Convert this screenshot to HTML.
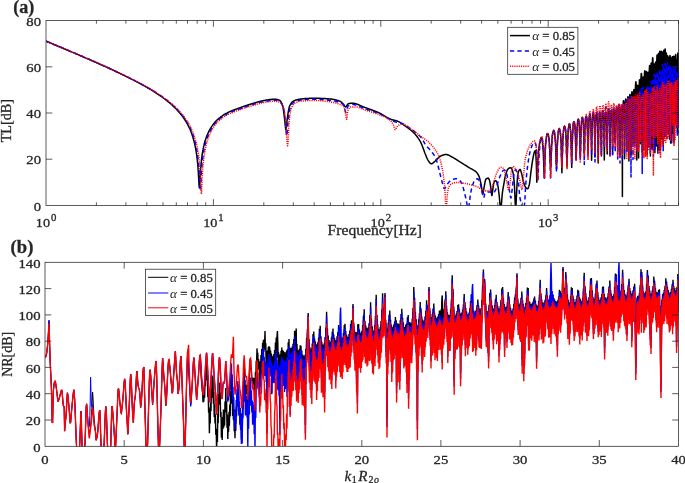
<!DOCTYPE html>
<html lang="en"><head><meta charset="utf-8"><title>TL and NR curves</title>
<style>html,body{margin:0;padding:0;background:#fff}svg{display:block}text{font-family:'Liberation Serif', 'DejaVu Serif', serif;fill:#262626;stroke:#262626;stroke-width:0.28px}</style>
</head><body>
<svg width="685" height="483" viewBox="0 0 685 483">
<rect width="685" height="483" fill="#fff"/>
<defs><clipPath id="ca"><rect x="46.0" y="20.5" width="633.0" height="185.0"/></clipPath>
<clipPath id="cb"><rect x="45.0" y="262.3" width="634.0" height="184.0"/></clipPath></defs>
<g clip-path="url(#ca)" fill="none" stroke-linejoin="round">
<path d="M46.0 41.1L48.0 42.0L50.0 42.8L52.0 43.6L54.0 44.5L56.0 45.3L58.0 46.2L60.0 47.0L62.0 47.8L64.0 48.7L66.0 49.5L68.0 50.4L70.0 51.2L72.0 52.1L74.0 52.9L76.0 53.8L78.0 54.6L80.0 55.5L82.0 56.3L84.0 57.2L86.0 58.1L88.0 58.9L90.0 59.8L92.0 60.7L94.0 61.5L96.0 62.4L98.0 63.3L100.0 64.2L102.0 65.1L104.0 66.0L106.0 66.9L108.0 67.8L110.0 68.7L112.0 69.6L114.0 70.6L116.0 71.5L118.0 72.5L120.0 73.4L122.0 74.4L124.0 75.3L126.0 76.3L128.0 77.3L130.0 78.3L132.0 79.3L134.0 80.3L136.0 81.4L138.0 82.4L140.0 83.5L142.0 84.6L144.0 85.7L146.0 86.9L148.0 88.0L150.0 89.2L152.0 90.4L154.0 91.7L156.0 92.9L158.0 94.3L160.0 95.6L162.0 97.0L164.0 98.5L166.0 100.0L168.0 101.6L170.0 103.2L172.0 105.0L174.0 106.9L176.0 108.8L178.0 110.9L180.0 113.2L180.5 113.8L181.0 114.5L181.5 115.1L182.0 115.7L182.5 116.4L183.0 117.1L183.5 117.8L184.0 118.5L184.5 119.2L185.0 120.0L185.5 120.8L186.0 121.6L186.5 122.4L187.0 123.3L187.5 124.2L188.0 125.2L188.5 126.1L189.0 127.2L189.5 128.2L190.0 129.3L190.5 130.5L191.0 131.7L191.5 133.1L192.0 134.4L192.5 135.9L193.0 137.5L193.5 139.2L194.0 141.1L194.5 143.1L195.0 145.3L195.5 147.8L196.0 150.6L196.2 151.6L196.3 152.5L196.5 153.5L196.6 154.6L196.8 155.7L196.9 156.9L197.1 158.1L197.2 159.4L197.4 160.8L197.5 162.3L197.7 163.9L197.8 165.6L198.0 167.4L198.1 169.4L198.3 171.5L198.4 173.9L198.6 176.4L198.7 179.1L198.9 181.9L199.0 184.5L199.2 186.6L199.3 187.7L199.5 187.2L199.6 185.5L199.8 183.1L199.9 180.4L200.1 177.7L200.2 175.1L200.4 172.7L200.5 170.5L200.7 168.5L200.8 166.7L201.0 165.0L201.1 163.4L201.3 161.9L201.4 160.5L201.6 159.2L201.7 158.0L201.9 156.8L202.0 155.7L202.2 154.7L202.3 153.7L202.5 152.8L202.6 151.9L202.8 151.0L202.9 150.2L203.1 149.4L203.2 148.6L203.4 147.9L203.5 147.2L203.7 146.5L203.8 145.9L204.0 145.2L204.1 144.6L204.3 144.0L204.4 143.4L204.6 142.9L204.7 142.3L204.9 141.8L205.0 141.3L205.2 140.8L205.3 140.3L205.5 139.8L205.6 139.4L205.8 138.9L205.9 138.5L206.0 138.2L206.5 136.8L207.0 135.5L207.5 134.3L208.0 133.2L208.5 132.1L209.0 131.1L209.5 130.2L210.0 129.3L210.5 128.4L211.0 127.6L211.5 126.8L212.0 126.1L212.5 125.4L213.0 124.7L213.5 124.0L214.0 123.4L214.5 122.8L215.0 122.2L215.5 121.6L216.0 121.1L216.5 120.5L217.0 120.0L217.2 119.8L217.6 119.5L218.0 119.1L218.4 118.8L218.8 118.5L219.2 118.2L219.6 117.9L220.0 117.6L220.4 117.2L220.8 116.9L221.2 116.6L221.6 116.4L222.0 116.1L222.4 115.8L222.8 115.5L223.2 115.2L223.6 115.0L224.0 114.7L224.4 114.4L224.8 114.2L225.2 114.0L225.6 113.7L226.0 113.5L226.4 113.3L226.8 113.1L227.1 112.9L227.2 112.8L227.6 112.6L228.0 112.4L228.4 112.3L228.8 112.1L229.2 111.9L229.6 111.7L230.0 111.5L230.4 111.4L230.8 111.2L231.2 111.0L231.6 110.9L232.0 110.7L232.4 110.5L232.8 110.4L233.2 110.2L233.6 110.1L234.0 109.9L234.4 109.8L234.8 109.6L235.2 109.5L235.6 109.3L236.0 109.2L236.4 109.0L236.8 108.9L237.2 108.8L237.6 108.6L238.0 108.5L238.4 108.3L238.8 108.2L239.2 108.0L239.6 107.9L239.6 107.9L240.0 107.8L240.4 107.6L240.8 107.5L241.2 107.3L241.6 107.2L242.0 107.0L242.4 106.9L242.8 106.7L243.2 106.6L243.6 106.5L244.0 106.3L244.4 106.2L244.8 106.0L245.2 105.9L245.6 105.8L246.0 105.6L246.4 105.5L246.8 105.4L247.2 105.2L247.6 105.1L248.0 105.0L248.4 104.8L248.8 104.7L249.2 104.6L249.6 104.5L250.0 104.3L250.4 104.2L250.8 104.1L251.2 104.0L251.6 103.8L252.0 103.7L252.4 103.6L252.4 103.6L252.8 103.5L253.2 103.4L253.6 103.2L254.0 103.1L254.4 103.0L254.8 102.9L255.2 102.8L255.6 102.7L256.0 102.5L256.4 102.4L256.8 102.3L257.2 102.2L257.6 102.1L258.0 102.0L258.4 101.9L258.8 101.7L259.2 101.6L259.6 101.5L260.0 101.4L260.4 101.3L260.8 101.2L261.2 101.1L261.6 101.0L262.0 100.9L262.4 100.9L262.8 100.8L263.2 100.7L263.6 100.6L264.0 100.5L264.4 100.5L264.8 100.4L264.8 100.4L265.2 100.3L265.6 100.3L266.0 100.2L266.4 100.1L266.8 100.1L267.2 100.0L267.6 99.9L268.0 99.9L268.4 99.8L268.8 99.7L269.2 99.7L269.6 99.6L270.0 99.6L270.4 99.5L270.8 99.5L271.2 99.4L271.6 99.4L272.0 99.3L272.4 99.3L272.8 99.3L273.2 99.2L273.6 99.2L274.0 99.2L274.4 99.2L274.7 99.2L274.8 99.2L275.2 99.2L275.6 99.2L276.0 99.3L276.4 99.3L276.8 99.4L277.2 99.5L277.6 99.6L278.0 99.7L278.4 99.9L278.8 100.0L279.2 100.2L279.6 100.4L279.7 100.4L280.0 100.6L280.4 101.0L280.8 101.5L281.2 102.3L281.6 103.1L282.0 104.1L282.4 105.2L282.7 106.1L282.8 106.4L283.2 108.4L283.6 111.1L284.0 114.2L284.4 117.5L284.7 119.8L284.8 120.6L285.2 124.8L285.6 128.6L285.9 129.7L286.0 129.6L286.4 126.8L286.8 122.5L287.1 119.8L287.2 119.1L287.6 116.4L288.0 113.7L288.4 111.2L288.8 109.1L289.2 107.3L289.6 106.1L289.6 106.1L290.0 105.3L290.4 104.5L290.8 103.8L291.2 103.2L291.6 102.7L292.0 102.2L292.4 101.8L292.8 101.5L293.2 101.3L293.3 101.2L293.6 101.0L294.0 100.8L294.4 100.7L294.8 100.5L295.2 100.3L295.6 100.2L296.0 100.0L296.4 99.9L296.8 99.8L297.2 99.7L297.6 99.6L298.0 99.5L298.4 99.4L298.8 99.3L299.2 99.3L299.6 99.2L299.6 99.2L300.0 99.2L300.4 99.1L300.8 99.1L301.2 99.0L301.6 99.0L302.0 98.9L302.4 98.9L302.8 98.8L303.2 98.8L303.6 98.8L304.0 98.7L304.4 98.7L304.8 98.6L305.2 98.6L305.6 98.6L306.0 98.5L306.4 98.5L306.8 98.5L307.2 98.5L307.6 98.4L308.0 98.4L308.4 98.4L308.8 98.4L309.2 98.3L309.6 98.3L310.0 98.3L310.4 98.3L310.8 98.3L311.2 98.3L311.6 98.2L312.0 98.2L312.4 98.2L312.8 98.2L313.2 98.2L313.6 98.2L314.0 98.2L314.4 98.2L314.4 98.2L314.8 98.2L315.2 98.2L315.6 98.2L316.0 98.2L316.4 98.2L316.8 98.2L317.2 98.2L317.6 98.2L318.0 98.2L318.4 98.3L318.8 98.3L319.2 98.3L319.6 98.3L320.0 98.3L320.4 98.3L320.8 98.4L321.2 98.4L321.6 98.4L322.0 98.4L322.4 98.4L322.8 98.5L323.2 98.5L323.6 98.5L324.0 98.5L324.4 98.5L324.8 98.6L325.2 98.6L325.6 98.6L326.0 98.7L326.4 98.7L326.8 98.7L327.2 98.7L327.6 98.8L328.0 98.8L328.4 98.8L328.8 98.9L329.2 98.9L329.3 98.9L329.6 98.9L330.0 99.0L330.4 99.0L330.8 99.0L331.2 99.1L331.6 99.1L332.0 99.2L332.4 99.3L332.8 99.3L333.2 99.4L333.6 99.5L334.0 99.5L334.4 99.6L334.8 99.7L335.2 99.8L335.6 99.9L336.0 100.0L336.4 100.1L336.8 100.2L337.2 100.3L337.6 100.4L338.0 100.5L338.4 100.7L338.8 100.8L339.2 100.9L339.6 101.1L339.9 101.2L340.0 101.2L340.4 101.4L340.8 101.7L341.2 102.0L341.6 102.3L342.0 102.7L342.4 103.1L342.8 103.5L343.2 104.0L343.6 104.4L343.6 104.4L344.0 105.0L344.4 105.7L344.8 106.4L345.2 106.8L345.4 106.9L345.6 106.9L346.0 106.6L346.4 106.2L346.8 105.6L347.2 105.0L347.6 104.5L348.0 104.0L348.4 103.7L348.6 103.6L348.8 103.6L349.2 103.5L349.6 103.4L350.0 103.4L350.4 103.3L350.8 103.3L351.2 103.2L351.6 103.2L352.0 103.2L352.3 103.2L352.4 103.2L352.8 103.2L353.2 103.2L353.6 103.3L354.0 103.3L354.4 103.4L354.8 103.5L355.2 103.6L355.6 103.7L356.0 103.8L356.4 103.9L356.8 104.1L357.2 104.2L357.6 104.4L358.0 104.5L358.4 104.7L358.8 104.9L359.2 105.0L359.6 105.2L360.0 105.4L360.4 105.6L360.8 105.8L361.2 105.9L361.6 106.1L362.0 106.3L362.4 106.5L362.8 106.6L363.2 106.8L363.6 107.0L364.0 107.1L364.4 107.3L364.7 107.4L364.8 107.4L365.2 107.6L365.6 107.7L366.0 107.9L366.4 108.0L366.8 108.1L367.2 108.3L367.6 108.4L368.0 108.6L368.4 108.7L368.8 108.9L369.2 109.0L369.6 109.1L370.0 109.3L370.4 109.4L370.8 109.6L371.2 109.7L371.6 109.9L372.0 110.0L372.4 110.2L372.8 110.3L373.2 110.5L373.6 110.6L374.0 110.8L374.4 110.9L374.8 111.1L375.2 111.2L375.6 111.4L376.0 111.6L376.4 111.7L376.8 111.9L377.2 112.0L377.6 112.2L378.0 112.4L378.4 112.6L378.8 112.7L379.2 112.9L379.6 113.1L379.6 113.1L380.0 113.3L380.4 113.5L380.8 113.7L381.2 113.9L381.6 114.1L382.0 114.4L382.4 114.6L382.8 114.8L383.2 115.1L383.6 115.3L384.0 115.6L384.4 115.8L384.8 116.1L385.2 116.3L385.6 116.6L386.0 116.8L386.4 117.1L386.8 117.3L387.2 117.6L387.6 117.8L388.0 118.0L388.4 118.2L388.8 118.4L389.2 118.6L389.6 118.8L390.0 119.0L390.4 119.2L390.8 119.3L390.8 119.3L391.2 119.4L391.6 119.6L392.0 119.7L392.4 119.8L392.8 119.9L393.2 120.0L393.6 120.1L394.0 120.2L394.4 120.3L394.8 120.3L395.2 120.4L395.6 120.6L396.0 120.7L396.4 120.8L396.8 120.9L397.0 121.0L397.2 121.1L397.6 121.2L398.0 121.4L398.4 121.6L398.8 121.8L399.2 122.0L399.6 122.2L400.0 122.4L400.4 122.7L400.8 122.9L401.2 123.2L401.6 123.4L402.0 123.7L402.4 124.0L402.8 124.2L403.2 124.5L403.6 124.8L404.0 125.1L404.4 125.4L404.8 125.7L405.2 126.0L405.6 126.3L406.0 126.5L406.4 126.8L406.8 127.1L406.9 127.2L407.2 127.4L407.6 127.7L408.0 128.0L408.4 128.3L408.8 128.6L409.2 128.9L409.6 129.2L410.0 129.5L410.4 129.8L410.8 130.1L411.2 130.4L411.6 130.8L412.0 131.1L412.4 131.5L412.8 131.8L413.2 132.2L413.6 132.6L414.0 133.0L414.4 133.4L414.4 133.4L414.8 133.8L415.2 134.3L415.6 134.7L416.0 135.2L416.4 135.7L416.8 136.2L417.2 136.7L417.6 137.3L418.0 137.9L418.4 138.4L418.8 139.1L419.2 139.7L419.6 140.4L420.0 141.0L420.4 141.7L420.6 142.1L420.8 142.5L421.2 143.3L421.6 144.2L422.0 145.2L422.4 146.2L422.8 147.3L423.2 148.4L423.6 149.5L424.0 150.6L424.4 151.7L424.8 152.8L425.2 153.8L425.5 154.5L425.6 154.7L426.0 155.7L426.4 156.7L426.8 157.7L427.2 158.6L427.6 159.5L428.0 160.2L428.3 160.7L428.4 160.8L428.8 161.4L429.2 162.0L429.6 162.5L430.0 163.0L430.4 163.3L430.8 163.6L431.2 163.8L431.4 163.8L431.6 163.8L432.0 163.7L432.4 163.5L432.8 163.2L433.2 162.9L433.6 162.5L434.0 162.1L434.4 161.7L434.8 161.3L435.2 161.0L435.5 160.7L435.6 160.6L436.0 160.3L436.4 159.9L436.8 159.5L437.2 159.1L437.6 158.6L438.0 158.2L438.4 157.8L438.8 157.4L439.2 157.0L439.6 156.7L440.0 156.4L440.4 156.1L440.7 156.0L440.8 156.0L441.2 155.8L441.6 155.6L442.0 155.4L442.4 155.3L442.8 155.1L443.2 155.0L443.6 154.9L444.0 154.8L444.4 154.7L444.8 154.6L445.2 154.5L445.6 154.5L445.9 154.5L446.0 154.5L446.4 154.5L446.8 154.6L447.2 154.7L447.6 154.8L448.0 154.9L448.4 155.1L448.8 155.2L449.2 155.4L449.6 155.6L450.0 155.9L450.4 156.1L450.8 156.3L451.2 156.5L451.6 156.8L452.0 157.0L452.4 157.2L452.8 157.4L453.1 157.6L453.2 157.7L453.6 157.9L454.0 158.1L454.4 158.3L454.8 158.5L455.2 158.8L455.6 159.0L456.0 159.3L456.4 159.5L456.8 159.8L457.2 160.0L457.6 160.3L458.0 160.6L458.4 160.8L458.8 161.1L459.2 161.4L459.6 161.6L460.0 161.9L460.4 162.2L460.8 162.4L461.2 162.7L461.4 162.8L461.6 162.9L462.0 163.2L462.4 163.4L462.8 163.7L463.2 163.9L463.6 164.2L464.0 164.4L464.4 164.7L464.8 164.9L465.2 165.2L465.6 165.4L466.0 165.7L466.4 166.0L466.8 166.2L467.2 166.5L467.6 166.7L468.0 167.0L468.4 167.2L468.8 167.4L469.2 167.7L469.6 167.9L469.7 168.0L470.0 168.2L470.4 168.4L470.8 168.6L471.2 168.8L471.6 169.0L472.0 169.2L472.4 169.4L472.8 169.6L473.2 169.8L473.6 170.1L474.0 170.3L474.4 170.6L474.8 170.8L475.2 171.1L475.6 171.4L475.9 171.7L476.0 171.8L476.4 172.2L476.8 172.6L477.2 173.1L477.6 173.7L478.0 174.4L478.4 175.1L478.8 175.9L479.0 176.3L479.2 176.8L479.6 178.0L480.0 179.6L480.4 181.3L480.8 183.1L481.1 184.5L481.2 185.0L481.6 187.6L482.0 190.6L482.4 193.0L482.8 194.0L482.8 194.0L483.2 192.9L483.6 190.5L484.0 187.7L484.2 186.6L484.4 185.6L484.8 183.3L485.2 181.2L485.6 179.8L485.8 179.4L486.0 179.2L486.4 178.9L486.8 178.6L487.2 178.3L487.6 178.2L488.0 178.1L488.2 178.1L488.4 178.2L488.8 178.7L489.2 179.6L489.6 180.8L489.8 181.4L490.0 182.3L490.4 184.9L490.8 188.0L490.9 188.7L491.2 191.2L491.6 194.5L491.9 195.6L492.0 195.5L492.4 192.9L492.8 189.4L492.9 188.7L493.2 186.7L493.6 184.0L494.0 182.2L494.1 182.0L494.4 181.6L494.8 181.2L495.2 180.9L495.6 180.7L495.8 180.7L496.0 180.8L496.4 181.2L496.8 182.1L497.2 183.2L497.6 184.5L497.6 184.5L498.0 186.4L498.4 189.2L498.8 192.5L499.1 194.9L499.2 195.7L499.6 200.0L500.0 204.6L500.4 208.1L500.7 209.0L500.8 208.9L501.2 206.5L501.6 202.1L502.0 197.1L502.4 192.8L502.5 192.0L502.8 190.0L503.2 187.7L503.5 186.0L503.6 185.4L504.0 183.1L504.4 180.8L504.8 178.5L505.2 176.6L505.6 175.0L505.6 175.0L506.0 173.7L506.4 172.4L506.8 171.3L507.2 170.3L507.6 169.5L508.0 169.0L508.1 168.9L508.4 168.7L508.8 168.4L509.2 168.1L509.6 167.9L510.0 167.8L510.4 167.7L510.6 167.7L510.8 167.7L511.2 168.1L511.6 168.7L512.0 169.5L512.4 170.5L512.7 171.4L512.8 171.7L513.2 173.7L513.6 176.6L514.0 180.3L514.4 184.6L514.4 184.6L514.8 193.0L515.2 203.7L515.6 209.0L515.6 209.0L516.0 204.9L516.4 196.7L516.6 193.0L516.8 189.4L517.2 181.7L517.6 176.4L517.6 176.4L518.0 173.9L518.4 172.0L518.8 170.8L518.9 170.6L519.2 170.1L519.6 169.6L520.0 169.4L520.0 169.4L520.4 169.8L520.8 170.8L521.2 172.1L521.6 173.6L521.7 173.9L522.0 175.1L522.4 177.1L522.8 179.1L523.2 180.9L523.3 181.3L523.6 182.3L524.0 183.6L524.4 184.8L524.8 185.8L525.2 186.7L525.5 187.1L525.6 187.2L526.0 187.7L526.4 188.1L526.8 188.5L527.2 188.7L527.6 188.8L527.6 188.8L528.0 188.5L528.4 187.6L528.8 186.4L529.2 185.0L529.3 184.6L529.6 183.1L530.0 180.0L530.4 176.5L530.8 172.9L531.0 171.4L531.2 170.0L531.6 167.1L532.0 164.2L532.4 161.6L532.8 159.2L533.0 158.1L533.2 157.1L533.6 155.0L534.0 153.2L534.4 151.9L534.6 151.5L534.8 151.2L535.2 150.8L535.4 150.7L535.6 151.5L536.0 157.0L536.3 163.0L536.4 166.3L536.8 182.2L536.8 182.2L537.2 176.0L537.6 166.4L537.6 166.4L538.0 159.5L538.4 153.3L538.7 149.9L538.8 149.0L539.2 145.9L539.6 143.4L540.0 141.4L540.4 139.9L540.4 139.9L540.8 138.8L541.2 137.9L541.6 137.5L541.6 137.5L542.0 138.6L542.4 141.5L542.8 145.5L542.9 146.6L543.2 151.3L543.6 160.5L543.7 163.0L544.0 171.5L544.2 178.0L544.7 165.1L545.2 151.5L545.6 143.9L546.1 139.2L546.6 136.1L547.0 134.3L547.5 133.6L547.9 133.8L548.4 135.2L548.8 137.8L549.3 142.1L549.7 149.1L550.2 162.3L550.6 169.2L551.0 161.9L551.5 148.2L551.9 140.7L552.3 136.0L552.8 132.9L553.2 131.1L553.6 130.4L554.0 130.8L554.4 132.2L554.8 134.9L555.3 139.3L555.7 146.4L556.1 159.7L556.5 168.7L556.9 159.4L557.3 145.9L557.7 138.5L558.1 133.8L558.5 130.8L558.9 129.1L559.2 128.5L559.6 128.9L560.0 130.3L560.4 133.0L560.8 137.4L561.2 144.5L561.5 157.8L561.9 172.7L562.3 157.4L562.7 143.8L563.0 136.3L563.4 131.6L563.8 128.5L564.1 126.7L564.5 126.0L564.8 126.4L565.2 127.8L565.6 130.4L565.9 134.8L566.3 142.0L566.6 155.2L567.0 166.9L567.3 154.9L567.7 141.4L568.0 134.0L568.4 129.3L568.7 126.3L569.0 124.6L569.4 124.0L569.7 124.3L570.0 125.8L570.4 128.5L570.7 132.9L571.0 140.0L571.4 153.3L571.7 167.5L572.0 153.0L572.4 139.4L572.7 131.9L573.0 127.2L573.3 124.1L573.6 122.4L574.0 121.6L574.3 122.0L574.6 123.3L574.9 126.0L575.2 130.4L575.5 137.5L575.8 150.7L576.1 159.6L576.4 150.3L576.8 136.7L577.1 129.3L577.4 124.5L577.7 121.5L578.0 119.7L578.3 119.0L578.6 119.4L578.9 120.8L579.2 123.5L579.4 127.8L579.7 135.0L580.0 148.2L580.3 157.4L580.6 148.0L580.9 134.4L581.2 127.0L581.5 122.4L581.8 119.4L582.0 117.8L582.3 117.2L582.6 117.6L582.9 119.1L583.2 121.8L583.5 126.3L583.7 133.5L584.0 146.8L584.3 153.7L584.6 146.7L584.8 133.2L585.1 125.8L585.4 121.2L585.6 118.3L585.9 116.6L586.2 116.0L586.4 116.4L586.7 117.9L587.0 120.6L587.2 125.1L587.5 132.3L587.8 145.6L588.0 153.6L588.3 145.2L588.6 131.7L588.8 124.3L589.1 119.6L589.3 116.7L589.6 115.0L589.8 114.4L590.1 114.8L590.3 116.3L590.6 119.0L590.9 123.4L591.1 130.6L591.4 143.9L591.6 160.3L591.8 143.6L592.1 130.1L592.3 122.7L592.6 118.1L592.8 115.2L593.1 113.5L593.3 112.9L593.6 113.4L593.8 114.9L594.0 117.7L594.3 122.1L594.5 129.4L594.8 142.7L595.0 156.3L595.2 143.7L595.5 130.2L595.7 122.9L595.9 118.3L596.2 115.4L596.4 113.8L596.6 113.2L596.9 113.7L597.1 115.2L597.3 118.0L597.6 122.5L597.8 129.7L598.0 143.1L598.2 162.9L598.5 142.7L598.7 129.2L598.9 121.9L599.2 117.3L599.4 114.4L599.6 112.8L599.8 112.2L600.0 112.7L600.3 114.2L600.5 117.1L600.7 121.6L600.9 128.8L601.1 142.2L601.4 155.9L601.6 141.0L601.8 127.5L602.0 120.2L602.2 115.6L602.4 112.7L602.7 111.1L602.9 110.6L603.1 111.0L603.3 112.6L603.5 115.4L603.7 119.9L603.9 127.1L604.1 140.5L604.3 160.0L604.6 142.5L604.8 129.0L605.0 121.7L605.2 117.1L605.4 114.2L605.6 112.6L605.8 112.0L606.0 112.5L606.2 114.0L606.4 116.9L606.6 121.4L606.8 128.6L607.0 142.0L607.2 153.9L607.4 139.1L607.6 125.6L607.8 118.3L608.0 113.7L608.2 110.8L608.4 109.2L608.6 108.7L608.8 109.1L609.0 110.7L609.2 113.5L609.4 118.0L609.6 125.2L609.8 138.6L610.0 154.9L610.2 141.0L610.3 127.5L610.5 120.2L610.7 115.6L610.9 112.7L611.1 111.1L611.3 110.5L611.5 111.0L611.7 112.5L611.9 115.3L612.1 119.8L612.2 127.1L612.4 140.4L612.6 154.2L612.8 141.0L613.0 127.6L613.2 120.2L613.4 115.6L613.5 112.7L613.7 111.1L613.9 110.5L614.1 111.0L614.3 112.5L614.5 115.3L614.6 119.8L614.8 127.0L615.0 140.4L615.2 142.8L615.4 138.6L615.5 125.1L615.7 117.7L615.9 113.1L616.1 110.2L616.3 108.6L616.4 108.0L616.6 108.4L616.8 109.9L617.0 112.7L617.1 117.2L617.3 124.4L617.5 137.7L617.7 150.8L617.8 135.2L618.0 121.7L618.2 114.3L618.3 109.7L618.5 106.7L618.7 105.1L618.9 104.5L619.0 104.9L619.2 106.4L619.4 109.1L619.5 113.6L619.7 120.7L619.9 134.0L620.0 154.4L620.2 138.0L620.4 124.4L620.6 117.0L620.7 112.3L620.9 109.3L621.1 107.6L621.2 106.9L621.4 107.2L621.5 108.6L621.7 111.3L621.9 115.6L622.0 122.7L622.2 135.9L622.4 196.5L622.5 132.2L622.7 118.6L622.9 111.1L623.0 106.4L623.2 103.3L623.3 101.5L623.5 100.7L623.7 101.0L623.8 102.4L624.0 105.0L624.1 109.3L624.3 116.4L624.5 129.6L624.6 158.7L624.8 130.6L624.9 116.9L625.1 109.4L625.2 104.7L625.4 101.6L625.6 99.7L625.7 99.0L625.9 99.2L626.0 100.5L626.2 103.1L626.3 107.4L626.5 114.4L626.6 127.6L626.8 151.2L626.9 128.6L627.1 114.9L627.2 107.4L627.4 102.5L627.6 99.4L627.7 97.6L627.9 96.8L628.0 97.1L628.2 98.4L628.3 101.1L628.5 105.4L628.6 112.4L628.8 125.6L628.9 161.0L629.1 125.8L629.2 112.1L629.3 104.7L629.5 99.9L629.6 96.9L629.8 95.1L629.9 94.4L630.1 94.7L630.2 96.1L630.4 98.8L630.5 103.1L630.7 110.2L630.8 123.5L631.0 154.8L631.1 123.0L631.2 109.4L631.4 101.9L631.5 97.2L631.7 94.2L631.8 92.4L632.0 91.8L632.1 92.1L632.2 93.5L632.4 96.2L632.5 100.6L632.7 107.7L632.8 120.9L633.0 143.0L633.1 120.8L633.2 107.2L633.4 99.8L633.5 95.0L633.7 92.0L633.8 90.3L633.9 89.6L634.1 89.9L634.2 91.3L634.4 94.0L634.5 98.4L634.6 105.5L634.8 118.7L634.9 142.7L635.0 113.0L635.2 99.4L635.3 91.9L635.4 87.2L635.6 84.2L635.7 82.4L635.9 81.7L636.0 82.0L636.1 83.5L636.3 86.1L636.4 90.5L636.5 97.6L636.7 110.8L636.8 160.0L636.9 116.5L637.1 102.9L637.2 95.5L637.3 90.8L637.5 87.7L637.6 86.0L637.7 85.3L637.9 85.6L638.0 87.0L638.1 89.7L638.3 94.1L638.4 101.2L638.5 114.4L638.6 158.1L638.8 111.0L638.9 97.4L639.0 90.0L639.2 85.2L639.3 82.2L639.4 80.5L639.5 79.8L639.7 80.1L639.8 81.5L639.9 84.2L640.1 88.6L640.2 95.7L640.3 108.9L640.4 143.7L640.6 104.6L640.7 91.0L640.8 83.6L640.9 78.9L641.1 75.8L641.2 74.1L641.3 73.4L641.5 73.7L641.6 75.1L641.7 77.8L641.8 82.2L642.0 89.3L642.1 102.5L642.2 152.1L642.3 108.3L642.4 94.7L642.6 87.2L642.7 82.5L642.8 79.5L642.9 77.7L643.1 77.0L643.2 77.4L643.3 78.8L643.4 81.5L643.6 85.8L643.7 92.9L643.8 106.2L643.9 150.0L644.0 102.0L644.2 88.4L644.3 80.9L644.4 76.2L644.5 73.2L644.6 71.5L644.8 70.8L644.9 71.1L645.0 72.5L645.1 75.2L645.2 79.6L645.4 86.7L645.5 100.0L645.6 141.3L645.7 102.8L645.8 89.2L645.9 81.8L646.1 77.1L646.2 74.1L646.3 72.3L646.4 71.6L646.5 72.0L646.6 73.4L646.8 76.1L646.9 80.4L647.0 87.5L647.1 100.8L647.2 154.7L647.3 103.4L647.5 89.8L647.6 82.3L647.7 77.6L647.8 74.6L647.9 72.9L648.0 72.2L648.1 72.5L648.3 73.9L648.4 76.6L648.5 81.0L648.6 88.1L648.7 101.4L648.8 138.9L648.9 96.7L649.1 83.2L649.2 75.7L649.3 71.0L649.4 68.0L649.5 66.3L649.6 65.6L649.7 66.0L649.8 67.4L650.0 70.1L650.1 74.5L650.2 81.6L650.3 94.9L650.4 155.9L650.5 94.1L650.6 80.5L650.7 73.1L650.8 68.4L651.0 65.5L651.1 63.7L651.2 63.1L651.3 63.5L651.4 64.9L651.5 67.6L651.6 72.1L651.7 79.2L651.8 92.5L651.9 148.3L652.0 88.6L652.2 75.1L652.3 67.7L652.4 63.0L652.5 60.0L652.6 58.3L652.7 57.7L652.8 58.1L652.9 59.5L653.0 62.2L653.1 66.7L653.2 73.8L653.3 87.1L653.4 149.7L653.5 94.9L653.6 81.4L653.8 74.0L653.9 69.3L654.0 66.3L654.1 64.6L654.2 64.0L654.3 64.4L654.4 65.8L654.5 68.6L654.6 73.0L654.7 80.2L654.8 93.5L654.9 152.8L655.0 92.9L655.1 79.4L655.2 72.0L655.3 67.4L655.4 64.4L655.5 62.7L655.6 62.1L655.7 62.5L655.8 64.0L655.9 66.7L656.0 71.2L656.1 78.3L656.3 91.7L656.4 146.0L656.5 85.7L656.6 72.2L656.7 64.8L656.8 60.2L656.9 57.2L657.0 55.5L657.1 54.9L657.2 55.4L657.3 56.9L657.4 59.6L657.5 64.1L657.6 71.3L657.7 84.6L657.8 150.1L657.9 84.2L658.0 70.7L658.1 63.3L658.2 58.7L658.3 55.8L658.4 54.1L658.5 53.5L658.6 54.0L658.7 55.5L658.8 58.3L658.9 62.7L659.0 70.0L659.1 83.3L659.2 150.8L659.3 81.8L659.4 68.3L659.4 61.0L659.5 56.4L659.6 53.4L659.7 51.8L659.8 51.2L659.9 51.6L660.0 53.2L660.1 55.9L660.2 60.4L660.3 67.6L660.4 81.0L660.5 149.8L660.6 81.8L660.7 68.3L660.8 60.9L660.9 56.3L661.0 53.4L661.1 51.8L661.2 51.2L661.3 51.6L661.4 53.2L661.5 56.0L661.6 60.5L661.7 67.7L661.8 81.0L661.9 138.4L661.9 82.3L662.0 68.9L662.1 61.5L662.2 56.9L662.3 54.0L662.4 52.4L662.5 51.9L662.6 52.3L662.7 53.9L662.8 56.7L662.9 61.2L663.0 68.5L663.1 81.9L663.2 144.9L663.3 80.6L663.4 67.1L663.4 59.8L663.5 55.3L663.6 52.4L663.7 50.8L663.8 50.3L663.9 50.8L664.0 52.4L664.1 55.3L664.2 59.8L664.3 67.1L664.4 80.5L664.5 137.1L664.5 79.0L664.6 65.6L664.7 58.3L664.8 53.8L664.9 51.0L665.0 49.4L665.1 48.9L665.2 49.4L665.3 51.0L665.4 53.9L665.5 58.5L665.5 65.8L665.6 79.3L665.7 136.0L665.8 83.1L665.9 69.7L666.0 62.4L666.1 57.9L666.2 55.1L666.3 53.6L666.3 53.1L666.4 53.7L666.5 55.3L666.6 58.2L666.7 62.8L666.8 70.1L666.9 83.6L667.0 128.4L667.1 85.6L667.1 72.2L667.2 65.0L667.3 60.5L667.4 57.7L667.5 56.2L667.6 55.7L667.7 56.3L667.8 57.9L667.8 60.8L667.9 65.4L668.0 72.7L668.1 86.2L668.2 133.8L668.3 87.1L668.4 73.8L668.5 66.6L668.5 62.1L668.6 59.3L668.7 57.7L668.8 57.3L668.9 57.9L669.0 59.5L669.1 62.4L669.1 67.0L669.2 74.3L669.3 87.8L669.4 139.1L669.5 85.3L669.6 71.9L669.7 64.7L669.7 60.2L669.8 57.4L669.9 55.8L670.0 55.4L670.1 55.9L670.2 57.6L670.2 60.5L670.3 65.1L670.4 72.4L670.5 85.9L670.6 143.1L670.7 87.9L670.7 74.5L670.8 67.3L670.9 62.9L671.0 60.1L671.1 58.6L671.2 58.1L671.2 58.7L671.3 60.4L671.4 63.3L671.5 68.0L671.6 75.3L671.7 88.8L671.7 140.6L671.8 86.4L671.9 73.1L672.0 65.9L672.1 61.4L672.2 58.6L672.2 57.1L672.3 56.7L672.4 57.3L672.5 58.9L672.6 61.8L672.6 66.4L672.7 73.8L672.8 87.3L672.9 133.2L673.0 86.1L673.1 72.7L673.1 65.5L673.2 61.0L673.3 58.2L673.4 56.6L673.5 56.2L673.5 56.7L673.6 58.3L673.7 61.2L673.8 65.7L673.9 73.0L673.9 86.4L674.0 142.6L674.1 86.9L674.2 73.5L674.3 66.2L674.3 61.6L674.4 58.8L674.5 57.2L674.6 56.6L674.7 57.1L674.7 58.7L674.8 61.5L674.9 66.0L675.0 73.3L675.1 86.7L675.1 124.1L675.2 85.1L675.3 71.6L675.4 64.3L675.4 59.7L675.5 56.8L675.6 55.2L675.7 54.6L675.8 55.1L675.8 56.6L675.9 59.4L676.0 63.9L676.1 71.1L676.2 84.5L676.2 122.9L676.3 90.5L676.4 77.1L676.5 69.7L676.5 65.1L676.6 62.2L676.7 60.5L676.8 59.9L676.8 60.4L676.9 61.9L677.0 64.6L677.1 69.1L677.2 76.3L677.2 89.6L677.3 131.9L677.4 83.7L677.5 70.2L677.5 62.8L677.6 58.1L677.7 55.2L677.8 53.5L677.8 52.9L677.9 53.3L678.0 54.8L678.1 57.5L678.1 61.9L678.2 69.1L678.3 82.4L678.4 123.0L678.4 84.8" stroke="#000" stroke-width="1.50"/>
<path d="M46.0 41.1L48.0 42.0L50.0 42.8L52.0 43.6L54.0 44.5L56.0 45.3L58.0 46.1L60.0 47.0L62.0 47.8L64.0 48.7L66.0 49.5L68.0 50.3L70.0 51.2L72.0 52.0L74.0 52.9L76.0 53.7L78.0 54.6L80.0 55.5L82.0 56.3L84.0 57.2L86.0 58.0L88.0 58.9L90.0 59.8L92.0 60.6L94.0 61.5L96.0 62.4L98.0 63.3L100.0 64.2L102.0 65.1L104.0 66.0L106.0 66.9L108.0 67.8L110.0 68.7L112.0 69.6L114.0 70.5L116.0 71.5L118.0 72.4L120.0 73.3L122.0 74.3L124.0 75.3L126.0 76.2L128.0 77.2L130.0 78.2L132.0 79.2L134.0 80.2L136.0 81.3L138.0 82.3L140.0 83.4L142.0 84.5L144.0 85.6L146.0 86.7L148.0 87.9L150.0 89.0L152.0 90.2L154.0 91.5L156.0 92.7L158.0 94.0L160.0 95.4L162.0 96.7L164.0 98.2L166.0 99.7L168.0 101.2L170.0 102.8L172.0 104.5L174.0 106.3L176.0 108.3L178.0 110.3L180.0 112.5L180.5 113.1L181.0 113.7L181.5 114.3L182.0 114.9L182.5 115.5L183.0 116.2L183.5 116.8L184.0 117.5L184.5 118.2L185.0 119.0L185.5 119.7L186.0 120.5L186.5 121.2L187.0 122.1L187.5 122.9L188.0 123.8L188.5 124.7L189.0 125.6L189.5 126.6L190.0 127.6L190.5 128.7L191.0 129.8L191.5 131.0L192.0 132.2L192.5 133.6L193.0 135.0L193.5 136.4L194.0 138.0L194.5 139.8L195.0 141.6L195.5 143.7L196.0 145.9L196.2 146.7L196.3 147.4L196.5 148.2L196.6 149.0L196.8 149.8L196.9 150.7L197.1 151.6L197.2 152.6L197.4 153.6L197.5 154.6L197.7 155.7L197.8 156.9L198.0 158.1L198.1 159.4L198.3 160.8L198.4 162.2L198.6 163.8L198.7 165.5L198.9 167.3L199.0 169.3L199.2 171.5L199.3 173.9L199.5 176.5L199.6 179.3L199.8 182.4L199.9 185.6L200.1 188.6L200.2 190.6L200.4 190.8L200.5 189.2L200.7 186.5L200.8 183.3L201.0 180.2L201.1 177.4L201.3 174.7L201.4 172.3L201.6 170.1L201.7 168.2L201.9 166.3L202.0 164.6L202.2 163.1L202.3 161.6L202.5 160.3L202.6 159.0L202.8 157.8L202.9 156.7L203.1 155.6L203.2 154.6L203.4 153.6L203.5 152.7L203.7 151.8L203.8 151.0L204.0 150.2L204.1 149.4L204.3 148.6L204.4 147.9L204.6 147.2L204.7 146.5L204.9 145.9L205.0 145.3L205.2 144.7L205.3 144.1L205.5 143.5L205.6 143.0L205.8 142.4L205.9 141.9L206.0 141.5L206.5 139.9L207.0 138.4L207.5 137.1L208.0 135.8L208.5 134.6L209.0 133.4L209.5 132.4L210.0 131.4L210.5 130.4L211.0 129.5L211.5 128.7L212.0 127.8L212.5 127.0L213.0 126.3L213.5 125.6L214.0 124.9L214.5 124.2L215.0 123.6L215.5 123.0L216.0 122.4L216.5 121.8L217.0 121.2L217.2 121.0L217.6 120.7L218.0 120.3L218.4 120.0L218.8 119.7L219.2 119.3L219.6 119.0L220.0 118.7L220.4 118.4L220.8 118.0L221.2 117.7L221.6 117.4L222.0 117.1L222.4 116.8L222.8 116.6L223.2 116.3L223.6 116.0L224.0 115.7L224.4 115.5L224.8 115.2L225.2 115.0L225.6 114.7L226.0 114.5L226.4 114.3L226.8 114.1L227.1 113.9L227.2 113.8L227.6 113.6L228.0 113.4L228.4 113.3L228.8 113.1L229.2 112.9L229.6 112.7L230.0 112.5L230.4 112.3L230.8 112.2L231.2 112.0L231.6 111.8L232.0 111.7L232.4 111.5L232.8 111.4L233.2 111.2L233.6 111.1L234.0 110.9L234.4 110.8L234.8 110.6L235.2 110.5L235.6 110.3L236.0 110.2L236.4 110.0L236.8 109.9L237.2 109.8L237.6 109.6L238.0 109.5L238.4 109.3L238.8 109.2L239.2 109.0L239.6 108.9L239.6 108.9L240.0 108.8L240.4 108.6L240.8 108.5L241.2 108.3L241.6 108.2L242.0 108.0L242.4 107.9L242.8 107.7L243.2 107.6L243.6 107.5L244.0 107.3L244.4 107.2L244.8 107.0L245.2 106.9L245.6 106.8L246.0 106.6L246.4 106.5L246.8 106.4L247.2 106.2L247.6 106.1L248.0 106.0L248.4 105.8L248.8 105.7L249.2 105.6L249.6 105.5L250.0 105.3L250.4 105.2L250.8 105.1L251.2 105.0L251.6 104.8L252.0 104.7L252.4 104.6L252.4 104.6L252.8 104.5L253.2 104.4L253.6 104.2L254.0 104.1L254.4 104.0L254.8 103.9L255.2 103.8L255.6 103.7L256.0 103.5L256.4 103.4L256.8 103.3L257.2 103.2L257.6 103.1L258.0 103.0L258.4 102.9L258.8 102.7L259.2 102.6L259.6 102.5L260.0 102.4L260.4 102.3L260.8 102.2L261.2 102.1L261.6 102.0L262.0 101.9L262.4 101.9L262.8 101.8L263.2 101.7L263.6 101.6L264.0 101.5L264.4 101.5L264.8 101.4L264.8 101.4L265.2 101.3L265.6 101.3L266.0 101.2L266.4 101.1L266.8 101.1L267.2 101.0L267.6 100.9L268.0 100.9L268.4 100.8L268.8 100.7L269.2 100.7L269.6 100.6L270.0 100.6L270.4 100.5L270.8 100.5L271.2 100.4L271.6 100.4L272.0 100.3L272.4 100.3L272.8 100.3L273.2 100.2L273.6 100.2L274.0 100.2L274.4 100.2L274.7 100.2L274.8 100.2L275.2 100.2L275.6 100.2L276.0 100.3L276.4 100.3L276.8 100.4L277.2 100.5L277.6 100.6L278.0 100.7L278.4 100.9L278.8 101.0L279.2 101.2L279.6 101.3L280.0 101.5L280.0 101.5L280.4 101.8L280.8 102.1L281.2 102.7L281.6 103.3L282.0 104.1L282.4 104.9L282.8 105.9L283.2 107.0L283.2 107.0L283.6 108.6L284.0 110.8L284.4 113.6L284.8 116.7L285.2 120.0L285.2 120.0L285.6 124.5L286.0 130.2L286.4 134.6L286.7 135.9L286.8 135.7L287.2 132.6L287.6 127.2L288.0 121.9L288.2 120.0L288.4 118.5L288.8 115.6L289.2 112.9L289.6 110.6L290.0 108.6L290.4 107.3L290.5 107.0L290.8 106.3L291.2 105.5L291.6 104.8L292.0 104.2L292.4 103.6L292.8 103.2L293.2 102.8L293.6 102.5L294.0 102.2L294.0 102.2L294.4 102.0L294.8 101.8L295.2 101.6L295.6 101.4L296.0 101.2L296.4 101.1L296.8 100.9L297.2 100.8L297.6 100.7L298.0 100.6L298.4 100.5L298.8 100.4L299.2 100.3L299.6 100.3L300.0 100.2L300.0 100.2L300.4 100.2L300.8 100.1L301.2 100.1L301.6 100.0L302.0 100.0L302.4 99.9L302.8 99.9L303.2 99.9L303.6 99.8L304.0 99.8L304.4 99.8L304.8 99.7L305.2 99.7L305.6 99.7L306.0 99.6L306.4 99.6L306.8 99.6L307.2 99.5L307.6 99.5L308.0 99.5L308.4 99.5L308.8 99.4L309.2 99.4L309.6 99.4L310.0 99.4L310.4 99.4L310.8 99.4L311.2 99.3L311.6 99.3L312.0 99.3L312.4 99.3L312.8 99.3L313.2 99.3L313.6 99.3L314.0 99.3L314.4 99.3L314.4 99.3L314.8 99.3L315.2 99.3L315.6 99.3L316.0 99.3L316.4 99.3L316.8 99.3L317.2 99.3L317.6 99.4L318.0 99.4L318.4 99.4L318.8 99.4L319.2 99.4L319.6 99.5L320.0 99.5L320.4 99.5L320.8 99.5L321.2 99.6L321.6 99.6L322.0 99.6L322.4 99.7L322.8 99.7L323.2 99.7L323.6 99.8L324.0 99.8L324.4 99.8L324.8 99.9L325.2 99.9L325.6 99.9L326.0 100.0L326.4 100.0L326.8 100.1L327.2 100.1L327.6 100.1L328.0 100.2L328.4 100.2L328.8 100.3L329.2 100.3L329.6 100.4L330.0 100.4L330.0 100.4L330.4 100.4L330.8 100.5L331.2 100.5L331.6 100.6L332.0 100.6L332.4 100.7L332.8 100.8L333.2 100.8L333.6 100.9L334.0 101.0L334.4 101.0L334.8 101.1L335.2 101.2L335.6 101.3L336.0 101.4L336.4 101.5L336.8 101.6L337.2 101.7L337.6 101.8L338.0 101.9L338.4 102.0L338.8 102.1L339.2 102.2L339.6 102.4L340.0 102.5L340.0 102.5L340.4 102.6L340.8 102.8L341.2 103.0L341.6 103.2L342.0 103.5L342.4 103.8L342.8 104.1L343.2 104.5L343.6 104.9L343.6 104.9L344.0 105.8L344.4 107.4L344.8 109.2L345.2 110.8L345.6 112.0L345.9 112.3L346.0 112.3L346.4 111.4L346.8 109.9L347.2 108.2L347.6 106.7L348.0 106.0L348.0 106.0L348.4 105.8L348.8 105.7L349.2 105.6L349.6 105.5L349.9 105.4L350.0 105.4L350.4 105.2L350.8 105.0L351.2 104.8L351.6 104.7L352.0 104.6L352.4 104.5L352.5 104.5L352.8 104.5L353.2 104.5L353.6 104.6L354.0 104.6L354.4 104.7L354.8 104.8L355.2 104.9L355.6 105.0L356.0 105.1L356.4 105.2L356.8 105.3L357.2 105.5L357.6 105.6L358.0 105.8L358.4 105.9L358.8 106.1L359.2 106.3L359.6 106.5L360.0 106.6L360.4 106.8L360.8 107.0L361.2 107.2L361.6 107.3L362.0 107.5L362.4 107.7L362.8 107.9L363.2 108.0L363.6 108.2L364.0 108.3L364.4 108.5L364.7 108.6L364.8 108.6L365.2 108.8L365.6 108.9L366.0 109.0L366.4 109.2L366.8 109.3L367.2 109.4L367.6 109.6L368.0 109.7L368.4 109.8L368.8 110.0L369.2 110.1L369.6 110.2L370.0 110.4L370.4 110.5L370.8 110.6L371.2 110.8L371.6 110.9L372.0 111.0L372.4 111.2L372.8 111.3L373.2 111.4L373.6 111.6L374.0 111.7L374.4 111.9L374.8 112.0L375.2 112.2L375.6 112.3L376.0 112.4L376.4 112.6L376.8 112.8L377.2 112.9L377.6 113.1L378.0 113.2L378.4 113.4L378.8 113.6L379.2 113.7L379.6 113.9L379.6 113.9L380.0 114.1L380.4 114.3L380.8 114.5L381.2 114.7L381.6 114.9L382.0 115.1L382.4 115.3L382.8 115.5L383.2 115.7L383.6 116.0L384.0 116.2L384.4 116.4L384.8 116.6L385.2 116.9L385.6 117.1L386.0 117.3L386.4 117.6L386.8 117.8L387.2 118.0L387.6 118.2L388.0 118.5L388.4 118.7L388.8 118.9L389.2 119.1L389.6 119.3L389.6 119.3L390.0 119.5L390.4 119.7L390.8 119.9L391.2 120.1L391.6 120.3L392.0 120.5L392.4 120.7L392.8 120.9L393.2 121.1L393.6 121.3L394.0 121.4L394.4 121.6L394.8 121.7L395.0 121.8L395.2 121.9L395.6 122.0L396.0 122.1L396.4 122.2L396.8 122.3L397.2 122.4L397.6 122.5L398.0 122.5L398.4 122.6L398.8 122.7L399.2 122.8L399.6 122.9L400.0 122.9L400.4 123.0L400.8 123.1L401.2 123.3L401.6 123.4L402.0 123.5L402.0 123.5L402.4 123.6L402.8 123.8L403.2 124.0L403.6 124.2L404.0 124.4L404.4 124.6L404.8 124.8L405.2 125.0L405.6 125.3L406.0 125.5L406.4 125.8L406.8 126.0L407.2 126.3L407.6 126.6L408.0 126.8L408.4 127.1L408.8 127.4L409.2 127.7L409.6 128.0L410.0 128.3L410.4 128.6L410.8 128.9L411.2 129.2L411.6 129.5L411.9 129.7L412.0 129.8L412.4 130.1L412.8 130.4L413.2 130.6L413.6 130.9L414.0 131.2L414.4 131.5L414.8 131.8L415.2 132.1L415.6 132.4L416.0 132.7L416.4 133.0L416.8 133.3L417.2 133.7L417.6 134.0L418.0 134.4L418.4 134.7L418.8 135.1L419.2 135.5L419.6 135.9L420.0 136.3L420.4 136.7L420.8 137.1L421.2 137.6L421.6 138.1L421.8 138.3L422.0 138.6L422.4 139.2L422.8 139.8L423.2 140.6L423.6 141.4L424.0 142.1L424.4 142.9L424.8 143.6L425.2 144.2L425.2 144.2L425.6 144.8L426.0 145.3L426.4 145.8L426.8 146.3L427.2 146.7L427.6 147.2L428.0 147.6L428.4 148.1L428.8 148.5L429.2 148.9L429.6 149.4L430.0 149.9L430.4 150.4L430.4 150.4L430.8 150.9L431.2 151.4L431.6 151.9L432.0 152.3L432.4 152.8L432.8 153.3L433.2 153.8L433.6 154.4L434.0 155.0L434.4 155.6L434.8 156.3L435.2 157.0L435.5 157.6L435.6 157.8L436.0 158.8L436.4 160.0L436.8 161.3L437.2 162.7L437.6 164.2L438.0 165.8L438.4 167.3L438.6 168.0L438.8 168.7L439.2 170.3L439.6 172.0L440.0 173.6L440.4 175.3L440.8 177.0L441.2 178.6L441.6 180.0L441.7 180.4L442.0 181.5L442.4 183.1L442.8 184.7L443.2 186.3L443.6 187.5L444.0 188.4L444.4 188.7L444.4 188.7L444.8 188.5L445.2 187.9L445.6 187.1L446.0 186.2L446.4 185.3L446.8 184.6L446.9 184.5L447.2 184.1L447.6 183.6L448.0 183.2L448.4 182.7L448.8 182.3L449.2 181.9L449.6 181.5L450.0 181.1L450.4 180.8L450.8 180.6L451.1 180.4L451.2 180.3L451.6 180.1L452.0 180.0L452.4 179.8L452.8 179.6L453.2 179.4L453.6 179.2L454.0 179.1L454.4 179.0L454.8 178.9L455.2 178.8L455.6 178.7L456.0 178.7L456.2 178.7L456.4 178.7L456.8 178.8L457.2 178.9L457.6 179.0L458.0 179.2L458.4 179.5L458.8 179.8L459.2 180.1L459.6 180.5L460.0 180.9L460.4 181.3L460.8 181.8L461.2 182.2L461.4 182.5L461.6 182.8L462.0 183.6L462.4 184.8L462.8 186.1L463.2 187.6L463.6 189.2L464.0 190.8L464.4 192.4L464.5 192.8L464.8 194.0L465.2 195.6L465.6 197.3L466.0 199.2L466.4 201.1L466.8 203.1L467.2 205.3L467.2 205.3L467.6 208.5L468.0 211.5L468.2 211.5L468.4 211.4L468.8 208.1L469.1 205.3L469.2 204.5L469.6 201.2L470.0 197.8L470.4 194.7L470.7 192.8L470.8 192.3L471.2 190.3L471.6 188.6L472.0 187.1L472.4 185.7L472.8 184.5L472.8 184.5L473.2 183.4L473.6 182.3L474.0 181.3L474.4 180.4L474.8 179.9L475.0 179.7L475.2 179.6L475.6 179.4L476.0 179.2L476.4 179.0L476.8 178.9L477.2 178.8L477.5 178.8L477.6 178.8L478.0 179.0L478.4 179.5L478.8 180.2L479.2 181.1L479.6 182.0L480.0 183.0L480.0 183.0L480.4 184.2L480.8 185.8L481.2 187.7L481.6 189.5L482.0 191.3L482.0 191.3L482.4 193.3L482.8 195.4L483.2 197.2L483.6 197.9L483.6 197.9L484.0 197.0L484.4 195.3L484.8 193.9L484.9 193.7L485.2 193.4L485.6 193.0L486.0 192.6L486.4 192.4L486.8 192.2L487.2 192.1L487.4 192.1L487.6 192.1L488.0 192.1L488.4 192.1L488.8 192.1L489.2 192.1L489.6 192.1L490.0 192.1L490.4 192.1L490.7 192.1L490.8 192.1L491.2 192.2L491.6 192.4L492.0 192.7L492.4 192.9L492.8 193.1L493.2 193.2L493.2 193.2L493.6 193.1L494.0 192.7L494.4 192.1L494.8 191.4L495.2 190.6L495.6 189.8L495.7 189.6L496.0 188.9L496.4 187.7L496.8 186.3L497.2 184.8L497.6 183.3L498.0 181.9L498.2 181.3L498.4 180.7L498.8 179.5L499.2 178.4L499.6 177.3L500.0 176.3L500.4 175.4L500.7 174.7L500.8 174.5L501.2 173.6L501.6 172.8L502.0 172.0L502.4 171.3L502.8 170.8L503.1 170.6L503.2 170.6L503.6 170.4L504.0 170.2L504.4 170.1L504.8 170.1L504.8 170.1L505.2 170.3L505.6 170.9L506.0 171.8L506.4 172.7L506.5 173.0L506.8 174.0L507.2 175.9L507.6 178.3L508.0 180.7L508.1 181.3L508.4 183.2L508.8 186.1L509.2 189.0L509.6 191.7L509.8 192.9L510.0 194.1L510.4 196.4L510.8 197.8L510.9 197.9L511.2 197.1L511.6 194.3L512.0 190.6L512.3 188.0L512.4 187.2L512.8 183.6L513.2 179.8L513.6 176.4L513.9 174.7L514.0 174.3L514.4 172.6L514.8 171.1L515.2 170.1L515.6 169.7L515.6 169.7L516.0 170.0L516.4 170.7L516.8 171.8L517.2 173.0L517.2 173.0L517.6 175.0L518.0 177.9L518.4 181.3L518.4 181.3L518.8 185.7L519.2 191.0L519.6 195.4L519.7 196.2L520.0 198.0L520.4 200.1L520.8 201.8L521.2 203.3L521.4 204.0L521.6 204.8L522.0 206.5L522.4 207.9L522.8 208.9L523.0 209.0L523.2 208.9L523.6 208.1L524.0 206.7L524.4 204.7L524.7 202.8L524.8 201.8L525.2 194.0L525.5 188.0L525.6 186.5L526.0 181.3L526.3 178.0L526.4 177.0L526.8 173.0L527.2 169.3L527.6 166.0L528.0 163.1L528.0 163.1L528.4 160.5L528.8 158.0L529.2 155.7L529.6 153.6L530.0 151.8L530.4 150.2L530.5 149.9L530.8 148.9L531.2 147.7L531.6 146.7L532.0 145.7L532.4 144.9L532.8 144.2L532.9 144.1L533.2 143.7L533.6 143.1L534.0 142.7L534.4 142.4L534.6 142.4L534.8 142.5L535.2 143.0L535.6 143.9L536.0 145.3L536.3 146.6L536.4 147.2L536.8 152.8L537.2 161.0L537.3 163.1L537.6 173.0L537.9 179.7L538.0 179.2L538.4 170.2L538.7 163.0L538.8 161.3L539.2 154.8L539.6 149.0L540.0 144.5L540.2 143.0L540.4 141.8L540.8 139.6L541.2 137.9L541.6 137.0L541.7 137.0L542.0 137.5L542.4 139.3L542.8 142.1L543.2 145.5L543.2 145.5L543.6 150.5L544.0 158.2L544.2 163.0L544.4 169.6L544.6 178.0L544.7 165.1L545.2 151.5L545.6 143.9L546.1 139.2L546.6 136.1L547.0 134.3L547.5 133.6L547.9 133.8L548.4 135.2L548.8 137.8L549.3 142.1L549.7 149.1L550.2 162.3L550.6 177.9L551.0 161.9L551.5 148.2L551.9 140.7L552.3 136.0L552.8 132.9L553.2 131.1L553.6 130.4L554.0 130.8L554.4 132.2L554.8 134.9L555.3 139.3L555.7 146.4L556.1 159.7L556.5 172.4L556.9 159.4L557.3 145.9L557.7 138.5L558.1 133.8L558.5 130.8L558.9 129.1L559.2 128.5L559.6 128.9L560.0 130.3L560.4 133.0L560.8 137.4L561.2 144.5L561.5 157.8L561.9 164.3L562.3 157.4L562.7 143.8L563.0 136.3L563.4 131.6L563.8 128.5L564.1 126.7L564.5 126.0L564.8 126.4L565.2 127.8L565.6 130.4L565.9 134.8L566.3 142.0L566.6 155.2L567.0 163.3L567.3 154.9L567.7 141.4L568.0 134.0L568.4 129.3L568.7 126.3L569.0 124.6L569.4 124.0L569.7 124.3L570.0 125.8L570.4 128.5L570.7 132.9L571.0 140.0L571.4 153.3L571.7 165.0L572.0 153.0L572.4 139.4L572.7 131.9L573.0 127.2L573.3 124.1L573.6 122.4L574.0 121.6L574.3 122.0L574.6 123.3L574.9 126.0L575.2 130.4L575.5 137.5L575.8 150.7L576.1 161.0L576.4 150.3L576.8 136.7L577.1 129.3L577.4 124.5L577.7 121.5L578.0 119.8L578.3 119.1L578.6 119.4L578.9 120.8L579.2 123.5L579.4 127.9L579.7 135.0L580.0 148.3L580.3 158.9L580.6 148.0L580.9 134.4L581.2 127.0L581.5 122.3L581.8 119.4L582.0 117.7L582.3 117.0L582.6 117.4L582.9 118.9L583.2 121.6L583.5 126.1L583.7 133.3L584.0 146.6L584.3 164.5L584.6 146.4L584.8 132.9L585.1 125.5L585.4 120.8L585.6 117.9L585.9 116.2L586.2 115.5L586.4 115.9L586.7 117.4L587.0 120.1L587.2 124.6L587.5 131.7L587.8 145.0L588.0 156.1L588.3 144.5L588.6 131.0L588.8 123.6L589.1 118.9L589.3 115.9L589.6 114.2L589.8 113.6L590.1 114.0L590.3 115.4L590.6 118.2L590.9 122.6L591.1 129.8L591.4 143.1L591.6 154.9L591.8 143.1L592.1 129.6L592.3 122.2L592.6 117.5L592.8 114.6L593.1 112.9L593.3 112.3L593.6 112.7L593.8 114.2L594.0 116.9L594.3 121.4L594.5 128.6L594.8 141.9L595.0 162.1L595.2 142.2L595.5 128.7L595.7 121.4L595.9 116.7L596.2 113.8L596.4 112.1L596.6 111.5L596.9 112.0L597.1 113.5L597.3 116.3L597.6 120.7L597.8 127.9L598.0 141.3L598.2 158.0L598.5 141.6L598.7 128.1L598.9 120.8L599.2 116.1L599.4 113.2L599.6 111.6L599.8 111.0L600.0 111.4L600.3 113.0L600.5 115.7L600.7 120.2L600.9 127.4L601.1 140.8L601.4 154.8L601.6 140.2L601.8 126.8L602.0 119.4L602.2 114.8L602.4 111.9L602.7 110.3L602.9 109.7L603.1 110.2L603.3 111.7L603.5 114.5L603.7 119.0L603.9 126.2L604.1 139.6L604.3 147.9L604.6 137.7L604.8 124.3L605.0 116.9L605.2 112.3L605.4 109.4L605.6 107.8L605.8 107.3L606.0 107.7L606.2 109.3L606.4 112.1L606.6 116.6L606.8 123.8L607.0 137.2L607.2 148.5L607.4 139.7L607.6 126.3L607.8 118.9L608.0 114.4L608.2 111.5L608.4 109.8L608.6 109.3L608.8 109.8L609.0 111.3L609.2 114.1L609.4 118.6L609.6 125.9L609.8 139.2L610.0 156.0L610.2 139.2L610.3 125.7L610.5 118.4L610.7 113.8L610.9 110.9L611.1 109.3L611.3 108.8L611.5 109.2L611.7 110.8L611.9 113.6L612.1 118.1L612.2 125.3L612.4 138.7L612.6 154.7L612.8 136.8L613.0 123.4L613.2 116.0L613.4 111.5L613.5 108.6L613.7 106.9L613.9 106.4L614.1 106.8L614.3 108.4L614.5 111.2L614.6 115.7L614.8 122.9L615.0 136.3L615.2 152.1L615.4 137.0L615.5 123.6L615.7 116.3L615.9 111.7L616.1 108.8L616.3 107.1L616.4 106.6L616.6 107.0L616.8 108.6L617.0 111.4L617.1 115.9L617.3 123.1L617.5 136.5L617.7 158.9L617.8 135.6L618.0 122.1L618.2 114.8L618.3 110.2L618.5 107.3L618.7 105.7L618.9 105.1L619.0 105.5L619.2 107.1L619.4 109.9L619.5 114.3L619.7 121.6L619.9 134.9L620.0 163.0L620.2 135.7L620.4 122.2L620.6 114.9L620.7 110.3L620.9 107.3L621.1 105.7L621.2 105.1L621.4 105.5L621.5 107.0L621.7 109.8L621.9 114.2L622.0 121.4L622.2 134.8L622.4 158.4L622.5 134.0L622.7 120.5L622.9 113.1L623.0 108.4L623.2 105.5L623.3 103.8L623.5 103.2L623.7 103.6L623.8 105.1L624.0 107.9L624.1 112.3L624.3 119.5L624.5 132.8L624.6 155.4L624.8 131.6L624.9 118.1L625.1 110.7L625.2 106.1L625.4 103.1L625.6 101.4L625.7 100.8L625.9 101.2L626.0 102.7L626.2 105.5L626.3 109.9L626.5 117.1L626.6 130.4L626.8 151.5L626.9 129.4L627.1 115.8L627.2 108.5L627.4 103.8L627.6 100.9L627.7 99.2L627.9 98.6L628.0 99.0L628.2 100.5L628.3 103.2L628.5 107.7L628.6 114.9L628.8 128.2L628.9 141.5L629.1 126.7L629.2 113.2L629.3 105.9L629.5 101.2L629.6 98.3L629.8 96.6L629.9 96.0L630.1 96.4L630.2 97.9L630.4 100.7L630.5 105.1L630.7 112.3L630.8 125.6L631.0 177.0L631.1 128.3L631.2 114.8L631.4 107.4L631.5 102.7L631.7 99.8L631.8 98.1L632.0 97.5L632.1 97.9L632.2 99.4L632.4 102.2L632.5 106.6L632.7 113.8L632.8 127.2L633.0 159.5L633.1 129.7L633.2 116.2L633.4 108.9L633.5 104.2L633.7 101.3L633.8 99.6L633.9 99.0L634.1 99.4L634.2 100.9L634.4 103.6L634.5 108.1L634.6 115.3L634.8 128.6L634.9 147.3L635.0 129.6L635.2 116.0L635.3 108.7L635.4 104.0L635.6 101.1L635.7 99.4L635.9 98.8L636.0 99.2L636.1 100.6L636.3 103.4L636.4 107.8L636.5 115.0L636.7 128.3L636.8 151.8L636.9 126.6L637.1 113.0L637.2 105.7L637.3 101.0L637.5 98.0L637.6 96.4L637.7 95.7L637.9 96.1L638.0 97.6L638.1 100.4L638.3 104.8L638.4 112.0L638.5 125.3L638.6 147.2L638.8 120.5L638.9 107.0L639.0 99.6L639.2 95.0L639.3 92.1L639.4 90.4L639.5 89.8L639.7 90.2L639.8 91.7L639.9 94.5L640.1 99.0L640.2 106.2L640.3 119.5L640.4 141.3L640.6 119.2L640.7 105.7L640.8 98.4L640.9 93.7L641.1 90.8L641.2 89.2L641.3 88.6L641.5 89.1L641.6 90.6L641.7 93.4L641.8 97.9L642.0 105.1L642.1 118.5L642.2 173.6L642.3 117.7L642.4 104.2L642.6 96.9L642.7 92.3L642.8 89.4L642.9 87.8L643.1 87.2L643.2 87.7L643.3 89.2L643.4 92.0L643.6 96.5L643.7 103.7L643.8 117.0L643.9 137.1L644.0 123.3L644.2 109.8L644.3 102.4L644.4 97.8L644.5 94.9L644.6 93.2L644.8 92.7L644.9 93.1L645.0 94.6L645.1 97.3L645.2 101.8L645.4 109.0L645.5 122.3L645.6 138.6L645.7 118.6L645.8 105.1L645.9 97.7L646.1 93.0L646.2 90.0L646.3 88.2L646.4 87.6L646.5 87.9L646.6 89.4L646.8 92.1L646.9 96.4L647.0 103.6L647.1 116.8L647.2 147.3L647.3 118.0L647.5 104.4L647.6 96.9L647.7 92.2L647.8 89.2L647.9 87.4L648.0 86.7L648.1 87.0L648.3 88.4L648.4 91.1L648.5 95.4L648.6 102.5L648.7 115.8L648.8 147.2L648.9 118.2L649.1 104.7L649.2 97.2L649.3 92.5L649.4 89.4L649.5 87.7L649.6 87.0L649.7 87.3L649.8 88.7L650.0 91.4L650.1 95.8L650.2 102.9L650.3 116.1L650.4 152.5L650.5 112.5L650.6 99.0L650.7 91.5L650.8 86.8L651.0 83.8L651.1 82.1L651.2 81.4L651.3 81.8L651.4 83.3L651.5 86.0L651.6 90.4L651.7 97.5L651.8 110.8L651.9 148.9L652.0 109.9L652.2 96.3L652.3 88.9L652.4 84.2L652.5 81.2L652.6 79.5L652.7 78.8L652.8 79.2L652.9 80.6L653.0 83.3L653.1 87.7L653.2 94.9L653.3 108.1L653.4 156.5L653.5 105.3L653.6 91.8L653.8 84.4L653.9 79.7L654.0 76.7L654.1 75.0L654.2 74.3L654.3 74.7L654.4 76.1L654.5 78.9L654.6 83.3L654.7 90.4L654.8 103.7L654.9 149.6L655.0 106.4L655.1 92.9L655.2 85.4L655.3 80.8L655.4 77.8L655.5 76.1L655.6 75.5L655.7 75.8L655.8 77.3L655.9 80.0L656.0 84.5L656.1 91.6L656.3 104.9L656.4 133.8L656.5 102.4L656.6 88.8L656.7 81.4L656.8 76.8L656.9 73.8L657.0 72.1L657.1 71.5L657.2 71.9L657.3 73.4L657.4 76.1L657.5 80.6L657.6 87.8L657.7 101.1L657.8 153.8L657.9 105.3L658.0 91.8L658.1 84.4L658.2 79.8L658.3 76.9L658.4 75.2L658.5 74.6L658.6 75.0L658.7 76.5L658.8 79.3L658.9 83.8L659.0 90.9L659.1 104.3L659.2 131.6L659.3 99.7L659.4 86.2L659.4 78.9L659.5 74.2L659.6 71.3L659.7 69.6L659.8 69.0L659.9 69.5L660.0 71.0L660.1 73.7L660.2 78.2L660.3 85.4L660.4 98.7L660.5 130.7L660.6 103.3L660.7 89.8L660.8 82.5L660.9 77.8L661.0 74.9L661.1 73.2L661.2 72.7L661.3 73.1L661.4 74.6L661.5 77.4L661.6 81.8L661.7 89.0L661.8 102.4L661.9 132.2L661.9 95.3L662.0 81.8L662.1 74.5L662.2 69.9L662.3 66.9L662.4 65.3L662.5 64.7L662.6 65.2L662.7 66.7L662.8 69.5L662.9 73.9L663.0 81.2L663.1 94.5L663.2 151.7L663.3 97.9L663.4 84.4L663.4 77.1L663.5 72.5L663.6 69.6L663.7 68.0L663.8 67.4L663.9 67.9L664.0 69.4L664.1 72.2L664.2 76.7L664.3 84.0L664.4 97.3L664.5 135.2L664.5 93.7L664.6 80.3L664.7 72.9L664.8 68.4L664.9 65.5L665.0 63.9L665.1 63.4L665.2 63.8L665.3 65.4L665.4 68.2L665.5 72.8L665.5 80.0L665.6 93.4L665.7 136.0L665.8 96.3L665.9 82.9L666.0 75.6L666.1 71.0L666.2 68.2L666.3 66.6L666.3 66.1L666.4 66.6L666.5 68.2L666.6 71.0L666.7 75.6L666.8 82.9L666.9 96.3L667.0 138.2L667.1 93.1L667.1 79.7L667.2 72.4L667.3 67.9L667.4 65.0L667.5 63.4L667.6 62.9L667.7 63.4L667.8 65.0L667.8 67.9L667.9 72.4L668.0 79.7L668.1 93.2L668.2 128.4L668.3 95.0L668.4 81.6L668.5 74.3L668.5 69.8L668.6 67.0L668.7 65.4L668.8 64.9L668.9 65.4L669.0 67.0L669.1 69.9L669.1 74.4L669.2 81.7L669.3 95.1L669.4 134.2L669.5 96.0L669.6 82.6L669.7 75.3L669.7 70.8L669.8 67.9L669.9 66.4L670.0 65.9L670.1 66.4L670.2 68.0L670.2 70.9L670.3 75.4L670.4 82.7L670.5 96.1L670.6 137.1L670.7 96.0L670.7 82.6L670.8 75.4L670.9 70.8L671.0 68.0L671.1 66.4L671.2 65.9L671.2 66.4L671.3 68.0L671.4 70.9L671.5 75.5L671.6 82.8L671.7 96.2L671.7 142.9L671.8 102.3L671.9 88.9L672.0 81.6L672.1 77.1L672.2 74.3L672.2 72.7L672.3 72.2L672.4 72.7L672.5 74.4L672.6 77.2L672.6 81.8L672.7 89.1L672.8 102.5L672.9 121.9L673.0 95.8L673.1 82.4L673.1 75.1L673.2 70.6L673.3 67.8L673.4 66.2L673.5 65.7L673.5 66.3L673.6 67.9L673.7 70.8L673.8 75.3L673.9 82.6L673.9 96.1L674.0 132.5L674.1 101.2L674.2 87.8L674.3 80.6L674.3 76.0L674.4 73.2L674.5 71.7L674.6 71.2L674.7 71.7L674.7 73.3L674.8 76.2L674.9 80.8L675.0 88.1L675.1 101.6L675.1 119.6L675.2 96.4L675.3 83.0L675.4 75.7L675.4 71.2L675.5 68.4L675.6 66.9L675.7 66.4L675.8 66.9L675.8 68.6L675.9 71.4L676.0 76.0L676.1 83.3L676.2 96.8L676.2 127.5L676.3 101.2L676.4 87.8L676.5 80.6L676.5 76.1L676.6 73.3L676.7 71.7L676.8 71.3L676.8 71.8L676.9 73.4L677.0 76.3L677.1 80.9L677.2 88.2L677.2 101.7L677.3 136.7L677.4 103.6L677.5 90.2L677.5 83.0L677.6 78.4L677.7 75.6L677.8 74.1L677.8 73.6L677.9 74.2L678.0 75.8L678.1 78.7L678.1 83.3L678.2 90.6L678.3 104.1L678.4 132.8L678.4 96.8" stroke="#0000ff" stroke-width="1.50" stroke-dasharray="4.2 3.2"/>
<path d="M46.0 41.1L48.0 42.0L50.0 42.8L52.0 43.6L54.0 44.5L56.0 45.3L58.0 46.1L60.0 47.0L62.0 47.8L64.0 48.6L66.0 49.5L68.0 50.3L70.0 51.2L72.0 52.0L74.0 52.9L76.0 53.7L78.0 54.6L80.0 55.4L82.0 56.3L84.0 57.1L86.0 58.0L88.0 58.9L90.0 59.7L92.0 60.6L94.0 61.5L96.0 62.4L98.0 63.2L100.0 64.1L102.0 65.0L104.0 65.9L106.0 66.8L108.0 67.7L110.0 68.6L112.0 69.5L114.0 70.5L116.0 71.4L118.0 72.3L120.0 73.3L122.0 74.2L124.0 75.2L126.0 76.2L128.0 77.1L130.0 78.1L132.0 79.1L134.0 80.1L136.0 81.2L138.0 82.2L140.0 83.3L142.0 84.3L144.0 85.4L146.0 86.5L148.0 87.7L150.0 88.8L152.0 90.0L154.0 91.2L156.0 92.5L158.0 93.8L160.0 95.1L162.0 96.4L164.0 97.8L166.0 99.3L168.0 100.8L170.0 102.4L172.0 104.1L174.0 105.8L176.0 107.7L178.0 109.6L180.0 111.8L180.5 112.3L181.0 112.9L181.5 113.5L182.0 114.1L182.5 114.7L183.0 115.3L183.5 115.9L184.0 116.6L184.5 117.2L185.0 117.9L185.5 118.6L186.0 119.3L186.5 120.1L187.0 120.8L187.5 121.6L188.0 122.4L188.5 123.3L189.0 124.1L189.5 125.0L190.0 126.0L190.5 127.0L191.0 128.0L191.5 129.0L192.0 130.2L192.5 131.3L193.0 132.6L193.5 133.9L194.0 135.3L194.5 136.8L195.0 138.4L195.5 140.1L196.0 141.9L196.2 142.5L196.3 143.1L196.5 143.8L196.6 144.4L196.8 145.1L196.9 145.7L197.1 146.5L197.2 147.2L197.4 147.9L197.5 148.7L197.7 149.5L197.8 150.4L198.0 151.3L198.1 152.2L198.3 153.1L198.4 154.1L198.6 155.2L198.7 156.3L198.9 157.5L199.0 158.7L199.2 160.0L199.3 161.4L199.5 162.9L199.6 164.5L199.8 166.3L199.9 168.2L200.1 170.2L200.2 172.5L200.4 175.0L200.5 177.8L200.7 180.9L200.8 184.3L201.0 188.0L201.1 191.6L201.3 194.0L201.4 194.1L201.6 191.8L201.7 188.4L201.9 184.7L202.0 181.3L202.2 178.2L202.3 175.4L202.5 172.9L202.6 170.7L202.8 168.7L202.9 166.8L203.1 165.1L203.2 163.5L203.4 162.1L203.5 160.7L203.7 159.4L203.8 158.2L204.0 157.0L204.1 156.0L204.3 154.9L204.4 154.0L204.6 153.0L204.7 152.2L204.9 151.3L205.0 150.5L205.2 149.7L205.3 149.0L205.5 148.2L205.6 147.5L205.8 146.9L205.9 146.2L206.0 145.8L206.5 143.8L207.0 142.0L207.5 140.4L208.0 138.9L208.5 137.5L209.0 136.2L209.5 134.9L210.0 133.8L210.5 132.7L211.0 131.7L211.5 130.7L212.0 129.8L212.5 128.9L213.0 128.1L213.5 127.3L214.0 126.6L214.5 125.8L215.0 125.1L215.5 124.4L216.0 123.8L216.5 123.1L217.0 122.5L217.2 122.3L217.6 121.9L218.0 121.6L218.4 121.2L218.8 120.9L219.2 120.5L219.6 120.2L220.0 119.9L220.4 119.5L220.8 119.2L221.2 118.9L221.6 118.6L222.0 118.3L222.4 117.9L222.8 117.6L223.2 117.4L223.6 117.1L224.0 116.8L224.4 116.5L224.8 116.3L225.2 116.0L225.6 115.8L226.0 115.5L226.4 115.3L226.8 115.1L227.1 114.9L227.2 114.8L227.6 114.6L228.0 114.4L228.4 114.2L228.8 114.1L229.2 113.9L229.6 113.7L230.0 113.5L230.4 113.3L230.8 113.2L231.2 113.0L231.6 112.8L232.0 112.7L232.4 112.5L232.8 112.4L233.2 112.2L233.6 112.1L234.0 111.9L234.4 111.8L234.8 111.6L235.2 111.5L235.6 111.3L236.0 111.2L236.4 111.0L236.8 110.9L237.2 110.8L237.6 110.6L238.0 110.5L238.4 110.3L238.8 110.2L239.2 110.0L239.6 109.9L239.6 109.9L240.0 109.8L240.4 109.6L240.8 109.5L241.2 109.3L241.6 109.2L242.0 109.0L242.4 108.9L242.8 108.7L243.2 108.6L243.6 108.5L244.0 108.3L244.4 108.2L244.8 108.0L245.2 107.9L245.6 107.8L246.0 107.6L246.4 107.5L246.8 107.4L247.2 107.2L247.6 107.1L248.0 107.0L248.4 106.8L248.8 106.7L249.2 106.6L249.6 106.5L250.0 106.3L250.4 106.2L250.8 106.1L251.2 106.0L251.6 105.8L252.0 105.7L252.4 105.6L252.4 105.6L252.8 105.5L253.2 105.4L253.6 105.2L254.0 105.1L254.4 105.0L254.8 104.9L255.2 104.8L255.6 104.7L256.0 104.5L256.4 104.4L256.8 104.3L257.2 104.2L257.6 104.1L258.0 104.0L258.4 103.9L258.8 103.7L259.2 103.6L259.6 103.5L260.0 103.4L260.4 103.3L260.8 103.2L261.2 103.1L261.6 103.0L262.0 102.9L262.4 102.9L262.8 102.8L263.2 102.7L263.6 102.6L264.0 102.5L264.4 102.5L264.8 102.4L264.8 102.4L265.2 102.3L265.6 102.3L266.0 102.2L266.4 102.1L266.8 102.1L267.2 102.0L267.6 101.9L268.0 101.9L268.4 101.8L268.8 101.7L269.2 101.7L269.6 101.6L270.0 101.6L270.4 101.5L270.8 101.5L271.2 101.4L271.6 101.4L272.0 101.3L272.4 101.3L272.8 101.3L273.2 101.2L273.6 101.2L274.0 101.2L274.4 101.2L274.7 101.2L274.8 101.2L275.2 101.2L275.6 101.2L276.0 101.3L276.4 101.4L276.8 101.4L277.2 101.5L277.6 101.6L278.0 101.8L278.4 101.9L278.8 102.0L279.2 102.2L279.6 102.4L280.0 102.6L280.4 102.7L280.5 102.8L280.8 103.0L281.2 103.3L281.6 103.8L282.0 104.4L282.4 105.1L282.8 105.8L283.2 106.7L283.6 107.7L283.7 108.0L284.0 109.0L284.4 110.8L284.8 113.2L285.2 116.0L285.6 119.2L285.7 120.0L286.0 123.5L286.4 130.3L286.8 137.6L287.2 143.4L287.6 145.8L287.6 145.8L288.0 142.8L288.4 135.7L288.8 127.4L289.2 121.0L289.3 120.0L289.6 117.6L290.0 114.8L290.4 112.4L290.8 110.4L291.2 108.8L291.5 108.0L291.6 107.8L292.0 106.9L292.4 106.2L292.8 105.5L293.2 104.9L293.6 104.4L294.0 104.0L294.4 103.6L294.8 103.3L295.0 103.2L295.2 103.1L295.6 102.9L296.0 102.7L296.4 102.5L296.8 102.3L297.2 102.1L297.6 102.0L298.0 101.9L298.4 101.7L298.8 101.6L299.2 101.5L299.6 101.4L300.0 101.3L300.4 101.3L300.8 101.2L301.0 101.2L301.2 101.2L301.6 101.1L302.0 101.1L302.4 101.1L302.8 101.0L303.2 101.0L303.6 100.9L304.0 100.9L304.4 100.9L304.8 100.8L305.2 100.8L305.6 100.8L306.0 100.7L306.4 100.7L306.8 100.7L307.2 100.6L307.6 100.6L308.0 100.6L308.4 100.6L308.8 100.6L309.2 100.5L309.6 100.5L310.0 100.5L310.4 100.5L310.8 100.5L311.2 100.5L311.6 100.4L312.0 100.4L312.4 100.4L312.8 100.4L313.2 100.4L313.6 100.4L314.0 100.4L314.4 100.4L314.4 100.4L314.8 100.4L315.2 100.4L315.6 100.4L316.0 100.4L316.4 100.4L316.8 100.5L317.2 100.5L317.6 100.5L318.0 100.5L318.4 100.5L318.8 100.6L319.2 100.6L319.6 100.6L320.0 100.7L320.4 100.7L320.8 100.7L321.2 100.8L321.6 100.8L322.0 100.9L322.4 100.9L322.8 100.9L323.2 101.0L323.6 101.0L324.0 101.1L324.4 101.1L324.8 101.2L325.2 101.2L325.6 101.3L326.0 101.3L326.4 101.4L326.8 101.5L327.2 101.5L327.6 101.6L328.0 101.6L328.4 101.7L328.8 101.7L329.2 101.8L329.6 101.8L330.0 101.9L330.0 101.9L330.4 102.0L330.8 102.0L331.2 102.1L331.6 102.2L332.0 102.2L332.4 102.3L332.8 102.4L333.2 102.5L333.6 102.6L334.0 102.6L334.4 102.7L334.8 102.8L335.2 102.9L335.6 103.0L336.0 103.1L336.4 103.2L336.8 103.4L337.2 103.5L337.6 103.6L338.0 103.7L338.4 103.8L338.8 103.9L339.0 104.0L339.2 104.1L339.6 104.2L340.0 104.3L340.4 104.4L340.8 104.6L341.2 104.7L341.6 104.9L342.0 105.1L342.4 105.4L342.4 105.4L342.8 105.7L343.2 106.2L343.6 106.8L344.0 107.6L344.4 108.4L344.8 109.4L345.0 110.0L345.2 110.8L345.6 113.6L346.0 116.8L346.4 119.0L346.6 119.3L346.8 118.9L347.2 116.2L347.6 112.7L348.0 110.5L348.0 110.5L348.4 109.7L348.8 109.0L349.2 108.3L349.6 107.8L350.0 107.4L350.4 107.1L350.8 106.9L351.1 106.9L351.2 106.9L351.6 106.9L352.0 106.9L352.4 106.9L352.8 106.9L353.2 106.9L353.6 106.9L354.0 106.9L354.4 106.9L354.8 107.0L355.2 107.0L355.6 107.0L356.0 107.0L356.0 107.0L356.4 107.0L356.8 107.1L357.2 107.1L357.6 107.2L358.0 107.3L358.4 107.4L358.8 107.6L359.2 107.7L359.6 107.8L360.0 108.0L360.4 108.1L360.8 108.3L361.2 108.5L361.6 108.7L362.0 108.8L362.4 109.0L362.8 109.2L363.2 109.3L363.6 109.5L364.0 109.7L364.4 109.8L364.7 109.9L364.8 109.9L365.2 110.1L365.6 110.2L366.0 110.3L366.4 110.4L366.8 110.6L367.2 110.7L367.6 110.8L368.0 110.9L368.4 111.1L368.8 111.2L369.2 111.3L369.6 111.4L370.0 111.6L370.4 111.7L370.8 111.8L371.2 111.9L371.6 112.0L372.0 112.2L372.4 112.3L372.8 112.4L373.2 112.5L373.6 112.7L374.0 112.8L374.4 112.9L374.8 113.1L375.2 113.2L375.6 113.3L376.0 113.5L376.4 113.6L376.8 113.7L377.2 113.9L377.6 114.0L378.0 114.2L378.4 114.3L378.8 114.5L379.2 114.6L379.6 114.8L379.6 114.8L380.0 115.0L380.4 115.1L380.8 115.3L381.2 115.4L381.6 115.6L382.0 115.7L382.4 115.9L382.8 116.1L383.2 116.2L383.6 116.4L384.0 116.6L384.4 116.7L384.8 116.9L385.2 117.1L385.6 117.3L386.0 117.5L386.4 117.7L386.8 117.9L387.2 118.2L387.6 118.4L388.0 118.7L388.4 118.9L388.8 119.2L389.2 119.5L389.6 119.8L389.6 119.8L390.0 120.1L390.4 120.5L390.8 121.0L391.2 121.5L391.6 122.0L392.0 122.6L392.4 123.2L392.8 123.8L393.2 124.5L393.3 124.7L393.6 125.4L394.0 126.6L394.4 128.0L394.8 129.1L395.2 129.7L395.3 129.7L395.6 129.5L396.0 128.9L396.4 128.0L396.8 127.1L397.2 126.3L397.5 126.0L397.6 125.9L398.0 125.7L398.4 125.4L398.8 125.2L399.2 125.0L399.6 124.8L400.0 124.6L400.4 124.5L400.8 124.4L401.2 124.3L401.6 124.2L402.0 124.2L402.0 124.2L402.4 124.2L402.8 124.3L403.2 124.3L403.6 124.4L404.0 124.6L404.4 124.7L404.8 124.9L405.2 125.1L405.6 125.3L406.0 125.6L406.4 125.8L406.8 126.1L407.2 126.3L407.6 126.6L408.0 126.9L408.4 127.2L408.8 127.5L409.2 127.8L409.6 128.1L410.0 128.4L410.4 128.7L410.8 129.0L411.2 129.2L411.6 129.5L411.9 129.7L412.0 129.8L412.4 130.0L412.8 130.3L413.2 130.6L413.6 130.9L414.0 131.1L414.4 131.4L414.8 131.7L415.2 132.0L415.6 132.4L416.0 132.7L416.4 133.0L416.8 133.3L417.2 133.6L417.6 133.9L418.0 134.2L418.4 134.6L418.8 134.9L419.2 135.2L419.6 135.5L420.0 135.8L420.4 136.1L420.8 136.4L421.2 136.7L421.6 137.0L421.8 137.1L422.0 137.2L422.4 137.5L422.8 137.8L423.2 138.0L423.6 138.3L424.0 138.5L424.4 138.7L424.8 139.0L425.2 139.3L425.6 139.6L426.0 139.8L426.2 140.0L426.4 140.2L426.8 140.5L427.2 140.8L427.6 141.2L428.0 141.5L428.4 141.9L428.8 142.3L429.2 142.7L429.6 143.1L430.0 143.5L430.4 143.9L430.8 144.4L431.2 144.8L431.6 145.3L432.0 145.7L432.4 146.2L432.4 146.2L432.8 146.7L433.2 147.1L433.6 147.6L434.0 148.1L434.4 148.6L434.8 149.1L435.2 149.7L435.6 150.2L436.0 150.8L436.4 151.4L436.8 152.1L437.2 152.8L437.6 153.5L437.6 153.5L438.0 154.3L438.4 155.2L438.8 156.1L439.2 157.2L439.6 158.3L440.0 159.5L440.4 160.8L440.7 161.8L440.8 162.2L441.2 163.7L441.6 165.4L442.0 167.3L442.4 169.4L442.8 171.7L443.2 174.2L443.2 174.2L443.6 177.1L444.0 180.4L444.4 184.3L444.8 188.7L444.8 188.7L445.2 195.5L445.6 203.7L446.0 208.7L446.1 209.0L446.4 207.4L446.8 202.0L447.2 195.8L447.5 192.8L447.6 192.2L448.0 190.0L448.4 188.3L448.8 187.0L449.0 186.6L449.2 186.3L449.6 185.7L450.0 185.1L450.4 184.7L450.8 184.3L451.2 184.0L451.6 183.7L452.0 183.5L452.1 183.5L452.4 183.4L452.8 183.3L453.2 183.2L453.6 183.0L454.0 182.9L454.4 182.8L454.8 182.8L455.2 182.7L455.6 182.6L456.0 182.6L456.4 182.5L456.8 182.5L457.2 182.5L457.3 182.5L457.6 182.5L458.0 182.5L458.4 182.5L458.8 182.6L459.2 182.6L459.6 182.6L460.0 182.7L460.4 182.7L460.8 182.8L461.2 182.8L461.6 182.9L462.0 182.9L462.4 183.0L462.8 183.0L463.2 183.1L463.6 183.2L464.0 183.2L464.4 183.3L464.8 183.4L465.2 183.5L465.5 183.5L465.6 183.5L466.0 183.6L466.4 183.7L466.8 183.7L467.2 183.8L467.6 183.9L468.0 184.0L468.4 184.1L468.8 184.2L469.2 184.3L469.6 184.4L470.0 184.5L470.4 184.6L470.8 184.7L471.2 184.8L471.6 184.9L472.0 185.1L472.4 185.2L472.8 185.3L473.2 185.4L473.6 185.5L473.8 185.6L474.0 185.7L474.4 185.8L474.8 185.9L475.2 186.0L475.6 186.1L476.0 186.3L476.4 186.4L476.8 186.6L477.2 186.7L477.6 186.9L478.0 187.1L478.3 187.2L478.4 187.3L478.8 187.5L479.2 187.8L479.6 188.1L480.0 188.5L480.4 188.8L480.8 189.1L481.2 189.4L481.6 189.6L481.6 189.6L482.0 189.8L482.4 189.9L482.8 190.1L483.2 190.2L483.6 190.3L484.0 190.5L484.4 190.6L484.8 190.7L485.2 190.8L485.6 190.8L486.0 190.9L486.4 190.9L486.6 190.9L486.8 190.9L487.2 190.9L487.6 190.9L488.0 190.8L488.4 190.7L488.8 190.7L489.2 190.6L489.6 190.5L489.9 190.4L490.0 190.4L490.4 190.1L490.8 189.5L491.2 188.9L491.6 188.1L492.0 187.2L492.4 186.3L492.4 186.3L492.8 185.3L493.2 184.0L493.6 182.6L494.0 181.1L494.4 179.6L494.8 178.3L494.9 178.0L495.2 177.1L495.6 175.9L496.0 174.8L496.4 173.7L496.8 172.7L497.2 171.8L497.4 171.4L497.6 171.0L498.0 170.2L498.4 169.4L498.8 168.7L499.2 168.2L499.6 167.8L499.8 167.7L500.0 167.6L500.4 167.5L500.8 167.4L501.2 167.3L501.6 167.3L501.8 167.3L502.0 167.3L502.4 167.5L502.8 167.9L503.2 168.4L503.6 169.0L504.0 169.7L504.0 169.7L504.4 170.8L504.8 172.5L505.2 174.5L505.6 176.4L505.6 176.4L506.0 178.3L506.4 180.2L506.8 182.2L507.2 184.1L507.3 184.6L507.6 186.2L508.0 188.5L508.4 190.2L508.6 190.4L508.8 190.2L509.2 188.7L509.6 186.3L510.0 183.7L510.1 183.0L510.4 180.5L510.8 176.4L511.2 172.6L511.4 171.4L511.6 170.5L512.0 168.8L512.4 167.5L512.8 166.6L513.1 166.4L513.2 166.4L513.6 166.6L514.0 166.9L514.4 167.3L514.8 167.8L515.2 168.4L515.6 168.9L515.6 168.9L516.0 169.5L516.4 170.2L516.8 170.9L517.2 171.8L517.6 172.8L517.7 173.0L518.0 173.8L518.4 175.1L518.8 176.6L519.2 178.2L519.6 179.8L520.0 181.3L520.0 181.3L520.4 183.0L520.8 185.0L521.2 186.9L521.6 188.5L522.0 189.5L522.2 189.6L522.4 189.0L522.8 185.5L523.2 180.8L523.3 179.7L523.6 176.2L524.0 170.9L524.4 165.9L524.7 163.1L524.8 162.4L525.2 159.9L525.6 157.8L526.0 156.0L526.3 154.8L526.4 154.4L526.8 153.0L527.2 151.6L527.6 150.4L528.0 149.3L528.4 148.3L528.8 147.4L529.0 147.0L529.2 146.6L529.6 145.9L530.0 145.2L530.4 144.6L530.8 144.0L531.2 143.4L531.6 142.9L532.0 142.4L532.4 142.0L532.8 141.7L532.9 141.6L533.2 141.4L533.6 141.1L534.0 140.9L534.3 140.8L534.4 140.8L534.8 141.3L535.2 142.2L535.6 143.6L535.9 144.9L536.0 145.5L536.4 149.9L536.8 156.8L537.1 163.1L537.2 166.2L537.6 179.7L537.6 179.7L538.0 173.1L538.4 163.1L538.4 163.1L538.8 156.0L539.2 149.3L539.6 144.0L539.9 141.6L540.0 141.1L540.4 139.3L540.8 137.8L541.2 136.8L541.6 136.3L541.7 136.3L542.0 136.8L542.4 138.6L542.8 141.5L543.2 144.9L543.2 144.9L543.6 150.1L544.0 158.1L544.2 163.0L544.4 169.6L544.6 178.0L544.7 165.1L545.2 151.5L545.6 143.9L546.1 139.2L546.6 136.1L547.0 134.3L547.5 133.6L547.9 133.8L548.4 135.2L548.8 137.8L549.3 142.1L549.7 149.1L550.2 162.3L550.6 177.7L551.0 161.9L551.5 148.2L551.9 140.7L552.3 136.0L552.8 132.9L553.2 131.1L553.6 130.4L554.0 130.8L554.4 132.2L554.8 134.9L555.3 139.3L555.7 146.4L556.1 159.7L556.5 165.8L556.9 159.4L557.3 145.9L557.7 138.5L558.1 133.8L558.5 130.8L558.9 129.1L559.2 128.5L559.6 128.9L560.0 130.3L560.4 133.0L560.8 137.4L561.2 144.5L561.5 157.8L561.9 168.1L562.3 157.4L562.7 143.8L563.0 136.3L563.4 131.6L563.8 128.5L564.1 126.7L564.5 126.0L564.8 126.4L565.2 127.8L565.6 130.4L565.9 134.8L566.3 142.0L566.6 155.2L567.0 169.3L567.3 154.9L567.7 141.4L568.0 134.0L568.4 129.3L568.7 126.3L569.0 124.6L569.4 124.0L569.7 124.3L570.0 125.8L570.4 128.5L570.7 132.9L571.0 140.0L571.4 153.3L571.7 162.7L572.0 153.0L572.4 139.4L572.7 131.9L573.0 127.2L573.3 124.1L573.6 122.4L574.0 121.6L574.3 122.0L574.6 123.3L574.9 126.0L575.2 130.4L575.5 137.5L575.8 150.7L576.1 160.9L576.4 150.3L576.8 136.7L577.1 129.3L577.4 124.6L577.7 121.6L578.0 119.8L578.3 119.1L578.6 119.5L578.9 120.9L579.2 123.6L579.4 128.0L579.7 135.1L580.0 148.3L580.3 163.0L580.6 148.0L580.9 134.4L581.2 127.0L581.5 122.3L581.8 119.2L582.0 117.5L582.3 116.8L582.6 117.2L582.9 118.6L583.2 121.3L583.5 125.7L583.7 132.8L584.0 146.1L584.3 155.7L584.6 145.7L584.8 132.2L585.1 124.7L585.4 120.0L585.6 117.0L585.9 115.2L586.2 114.5L586.4 114.9L586.7 116.3L587.0 118.9L587.2 123.3L587.5 130.3L587.8 143.5L588.0 160.0L588.3 142.9L588.6 129.3L588.8 121.8L589.1 117.1L589.3 114.0L589.6 112.2L589.8 111.5L590.1 111.7L590.3 113.1L590.6 115.7L590.9 120.1L591.1 127.1L591.4 140.4L591.6 150.3L591.8 140.7L592.1 127.1L592.3 119.6L592.6 114.9L592.8 111.8L593.1 110.1L593.3 109.4L593.6 109.8L593.8 111.2L594.0 113.9L594.3 118.3L594.5 125.4L594.8 138.7L595.0 153.6L595.2 137.5L595.5 124.0L595.7 116.6L595.9 111.9L596.2 108.9L596.4 107.2L596.6 106.6L596.9 107.0L597.1 108.4L597.3 111.1L597.6 115.6L597.8 122.7L598.0 136.0L598.2 161.8L598.5 136.3L598.7 122.8L598.9 115.4L599.2 110.8L599.4 107.8L599.6 106.1L599.8 105.5L600.0 105.9L600.3 107.4L600.5 110.2L600.7 114.6L600.9 121.8L601.1 135.2L601.4 154.8L601.6 135.6L601.8 122.1L602.0 114.7L602.2 110.1L602.4 107.2L602.7 105.6L602.9 105.0L603.1 105.5L603.3 107.0L603.5 109.8L603.7 114.3L603.9 121.5L604.1 134.9L604.3 146.7L604.6 134.7L604.8 121.3L605.0 114.0L605.2 109.4L605.4 106.5L605.6 104.9L605.8 104.3L606.0 104.8L606.2 106.3L606.4 109.2L606.6 113.7L606.8 120.9L607.0 134.3L607.2 151.5L607.4 132.1L607.6 118.7L607.8 111.4L608.0 106.8L608.2 103.9L608.4 102.3L608.6 101.8L608.8 102.3L609.0 103.8L609.2 106.6L609.4 111.2L609.6 118.4L609.8 131.8L610.0 155.6L610.2 134.9L610.3 121.5L610.5 114.2L610.7 109.6L610.9 106.8L611.1 105.2L611.3 104.7L611.5 105.2L611.7 106.7L611.9 109.6L612.1 114.1L612.2 121.4L612.4 134.8L612.6 146.5L612.8 133.6L613.0 120.2L613.2 113.0L613.4 108.4L613.5 105.6L613.7 104.1L613.9 103.6L614.1 104.1L614.3 105.8L614.5 108.7L614.6 113.3L614.8 120.7L615.0 134.2L615.2 147.8L615.4 134.9L615.5 121.6L615.7 114.4L615.9 109.9L616.1 107.2L616.3 105.7L616.4 105.3L616.6 105.9L616.8 107.5L617.0 110.5L617.1 115.1L617.3 122.4L617.5 135.9L617.7 156.1L617.8 133.5L618.0 120.1L618.2 112.9L618.3 108.4L618.5 105.6L618.7 104.0L618.9 103.6L619.0 104.1L619.2 105.7L619.4 108.5L619.5 113.0L619.7 120.3L619.9 133.7L620.0 158.3L620.2 135.8L620.4 122.3L620.6 115.0L620.7 110.3L620.9 107.4L621.1 105.7L621.2 105.1L621.4 105.5L621.5 107.0L621.7 109.7L621.9 114.1L622.0 121.3L622.2 134.6L622.4 155.3L622.5 135.3L622.7 121.7L622.9 114.3L623.0 109.7L623.2 106.7L623.3 105.0L623.5 104.3L623.7 104.7L623.8 106.2L624.0 108.9L624.1 113.3L624.3 120.5L624.5 133.8L624.6 149.6L624.8 133.4L624.9 119.9L625.1 112.5L625.2 107.9L625.4 105.0L625.6 103.3L625.7 102.8L625.9 103.2L626.0 104.7L626.2 107.5L626.3 112.0L626.5 119.2L626.6 132.6L626.8 159.5L626.9 128.3L627.1 114.8L627.2 107.5L627.4 102.9L627.6 100.0L627.7 98.3L627.9 97.8L628.0 98.2L628.2 99.8L628.3 102.6L628.5 107.1L628.6 114.3L628.8 127.6L628.9 158.8L629.1 129.4L629.2 115.9L629.3 108.6L629.5 104.0L629.6 101.1L629.8 99.4L629.9 98.9L630.1 99.3L630.2 100.9L630.4 103.6L630.5 108.1L630.7 115.4L630.8 128.7L631.0 150.0L631.1 126.8L631.2 113.3L631.4 106.0L631.5 101.4L631.7 98.5L631.8 96.8L632.0 96.2L632.1 96.7L632.2 98.2L632.4 101.0L632.5 105.4L632.7 112.7L632.8 126.0L633.0 154.9L633.1 126.8L633.2 113.3L633.4 106.0L633.5 101.3L633.7 98.4L633.8 96.8L633.9 96.2L634.1 96.6L634.2 98.1L634.4 100.9L634.5 105.3L634.6 112.6L634.8 125.9L634.9 158.6L635.0 125.5L635.2 112.1L635.3 104.7L635.4 100.1L635.6 97.1L635.7 95.5L635.9 94.9L636.0 95.3L636.1 96.8L636.3 99.6L636.4 104.1L636.5 111.3L636.7 124.6L636.8 151.1L636.9 125.4L637.1 111.9L637.2 104.6L637.3 100.0L637.5 97.1L637.6 95.4L637.7 94.8L637.9 95.3L638.0 96.8L638.1 99.6L638.3 104.1L638.4 111.3L638.5 124.7L638.6 152.0L638.8 122.9L638.9 109.4L639.0 102.0L639.2 97.4L639.3 94.5L639.4 92.9L639.5 92.3L639.7 92.8L639.8 94.3L639.9 97.1L640.1 101.6L640.2 108.8L640.3 122.2L640.4 141.5L640.6 126.7L640.7 113.2L640.8 105.9L640.9 101.3L641.1 98.4L641.2 96.7L641.3 96.2L641.5 96.6L641.6 98.2L641.7 101.0L641.8 105.5L642.0 112.7L642.1 126.1L642.2 154.6L642.3 124.5L642.4 111.0L642.6 103.7L642.7 99.1L642.8 96.2L642.9 94.5L643.1 94.0L643.2 94.4L643.3 96.0L643.4 98.8L643.6 103.3L643.7 110.5L643.8 123.9L643.9 158.2L644.0 120.6L644.2 107.1L644.3 99.8L644.4 95.2L644.5 92.3L644.6 90.6L644.8 90.1L644.9 90.5L645.0 92.1L645.1 94.9L645.2 99.3L645.4 106.6L645.5 119.9L645.6 156.2L645.7 119.5L645.8 106.0L645.9 98.7L646.1 94.1L646.2 91.2L646.3 89.6L646.4 89.0L646.5 89.4L646.6 91.0L646.8 93.8L646.9 98.3L647.0 105.5L647.1 118.8L647.2 158.4L647.3 122.8L647.5 109.4L647.6 102.0L647.7 97.4L647.8 94.5L647.9 92.9L648.0 92.3L648.1 92.8L648.3 94.3L648.4 97.1L648.5 101.6L648.6 108.8L648.7 122.2L648.8 149.6L648.9 125.2L649.1 111.7L649.2 104.4L649.3 99.8L649.4 96.9L649.5 95.3L649.6 94.7L649.7 95.2L649.8 96.7L650.0 99.5L650.1 104.0L650.2 111.2L650.3 124.6L650.4 153.4L650.5 122.8L650.6 109.4L650.7 102.1L650.8 97.5L651.0 94.6L651.1 92.9L651.2 92.4L651.3 92.8L651.4 94.4L651.5 97.2L651.6 101.7L651.7 108.9L651.8 122.3L651.9 135.7L652.0 118.4L652.2 104.9L652.3 97.6L652.4 93.0L652.5 90.1L652.6 88.5L652.7 87.9L652.8 88.4L652.9 90.0L653.0 92.8L653.1 97.3L653.2 104.5L653.3 117.9L653.4 175.6L653.5 116.2L653.6 102.8L653.8 95.4L653.9 90.9L654.0 88.0L654.1 86.4L654.2 85.8L654.3 86.3L654.4 87.8L654.5 90.6L654.6 95.1L654.7 102.4L654.8 115.8L654.9 138.4L655.0 121.7L655.1 108.2L655.2 100.9L655.3 96.3L655.4 93.4L655.5 91.8L655.6 91.3L655.7 91.8L655.8 93.3L655.9 96.1L656.0 100.6L656.1 107.9L656.3 121.3L656.4 135.8L656.5 116.1L656.6 102.7L656.7 95.4L656.8 90.8L656.9 87.9L657.0 86.3L657.1 85.7L657.2 86.2L657.3 87.8L657.4 90.6L657.5 95.1L657.6 102.4L657.7 115.7L657.8 143.7L657.9 120.6L658.0 107.2L658.1 99.9L658.2 95.3L658.3 92.4L658.4 90.8L658.5 90.3L658.6 90.7L658.7 92.3L658.8 95.1L658.9 99.6L659.0 106.9L659.1 120.3L659.2 153.9L659.3 118.9L659.4 105.5L659.4 98.2L659.5 93.6L659.6 90.7L659.7 89.1L659.8 88.6L659.9 89.0L660.0 90.6L660.1 93.4L660.2 97.9L660.3 105.2L660.4 118.6L660.5 158.0L660.6 117.0L660.7 103.6L660.8 96.3L660.9 91.7L661.0 88.8L661.1 87.2L661.2 86.7L661.3 87.1L661.4 88.7L661.5 91.5L661.6 96.0L661.7 103.3L661.8 116.7L661.9 146.1L661.9 112.2L662.0 98.7L662.1 91.4L662.2 86.8L662.3 84.0L662.4 82.3L662.5 81.8L662.6 82.3L662.7 83.8L662.8 86.6L662.9 91.2L663.0 98.4L663.1 111.8L663.2 144.6L663.3 114.6L663.4 101.1L663.4 93.8L663.5 89.2L663.6 86.4L663.7 84.7L663.8 84.2L663.9 84.7L664.0 86.2L664.1 89.1L664.2 93.6L664.3 100.8L664.4 114.2L664.5 141.6L664.5 116.9L664.6 103.4L664.7 96.1L664.8 91.5L664.9 88.6L665.0 87.0L665.1 86.5L665.2 87.0L665.3 88.5L665.4 91.3L665.5 95.8L665.5 103.1L665.6 116.5L665.7 142.5L665.8 115.1L665.9 101.7L666.0 94.3L666.1 89.8L666.2 86.9L666.3 85.3L666.3 84.7L666.4 85.2L666.5 86.8L666.6 89.6L666.7 94.1L666.8 101.4L666.9 114.8L667.0 138.9L667.1 111.8L667.1 98.3L667.2 91.0L667.3 86.4L667.4 83.6L667.5 82.0L667.6 81.4L667.7 81.9L667.8 83.5L667.8 86.3L667.9 90.8L668.0 98.1L668.1 111.5L668.2 136.5L668.3 110.7L668.4 97.3L668.5 90.0L668.5 85.4L668.6 82.6L668.7 81.0L668.8 80.4L668.9 80.9L669.0 82.5L669.1 85.3L669.1 89.8L669.2 97.1L669.3 110.5L669.4 135.1L669.5 114.1L669.6 100.7L669.7 93.4L669.7 88.8L669.8 86.0L669.9 84.4L670.0 83.8L670.1 84.3L670.2 85.9L670.2 88.7L670.3 93.2L670.4 100.5L670.5 113.9L670.6 140.9L670.7 112.6L670.7 99.2L670.8 91.9L670.9 87.3L671.0 84.4L671.1 82.8L671.2 82.3L671.2 82.8L671.3 84.4L671.4 87.2L671.5 91.7L671.6 99.0L671.7 112.4L671.7 122.1L671.8 113.5L671.9 100.1L672.0 92.8L672.1 88.3L672.2 85.4L672.2 83.8L672.3 83.3L672.4 83.8L672.5 85.3L672.6 88.2L672.6 92.7L672.7 100.0L672.8 113.3L672.9 125.3L673.0 115.2L673.1 101.8L673.1 94.5L673.2 90.0L673.3 87.1L673.4 85.5L673.5 85.0L673.5 85.5L673.6 87.0L673.7 89.9L673.8 94.4L673.9 101.7L673.9 115.1L674.0 146.0L674.1 111.8L674.2 98.4L674.3 91.1L674.3 86.5L674.4 83.6L674.5 82.0L674.6 81.5L674.7 82.0L674.7 83.6L674.8 86.4L674.9 91.0L675.0 98.2L675.1 111.6L675.1 139.4L675.2 111.7L675.3 98.3L675.4 91.0L675.4 86.4L675.5 83.6L675.6 82.0L675.7 81.4L675.8 81.9L675.8 83.5L675.9 86.4L676.0 90.9L676.1 98.2L676.2 111.6L676.2 125.0L676.3 111.1L676.4 97.7L676.5 90.4L676.5 85.9L676.6 83.0L676.7 81.4L676.8 80.9L676.8 81.4L676.9 83.0L677.0 85.8L677.1 90.3L677.2 97.6L677.2 111.0L677.3 126.8L677.4 108.7L677.5 95.3L677.5 88.0L677.6 83.4L677.7 80.6L677.8 79.0L677.8 78.5L677.9 79.0L678.0 80.5L678.1 83.4L678.1 87.9L678.2 95.2L678.3 108.6L678.4 127.0L678.4 116.0" stroke="#ff0000" stroke-width="1.50" stroke-dasharray="1.1 1.1"/>
</g>
<rect x="46.0" y="20.5" width="632.5" height="185.0" fill="none" stroke="#262626" stroke-width="0.75"/>
<path d="M96.4 205.5v-3.2M96.4 20.5v3.2M125.9 205.5v-3.2M125.9 20.5v3.2M146.8 205.5v-3.2M146.8 20.5v3.2M163.0 205.5v-3.2M163.0 20.5v3.2M176.3 205.5v-3.2M176.3 20.5v3.2M187.5 205.5v-3.2M187.5 20.5v3.2M197.2 205.5v-3.2M197.2 20.5v3.2M205.7 205.5v-3.2M205.7 20.5v3.2M213.4 205.5v-6.3M213.4 20.5v6.3M263.8 205.5v-3.2M263.8 20.5v3.2M293.3 205.5v-3.2M293.3 20.5v3.2M314.2 205.5v-3.2M314.2 20.5v3.2M330.4 205.5v-3.2M330.4 20.5v3.2M343.7 205.5v-3.2M343.7 20.5v3.2M354.9 205.5v-3.2M354.9 20.5v3.2M364.6 205.5v-3.2M364.6 20.5v3.2M373.1 205.5v-3.2M373.1 20.5v3.2M380.8 205.5v-6.3M380.8 20.5v6.3M431.2 205.5v-3.2M431.2 20.5v3.2M460.7 205.5v-3.2M460.7 20.5v3.2M481.6 205.5v-3.2M481.6 20.5v3.2M497.8 205.5v-3.2M497.8 20.5v3.2M511.1 205.5v-3.2M511.1 20.5v3.2M522.3 205.5v-3.2M522.3 20.5v3.2M532.0 205.5v-3.2M532.0 20.5v3.2M540.5 205.5v-3.2M540.5 20.5v3.2M548.2 205.5v-6.3M548.2 20.5v6.3M598.6 205.5v-3.2M598.6 20.5v3.2M628.1 205.5v-3.2M628.1 20.5v3.2M649.0 205.5v-3.2M649.0 20.5v3.2M665.2 205.5v-3.2M665.2 20.5v3.2M678.5 205.5v-3.2M678.5 20.5v3.2M46.0 159.2h6.3M678.5 159.2h-6.3M46.0 113.0h6.3M678.5 113.0h-6.3M46.0 66.8h6.3M678.5 66.8h-6.3" fill="none" stroke="#262626" stroke-width="0.75"/>
<text x="41" y="210.7" font-size="12.5" text-anchor="end" textLength="7.3" lengthAdjust="spacingAndGlyphs">0</text>
<text x="41" y="164.4" font-size="12.5" text-anchor="end" textLength="14.7" lengthAdjust="spacingAndGlyphs">20</text>
<text x="41" y="118.2" font-size="12.5" text-anchor="end" textLength="14.7" lengthAdjust="spacingAndGlyphs">40</text>
<text x="41" y="72.0" font-size="12.5" text-anchor="end" textLength="14.7" lengthAdjust="spacingAndGlyphs">60</text>
<text x="41" y="25.7" font-size="12.5" text-anchor="end" textLength="14.7" lengthAdjust="spacingAndGlyphs">80</text>
<text x="35.8" y="226.8" font-size="12.5" textLength="14.2" lengthAdjust="spacingAndGlyphs">10</text>
<text x="50.9" y="220.8" font-size="10" textLength="5.4" lengthAdjust="spacingAndGlyphs">0</text>
<text x="203.2" y="226.8" font-size="12.5" textLength="14.2" lengthAdjust="spacingAndGlyphs">10</text>
<text x="218.3" y="220.8" font-size="10" textLength="5.4" lengthAdjust="spacingAndGlyphs">1</text>
<text x="370.6" y="226.8" font-size="12.5" textLength="14.2" lengthAdjust="spacingAndGlyphs">10</text>
<text x="385.7" y="220.8" font-size="10" textLength="5.4" lengthAdjust="spacingAndGlyphs">2</text>
<text x="538.0" y="226.8" font-size="12.5" textLength="14.2" lengthAdjust="spacingAndGlyphs">10</text>
<text x="553.1" y="220.8" font-size="10" textLength="5.4" lengthAdjust="spacingAndGlyphs">3</text>
<text x="327.6" y="234.6" font-size="14" textLength="94.4" lengthAdjust="spacingAndGlyphs">Frequency[Hz]</text>
<text transform="translate(11,142.3) rotate(-90)" font-size="14" textLength="43.3" lengthAdjust="spacingAndGlyphs">TL[dB]</text>
<text x="13.2" y="12.8" font-size="18" font-weight="bold" fill="#000" textLength="21" lengthAdjust="spacingAndGlyphs">(a)</text>
<rect x="507.7" y="27.3" width="70.2" height="47.0" fill="#fff" stroke="#262626" stroke-width="0.75"/><path d="M510.0 35.6H530.0" stroke="#000" stroke-width="1.50"/><text x="532.2" y="40.4" font-size="11.5" textLength="42.8" lengthAdjust="spacingAndGlyphs"><tspan font-style="italic" font-size="12" stroke="none">α</tspan> = 0.85</text><path d="M510.0 51.0H530.0" stroke="#0000ff" stroke-width="1.50" stroke-dasharray="4.2 3.2"/><text x="532.2" y="55.8" font-size="11.5" textLength="42.8" lengthAdjust="spacingAndGlyphs"><tspan font-style="italic" font-size="12" stroke="none">α</tspan> = 0.45</text><path d="M510.0 66.3H530.0" stroke="#ff0000" stroke-width="1.50" stroke-dasharray="1.1 1.1"/><text x="532.2" y="70.8" font-size="11.5" textLength="42.8" lengthAdjust="spacingAndGlyphs"><tspan font-style="italic" font-size="12" stroke="none">α</tspan> = 0.05</text>
<g clip-path="url(#cb)" fill="none" stroke-linejoin="miter" stroke-miterlimit="3">
<path d="M45.0 357.8L45.4 357.4L45.8 356.5L46.2 355.2L46.6 353.5L47.0 350.6L47.4 347.0L47.8 342.7L48.2 337.0L48.6 329.8L49.0 321.5L49.4 335.9L49.8 350.1L50.2 362.0L50.6 370.7L51.0 378.4L51.4 388.2L51.8 401.9L52.2 422.3L52.6 423.0L53.0 401.7L53.4 390.9L53.8 386.3L54.2 383.5L54.6 381.7L55.0 381.0L55.4 381.8L55.8 384.1L56.2 387.0L56.6 390.2L57.0 393.5L57.4 396.9L57.8 400.5L58.2 401.8L58.6 400.3L59.0 398.9L59.4 397.7L59.8 396.3L60.2 394.7L60.6 393.0L61.0 391.5L61.4 390.3L61.8 390.2L62.2 393.1L62.6 397.9L63.0 402.7L63.4 405.8L63.8 406.7L64.2 406.7L64.6 431.1L65.0 425.2L65.4 421.6L65.8 418.3L66.2 413.4L66.6 406.4L67.0 398.7L67.4 392.8L67.8 394.5L68.2 398.3L68.6 402.7L69.0 407.4L69.4 412.4L69.8 417.6L70.2 423.0L70.6 422.7L71.0 417.8L71.4 413.0L71.8 408.4L72.2 404.0L72.6 399.9L73.0 396.0L73.4 392.5L73.8 389.8L74.2 393.7L74.6 398.4L75.0 406.8L75.4 417.5L75.8 428.9L76.2 439.1L76.6 447.0L77.0 450.3L77.4 450.3L77.8 450.3L78.2 450.3L78.6 450.3L79.0 450.3L79.4 450.3L79.8 442.5L80.2 431.4L80.6 419.7L81.0 411.1L81.4 422.1L81.8 437.3L82.2 450.3L82.6 450.3L83.0 450.3L83.4 450.3L83.8 450.3L84.2 450.3L84.6 450.3L85.0 443.3L85.4 432.2L85.8 418.8L86.2 406.8L86.6 403.9L87.0 408.5L87.4 414.5L87.8 420.5L88.2 425.7L88.6 429.8L89.0 433.6L89.4 437.8L89.8 432.7L90.2 428.9L90.6 425.6L91.0 421.4L91.4 415.6L91.8 408.5L92.2 400.9L92.6 392.0L93.0 397.6L93.4 405.6L93.8 413.3L94.2 419.7L94.6 424.1L95.0 427.2L95.4 430.1L95.8 434.1L96.2 439.8L96.6 438.5L97.0 437.0L97.4 434.8L97.8 431.1L98.2 425.9L98.6 420.1L99.0 414.8L99.4 411.3L99.8 410.2L100.2 419.5L100.6 432.2L101.0 444.6L101.4 450.3L101.8 450.3L102.2 450.3L102.6 450.3L103.0 450.3L103.4 450.3L103.8 450.3L104.2 442.4L104.6 431.3L105.0 420.2L105.4 411.3L105.8 406.6L106.2 410.4L106.6 419.1L107.0 431.4L107.4 443.9L107.8 450.3L108.2 450.3L108.6 450.3L109.0 450.3L109.4 450.3L109.8 450.3L110.2 450.3L110.6 449.9L111.0 436.7L111.4 421.3L111.8 407.5L112.2 406.2L112.6 410.6L113.0 415.7L113.4 421.2L113.8 426.9L114.2 432.7L114.6 438.7L115.0 444.9L115.4 450.3L115.8 442.1L116.2 433.2L116.6 424.0L117.0 414.7L117.4 405.3L117.8 396.5L118.2 389.0L118.6 388.9L119.0 392.5L119.4 397.0L119.8 401.4L120.2 405.1L120.6 408.7L121.0 413.0L121.4 413.5L121.8 409.3L122.2 405.7L122.6 402.1L123.0 397.6L123.4 392.4L123.8 386.9L124.2 382.1L124.6 378.9L125.0 380.6L125.4 387.7L125.8 396.4L126.2 405.2L126.6 412.8L127.0 419.3L127.4 426.0L127.8 434.2L128.2 426.4L128.6 418.2L129.0 410.4L129.4 401.6L129.8 391.8L130.2 381.9L130.6 374.2L131.0 375.9L131.4 383.3L131.8 393.7L132.2 404.4L132.6 413.0L133.0 418.8L133.4 422.8L133.8 412.3L134.2 404.8L134.6 400.6L135.0 398.2L135.4 395.0L135.8 389.3L136.2 381.2L136.6 372.6L137.0 371.2L137.4 377.0L137.8 382.4L138.2 386.0L138.6 387.7L139.0 388.4L139.4 389.9L139.8 393.4L140.2 399.6L140.6 407.5L141.0 405.0L141.4 401.0L141.8 394.8L142.2 386.8L142.6 378.7L143.0 372.0L143.4 368.2L143.8 367.0L144.2 379.2L144.6 394.3L145.0 409.7L145.4 424.6L145.8 439.7L146.2 450.3L146.6 450.3L147.0 450.3L147.4 450.3L147.8 436.9L148.2 422.4L148.6 407.2L149.0 392.4L149.4 379.6L149.8 370.6L150.2 369.8L150.6 374.3L151.0 379.7L151.4 385.6L151.8 391.8L152.2 398.2L152.6 404.5L153.0 398.3L153.4 392.3L153.8 386.5L154.2 380.9L154.6 375.6L155.0 370.6L155.4 366.0L155.8 361.9L156.2 361.1L156.6 373.1L157.0 389.1L157.4 406.3L157.8 422.6L158.2 437.6L158.6 450.3L159.0 450.3L159.4 450.3L159.8 441.1L160.2 430.0L160.6 419.4L161.0 407.6L161.4 394.2L161.8 380.1L162.2 367.2L162.6 358.0L163.0 362.6L163.4 369.2L163.8 375.2L164.2 380.0L164.6 384.4L165.0 389.5L165.4 396.6L165.8 405.5L166.2 403.4L166.6 396.8L167.0 389.0L167.4 380.1L167.8 371.4L168.2 364.5L168.6 360.3L169.0 359.7L169.4 362.7L169.8 366.6L170.2 371.0L170.6 375.6L171.0 380.0L171.4 384.2L171.8 388.5L172.2 393.2L172.6 392.2L173.0 385.5L173.4 379.2L173.8 373.2L174.2 367.2L174.6 361.2L175.0 355.7L175.4 351.2L175.8 359.5L176.2 367.5L176.6 373.5L177.0 377.3L177.4 380.8L177.8 386.6L178.2 394.0L178.6 390.9L179.0 387.3L179.4 381.2L179.8 372.8L180.2 364.2L180.6 358.1L181.0 356.3L181.4 363.7L181.8 375.0L182.2 386.5L182.6 397.4L183.0 408.0L183.4 419.1L183.8 431.8L184.2 446.7L184.6 450.3L185.0 450.3L185.4 435.8L185.8 418.6L186.2 400.9L186.6 383.8L187.0 368.9L187.4 357.5L187.8 354.3L188.2 361.2L188.6 369.1L189.0 376.7L189.4 383.7L189.8 390.4L190.2 397.6L190.6 406.2L191.0 403.6L191.4 397.3L191.8 391.1L192.2 384.1L192.6 376.4L193.0 368.7L193.4 362.0L193.8 357.7L194.2 360.8L194.6 367.3L195.0 374.4L195.4 381.0L195.8 387.1L196.2 393.1L196.6 400.0L197.0 394.9L197.4 389.4L197.8 384.5L198.2 379.2L198.6 373.2L199.0 366.8L199.4 360.7L199.8 356.0L200.2 355.9" stroke="#000" stroke-width="1.00"/>
<path d="M200.2 355.9L200.6 363.5L201.0 370.3L201.4 379.8L201.8 383.1L202.2 390.7L202.6 392.3L203.0 402.3L203.4 400.0L203.8 401.8L204.2 393.0L204.6 397.7L205.0 383.4L205.4 386.3L205.8 369.7L206.2 375.8L206.6 361.9L207.0 380.2L207.4 375.7L207.8 397.0L208.2 392.3L208.6 412.4L209.0 407.6L209.4 433.2L209.8 415.6L210.2 423.6L210.6 402.7L211.0 411.1L211.4 389.1L211.8 398.1L212.2 375.5L212.6 389.2L213.0 377.5L213.4 403.8L213.8 391.9L214.2 417.0L214.6 404.3L215.0 423.4L215.4 414.5L215.8 434.7L216.2 428.7L216.6 450.3L217.0 432.3L217.4 442.1L217.8 414.1L218.2 423.2L218.6 394.1L219.0 403.8L219.4 382.4L219.8 404.8L220.2 392.2L220.6 416.9L221.0 412.1L221.4 437.8L221.8 423.6L222.2 440.1L222.6 416.9L223.0 428.9L223.4 409.5L223.8 427.6L224.2 410.1L224.6 425.6L225.0 401.5L225.4 410.8L225.8 387.9L226.2 412.5L226.6 401.6L227.0 427.7L227.4 414.5L227.8 439.0L228.2 423.4L228.6 431.7L229.0 412.0L229.4 425.8L229.8 404.6L230.2 416.5L230.6 391.1L231.0 403.8L231.4 380.8L231.8 400.5L232.2 390.2L232.6 416.0L233.0 400.7L233.4 419.7L233.8 409.6L234.2 431.3L234.6 420.5L235.0 438.3L235.4 418.1L235.8 430.8L236.2 406.9L236.6 416.4L237.0 394.1L237.4 406.8L237.8 384.1L238.2 400.7L238.6 389.6L239.0 415.3L239.4 401.8L239.8 423.0L240.2 408.0L240.6 427.2L241.0 413.3L241.4 439.5L241.8 423.3L242.2 437.1L242.6 404.9L243.0 409.3L243.4 381.6L243.8 385.5L244.2 367.0L244.6 386.1L245.0 379.8L245.4 396.3L245.8 386.0L246.2 393.9L246.6 384.8L247.0 394.0L247.4 394.1L247.8 410.9L248.2 399.2L248.6 396.3L249.0 383.0L249.4 373.9L249.8 362.8L250.2 361.6L250.6 360.1L251.0 368.3L251.4 371.3L251.8 379.2L252.2 378.4L252.6 384.1L253.0 377.6L253.4 382.9L253.8 378.3L254.2 389.0L254.6 378.1L255.0 401.9L255.4 372.2L255.8 379.2L256.2 360.7L256.6 362.7L257.0 348.4L257.4 357.4L257.8 352.7L258.2 369.2L258.6 359.1L259.0 370.0L259.4 361.4L259.8 382.7L260.2 361.2L260.6 378.8L261.0 355.0L261.4 364.3L261.8 348.9L262.2 359.6L262.6 342.7L263.0 352.6L263.4 339.9L263.8 352.1L264.2 339.3L264.6 344.7L265.0 331.0L265.4 350.3L265.8 343.3L266.2 369.0L266.6 350.5L267.0 433.5L267.4 350.5L267.8 380.6L268.2 347.2L268.6 375.5L269.0 346.1L269.4 377.1L269.8 347.3L270.2 370.4L270.6 350.4L271.0 373.1L271.4 353.4L271.8 394.2L272.2 355.7L272.6 378.4L273.0 356.9L273.4 377.3L273.8 354.0L274.2 376.8L274.6 350.1L275.0 366.5L275.4 342.6L275.8 355.5L276.2 337.5L276.6 357.6L277.0 336.9L277.4 331.0L277.8 341.7L278.2 364.8L278.6 352.2L279.0 379.2L279.4 355.2L279.8 418.0L280.2 354.2L280.6 381.1L281.0 350.7L281.4 378.0L281.8 347.6L282.2 382.7L282.6 349.9L283.0 371.7L283.4 351.1L283.8 375.8L284.2 352.1L284.6 381.5L285.0 353.0L285.4 378.7L285.8 352.2L286.2 377.0L286.6 350.6L287.0 387.0L287.4 349.2L287.8 382.3L288.2 342.3L288.6 365.3L289.0 339.1L289.4 378.5L289.8 347.4L290.2 405.6L290.6 347.9L291.0 378.8L291.4 348.0L291.8 370.7L292.2 346.4L292.6 369.9L293.0 343.7L293.4 374.3L293.8 339.1L294.2 366.9L294.6 330.7L295.0 355.4L295.4 335.4L295.8 338.0L296.2 328.6L296.6 354.6L297.0 343.9L297.4 363.2L297.8 350.0L298.2 374.2L298.6 350.7L299.0 369.9L299.4 348.8L299.8 373.6L300.2 345.3L300.6 367.9L301.0 345.7L301.4 369.6L301.8 350.6L302.2 388.9L302.6 354.4L303.0 381.8L303.4 355.5L303.8 382.3L304.2 357.3L304.6 384.9L305.0 354.8L305.4 424.9L305.8 348.8L306.2 370.8L306.6 337.7L307.0 354.7L307.4 329.1L307.8 330.9L308.2 313.0L308.6 345.7L309.0 339.0L309.4 365.8L309.8 347.1L310.2 369.8L310.6 350.7L311.0 375.0L311.4 348.4L311.8 383.7L312.2 343.5L312.6 364.7L313.0 334.0L313.4 347.8L313.8 331.4L314.2 368.5L314.6 338.5L315.0 367.6L315.4 341.6L315.8 367.3L316.2 344.2L316.6 381.1L317.0 345.0L317.4 372.3L317.8 342.2L318.2 364.4L318.6 337.5L319.0 362.2L319.4 328.8L319.8 352.9L320.2 325.8L320.6 352.5L321.0 336.3L321.4 372.2L321.8 341.7L322.2 369.9L322.6 344.5L323.0 373.4L323.4 344.9L323.8 373.4L324.2 343.2L324.6 391.8L325.0 337.1L325.4 355.6L325.8 327.6L326.2 338.6L326.6 311.7L327.0 342.1L327.4 328.2L327.8 353.8L328.2 335.6L328.6 358.4L329.0 339.9L329.4 366.7L329.8 342.9L330.2 366.0L330.6 341.5L331.0 370.7L331.4 337.5L331.8 374.1L332.2 331.7L332.6 359.2L333.0 328.4L333.4 355.6L333.8 334.4L334.2 359.5L334.6 337.9L335.0 362.7L335.4 340.4L335.8 374.6L336.2 339.9L336.6 364.0L337.0 336.2L337.4 359.0L337.8 332.2L338.2 353.2L338.6 324.9L339.0 350.2L339.4 331.9L339.8 359.5L340.2 337.0L340.6 364.5L341.0 340.2L341.4 363.7L341.8 340.2L342.2 366.0L342.6 337.4L343.0 359.5L343.4 333.0L343.8 352.2L344.2 325.3L344.6 348.1L345.0 323.8L345.4 352.0L345.8 331.1L346.2 355.3L346.6 334.7L347.0 359.4L347.4 336.8L347.8 359.8L348.2 336.7L348.6 356.9L349.0 334.1L349.4 355.4L349.8 330.6L350.2 354.5L350.6 324.1L351.0 343.5L351.4 320.4L351.8 341.5L352.2 320.0L352.6 323.6L353.0 304.0L353.4 325.5L353.8 322.6L354.2 348.9L354.6 330.8L355.0 358.6L355.4 332.2L355.8 357.4L356.2 332.0L356.6 377.4L357.0 333.6L357.4 395.6L357.8 324.2L358.2 346.6L358.6 324.1L359.0 355.0L359.4 329.6L359.8 354.7L360.2 332.4L360.6 360.1L361.0 333.9L361.4 355.8L361.8 330.9L362.2 349.8L362.6 325.2L363.0 346.6L363.4 315.8L363.8 327.4L364.2 309.3L364.6 343.3L365.0 320.8L365.4 350.4L365.8 325.4L366.2 349.6L366.6 327.8L367.0 354.0L367.4 329.0L367.8 352.7L368.2 327.4L368.6 347.3L369.0 323.2L369.4 347.5L369.8 315.0L370.2 344.4L370.6 302.3L371.0 339.3L371.4 318.5L371.8 350.5L372.2 326.2L372.6 359.7L373.0 331.5L373.4 361.4L373.8 330.4L374.2 350.0L374.6 325.2L375.0 352.6L375.4 316.0L375.8 336.3L376.2 294.7L376.6 327.4L377.0 315.0L377.4 342.7L377.8 324.3L378.2 350.6L378.6 329.1L379.0 356.5L379.4 330.4L379.8 355.0L380.2 326.9L380.6 345.8L381.0 320.9L381.4 340.3L381.8 309.3L382.2 322.6L382.6 293.3L383.0 325.8L383.4 309.9L383.8 326.1L384.2 308.7L384.6 307.8L385.0 293.0L385.4 329.1L385.8 319.7L386.2 352.0L386.6 328.7L387.0 418.2L387.4 328.4L387.8 360.7L388.2 322.4L388.6 348.4L389.0 314.7L389.4 332.8L389.8 310.6L390.2 337.9L390.6 319.7L391.0 349.1L391.4 324.7L391.8 367.6L392.2 328.2L392.6 358.9L393.0 326.7L393.4 348.2L393.8 324.4L394.2 347.0L394.6 321.4L395.0 340.9L395.4 317.0L395.8 342.6L396.2 320.3L396.6 385.7L397.0 325.4L397.4 367.5L397.8 323.3L398.2 346.3L398.6 324.1L399.0 368.2L399.4 326.7L399.8 374.2L400.2 320.2L400.6 347.9L401.0 313.9L401.4 335.0L401.8 308.7L402.2 344.6L402.6 317.7L403.0 343.3L403.4 322.6L403.8 355.7L404.2 327.3L404.6 354.2L405.0 326.9L405.4 352.1L405.8 324.5L406.2 359.0L406.6 323.5L407.0 376.9L407.4 317.2L407.8 345.8L408.2 314.9L408.6 390.8L409.0 322.4L409.4 365.7L409.8 322.0L410.2 350.6L410.6 323.3L411.0 348.1L411.4 324.6L411.8 350.5L412.2 318.4L412.6 334.2L413.0 308.0L413.4 321.3L413.8 287.1L414.2 316.9L414.6 297.7L415.0 331.3L415.4 311.8L415.8 340.1L416.2 319.3L416.6 356.1L417.0 325.6L417.4 420.4L417.8 325.3L418.2 358.4L418.6 319.2L419.0 343.5L419.4 313.3L419.8 334.0L420.2 301.9L420.6 327.9L421.0 308.2L421.4 342.8L421.8 316.5L422.2 358.8L422.6 319.6L423.0 348.3L423.4 321.4L423.8 342.2L424.2 320.5L424.6 345.0L425.0 316.6L425.4 335.4L425.8 310.7L426.2 329.3L426.6 300.3L427.0 323.6L427.4 307.6L427.8 327.9L428.2 305.2L428.6 307.4L429.0 287.0L429.4 309.2L429.8 307.9L430.2 335.8L430.6 317.0L431.0 355.9L431.4 317.1L431.8 340.6L432.2 313.9L432.6 343.3L433.0 308.5L433.4 324.4L433.8 303.6L434.2 340.4L434.6 312.8L435.0 347.9L435.4 315.4L435.8 336.5L436.2 317.8L436.6 347.0L437.0 319.9L437.4 349.4L437.8 316.6L438.2 335.6L438.6 313.9L439.0 337.9L439.4 310.5L439.8 331.2L440.2 310.9L440.6 331.5L441.0 309.6L441.4 321.0L441.8 300.3L442.2 295.4L442.6 307.2L443.0 326.2L443.4 311.2L443.8 330.5L444.2 308.7L444.6 327.0L445.0 299.4L445.4 312.4L445.8 291.3L446.2 318.8L446.6 305.6L447.0 331.9L447.4 312.2L447.8 351.6L448.2 314.4L448.6 340.7L449.0 315.1L449.4 341.0L449.8 315.1L450.2 340.7L450.6 309.3L451.0 329.0L451.4 299.6L451.8 325.3L452.2 275.2L452.6 298.0L453.0 288.7L453.4 325.8L453.8 306.6L454.2 379.9L454.6 315.6L455.0 348.6L455.4 315.5L455.8 338.1L456.2 313.4L456.6 340.0L457.0 310.9L457.4 338.9L457.8 305.0L458.2 322.1L458.6 304.2L459.0 336.5L459.4 309.3L459.8 338.3L460.2 313.2L460.6 373.0L461.0 314.7L461.4 344.7L461.8 312.4L462.2 336.0L462.6 309.4L463.0 330.8L463.4 304.2L463.8 319.9L464.2 294.0L464.6 326.4L465.0 302.1L465.4 344.8L465.8 307.9L466.2 338.0L466.6 311.4L467.0 333.0L467.4 314.2L467.8 344.9L468.2 315.9L468.6 338.3L469.0 312.5L469.4 336.4L469.8 308.3L470.2 328.8L470.6 300.9L471.0 323.1L471.4 295.0L471.8 322.3L472.2 305.3L472.6 341.6L473.0 311.6L473.4 341.2L473.8 313.3L474.2 338.7L474.6 312.5L475.0 335.9L475.4 310.9L475.8 345.3L476.2 309.7L476.6 340.0L477.0 304.9L477.4 326.1L477.8 299.5L478.2 324.8L478.6 305.5L479.0 337.5L479.4 308.6L479.8 338.2L480.2 310.6L480.6 338.6L481.0 308.3L481.4 338.5L481.8 300.1L482.2 313.6L482.6 285.6L483.0 294.8L483.4 269.6L483.8 297.2L484.2 283.1L484.6 279.0L485.0 290.4L485.4 315.1L485.8 303.4L486.2 337.2L486.6 310.9L487.0 338.4L487.4 313.2L487.8 343.0L488.2 310.8L488.6 356.5L489.0 304.7L489.4 324.6L489.8 292.9L490.2 312.4L490.6 289.4L491.0 318.2L491.4 300.6L491.8 324.1L492.2 305.6L492.6 331.3L493.0 308.4L493.4 339.8L493.8 308.4L494.2 330.5L494.6 305.0L495.0 325.5L495.4 299.2L495.8 322.0L496.2 294.7L496.6 333.3L497.0 301.9L497.4 331.7L497.8 305.8L498.2 330.8L498.6 308.4L499.0 351.3L499.4 311.0L499.8 340.0L500.2 305.9L500.6 329.6L501.0 299.7L501.4 320.2L501.8 288.6L502.2 320.0L502.6 286.9L503.0 321.4L503.4 298.1L503.8 325.0L504.2 303.9L504.6 346.1L505.0 306.7L505.4 330.4L505.8 307.7L506.2 329.4L506.6 306.4L507.0 337.6L507.4 301.9L507.8 322.5L508.2 292.0L508.6 313.8L509.0 296.6L509.4 329.5L509.8 304.2L510.2 330.4L510.6 307.9L511.0 333.9L511.4 310.5L511.8 336.4L512.2 312.9L512.6 335.9L513.0 308.5L513.4 328.7L513.8 303.8L514.2 321.5L514.6 297.5L515.0 313.5L515.4 293.9L515.8 311.2L516.2 288.8L516.6 285.7L517.0 273.2L517.4 313.8L517.8 298.5L518.2 326.6L518.6 304.2L519.0 326.0L519.4 304.5L519.8 330.2L520.2 302.8L520.6 331.8L521.0 297.7L521.4 328.0L521.8 291.5L522.2 359.5L522.6 300.1L523.0 331.5L523.4 304.1L523.8 367.8L524.2 309.9L524.6 353.8L525.0 306.7L525.4 329.9L525.8 303.0L526.2 327.8L526.6 297.8L527.0 316.4L527.4 287.5L527.8 306.4L528.2 288.1L528.6 338.5L529.0 300.9L529.4 339.7L529.8 301.9L530.2 328.9L530.6 303.9L531.0 329.6L531.4 304.6L531.8 331.4L532.2 303.3L532.6 326.4L533.0 301.4L533.4 326.0L533.8 298.4L534.2 331.3L534.6 296.4L535.0 329.1L535.4 300.4L535.8 333.5L536.2 304.5L536.6 356.7L537.0 306.1L537.4 333.5L537.8 305.6L538.2 327.4L538.6 300.9L539.0 330.1L539.4 294.4L539.8 317.6L540.2 279.7L540.6 316.6L541.0 293.2L541.4 329.3L541.8 299.5L542.2 326.9L542.6 302.4L543.0 334.0L543.4 304.9L543.8 333.1L544.2 302.3L544.6 322.5L545.0 299.8L545.4 326.8L545.8 295.3L546.2 313.4L546.6 288.0L547.0 311.1L547.4 295.6L547.8 320.3L548.2 299.5L548.6 328.5L549.0 301.6L549.4 328.6L549.8 301.9L550.2 327.7L550.6 301.1L551.0 334.0L551.4 299.5L551.8 324.7L552.2 296.6L552.6 313.4L553.0 294.7L553.4 320.0L553.8 298.0L554.2 325.2L554.6 299.6L555.0 322.2L555.4 301.1L555.8 327.5L556.2 301.4L556.6 332.0L557.0 302.6L557.4 345.6L557.8 300.2L558.2 325.1L558.6 296.4L559.0 321.2L559.4 289.8L559.8 306.7L560.2 290.9L560.6 323.0L561.0 295.9L561.4 316.9L561.8 292.9L562.2 303.2L562.6 280.7L563.0 267.0L563.4 280.7L563.8 302.6L564.2 290.8L564.6 311.4L565.0 287.8L565.4 305.4L565.8 272.0L566.2 291.4L566.6 282.5L567.0 314.5L567.4 294.2L567.8 329.3L568.2 299.7L568.6 323.6L569.0 302.8L569.4 335.0L569.8 302.3L570.2 324.5L570.6 296.3L571.0 311.9L571.4 287.3L571.8 309.2L572.2 288.0L572.6 312.4L573.0 295.4L573.4 321.4L573.8 299.3L574.2 331.6L574.6 302.6L575.0 327.6L575.4 301.9L575.8 323.4L576.2 299.0L576.6 321.0L577.0 295.5L577.4 322.3L577.8 289.8L578.2 313.0L578.6 290.8L579.0 326.6L579.4 297.0L579.8 334.2L580.2 298.8L580.6 322.0L581.0 300.7L581.4 326.6L581.8 301.8L582.2 330.9L582.6 297.8L583.0 321.9L583.4 288.5L583.8 308.6L584.2 272.8L584.6 310.9L585.0 285.7L585.4 322.3L585.8 293.1L586.2 323.7L586.6 298.4L587.0 331.5L587.4 301.0L587.8 324.2L588.2 300.4L588.6 327.2L589.0 296.9L589.4 320.6L589.8 290.5L590.2 307.0L590.6 278.5L591.0 292.5L591.4 277.9L591.8 309.2L592.2 290.3L592.6 313.5L593.0 296.8L593.4 329.6L593.8 301.2L594.2 325.2L594.6 298.8L595.0 319.8L595.4 293.2L595.8 315.8L596.2 283.8L596.6 297.1L597.0 280.6L597.4 315.3L597.8 292.0L598.2 327.6L598.6 297.6L599.0 326.2L599.4 301.4L599.8 323.2L600.2 299.8L600.6 320.9L601.0 297.3L601.4 327.5L601.8 294.1L602.2 315.0L602.6 286.7L603.0 304.1L603.4 286.4L603.8 318.4L604.2 293.7L604.6 347.6L605.0 297.0L605.4 323.8L605.8 298.2L606.2 324.3L606.6 299.3L607.0 323.2L607.4 297.0L607.8 326.3L608.2 293.1L608.6 314.7L609.0 286.4L609.4 307.4L609.8 280.6L610.2 316.6L610.6 289.9L611.0 320.3L611.4 293.7L611.8 322.2L612.2 296.0L612.6 317.6L613.0 297.5L613.4 331.0L613.8 294.3L614.2 319.3L614.6 287.1L615.0 311.1L615.4 273.4L615.8 308.6L616.2 274.2L616.6 310.0L617.0 286.1L617.4 313.9L617.8 291.6L618.2 323.1L618.6 294.4L619.0 320.1L619.4 296.0L619.8 319.8L620.2 294.8L620.6 314.8L621.0 290.6L621.4 308.4L621.8 284.0L622.2 304.6L622.6 269.8L623.0 302.3L623.4 283.4L623.8 312.4L624.2 290.0L624.6 317.2L625.0 293.7L625.4 319.0L625.8 295.6L626.2 325.5L626.6 295.6L627.0 331.0L627.4 291.9L627.8 316.3L628.2 285.0L628.6 302.5L629.0 278.7L629.4 314.2L629.8 288.0L630.2 311.8L630.6 291.3L631.0 317.4L631.4 293.7L631.8 336.9L632.2 293.5L632.6 314.1L633.0 290.3L633.4 313.4L633.8 286.4L634.2 309.7L634.6 283.8L635.0 315.6L635.4 326.1L635.8 368.0L636.2 316.2L636.6 326.3L637.0 297.4L637.4 317.6L637.8 295.7L638.2 324.4L638.6 297.2L639.0 325.5L639.4 292.7L639.8 311.8L640.2 284.7L640.6 306.0L641.0 269.2L641.4 317.4L641.8 271.9L642.2 304.2L642.6 284.8L643.0 314.4L643.4 291.3L643.8 323.8L644.2 294.3L644.6 321.5L645.0 292.8L645.4 318.3L645.8 291.2L646.2 318.2L646.6 284.1L647.0 305.3L647.4 270.0L647.8 289.9L648.2 275.6L648.6 303.5L649.0 286.1L649.4 315.6L649.8 290.6L650.2 334.9L650.6 296.1L651.0 342.9L651.4 293.6L651.8 316.1L652.2 290.6L652.6 313.7L653.0 286.1L653.4 309.0L653.8 276.5L654.2 300.4L654.6 280.7L655.0 304.2L655.4 287.8L655.8 312.4L656.2 291.7L656.6 323.4L657.0 293.5L657.4 319.4L657.8 292.3L658.2 313.6L658.6 290.1L659.0 318.6L659.4 289.3L659.8 316.6L660.2 305.8L660.6 360.0L661.0 386.0L661.4 338.6L661.8 299.8L662.2 317.0L662.6 294.2L663.0 313.7L663.4 293.0L663.8 315.8L664.2 290.1L664.6 313.1L665.0 285.7L665.4 305.5L665.8 278.2L666.2 305.7L666.6 281.5L667.0 314.8L667.4 286.8L667.8 310.2L668.2 290.1L668.6 317.2L669.0 292.6L669.4 324.0L669.8 295.5L670.2 322.2L670.6 292.0L671.0 317.5L671.4 288.8L671.8 315.7L672.2 283.9L672.6 323.2L673.0 279.8L673.4 316.8L673.8 285.9L674.2 309.4L674.6 289.1L675.0 313.9L675.4 290.7L675.8 317.6L676.2 290.1L676.6 341.8L677.0 286.8L677.4 319.3L677.8 273.9L678.2 302.3" stroke="#000" stroke-width="1.40"/>
<path d="M45.0 357.8L45.4 357.4L45.8 356.5L46.2 355.2L46.6 353.5L47.0 350.6L47.4 347.0L47.8 342.8L48.2 337.2L48.6 329.6L49.0 320.0L49.4 335.7L49.8 350.2L50.2 362.0L50.6 370.7L51.0 378.4L51.4 388.2L51.8 401.9L52.2 422.3L52.6 423.0L53.0 401.7L53.4 390.9L53.8 386.3L54.2 383.5L54.6 381.7L55.0 381.0L55.4 381.8L55.8 384.1L56.2 387.0L56.6 390.2L57.0 393.5L57.4 396.9L57.8 400.5L58.2 401.8L58.6 400.3L59.0 398.9L59.4 397.7L59.8 396.3L60.2 394.7L60.6 393.0L61.0 391.5L61.4 390.3L61.8 390.2L62.2 393.1L62.6 397.9L63.0 402.7L63.4 405.8L63.8 406.7L64.2 406.7L64.6 431.1L65.0 425.2L65.4 421.6L65.8 418.3L66.2 413.4L66.6 406.4L67.0 398.7L67.4 392.8L67.8 394.5L68.2 398.3L68.6 402.7L69.0 407.4L69.4 412.4L69.8 417.6L70.2 423.0L70.6 422.7L71.0 417.8L71.4 413.0L71.8 408.4L72.2 404.0L72.6 399.9L73.0 396.0L73.4 392.5L73.8 389.8L74.2 393.7L74.6 398.4L75.0 406.8L75.4 417.5L75.8 428.9L76.2 439.1L76.6 447.0L77.0 450.3L77.4 450.3L77.8 450.3L78.2 450.3L78.6 450.3L79.0 450.3L79.4 450.3L79.8 442.5L80.2 431.4L80.6 419.7L81.0 411.1L81.4 422.1L81.8 437.3L82.2 450.3L82.6 450.3L83.0 450.3L83.4 450.3L83.8 450.3L84.2 450.3L84.6 450.3L85.0 443.3L85.4 432.1L85.8 418.7L86.2 406.7L86.6 403.8L87.0 408.2L87.4 413.9L87.8 419.4L88.2 423.7L88.6 426.2L89.0 427.2L89.4 426.4L89.8 415.4L90.2 402.0L90.6 377.2L91.0 392.3L91.4 403.0L91.8 406.5L92.2 406.0L92.6 404.5L93.0 408.0L93.4 414.0L93.8 419.6L94.2 424.1L94.6 427.0L95.0 429.0L95.4 431.3L95.8 434.9L96.2 440.3L96.6 438.8L97.0 437.2L97.4 434.9L97.8 431.1L98.2 425.9L98.6 420.1L99.0 414.8L99.4 411.3L99.8 410.2L100.2 419.5L100.6 432.2L101.0 444.6L101.4 450.3L101.8 450.3L102.2 450.3L102.6 450.3L103.0 450.3L103.4 450.3L103.8 450.3L104.2 442.4L104.6 431.3L105.0 420.2L105.4 411.3L105.8 406.6L106.2 410.4L106.6 419.1L107.0 431.4L107.4 443.9L107.8 450.3L108.2 450.3L108.6 450.3L109.0 450.3L109.4 450.3L109.8 450.3L110.2 450.3L110.6 449.9L111.0 436.7L111.4 421.3L111.8 407.5L112.2 406.2L112.6 410.6L113.0 415.7L113.4 421.2L113.8 426.9L114.2 432.7L114.6 438.7L115.0 444.9L115.4 450.3L115.8 442.1L116.2 433.2L116.6 424.0L117.0 414.7L117.4 405.3L117.8 396.5L118.2 389.0L118.6 388.9L119.0 392.5L119.4 397.0L119.8 401.4L120.2 405.1L120.6 408.7L121.0 413.0L121.4 413.5L121.8 409.3L122.2 405.7L122.6 402.1L123.0 397.6L123.4 392.4L123.8 386.9L124.2 382.1L124.6 378.9L125.0 380.6L125.4 387.7L125.8 396.4L126.2 405.2L126.6 412.8L127.0 419.3L127.4 426.0L127.8 434.2L128.2 426.4L128.6 418.2L129.0 410.4L129.4 401.6L129.8 391.8L130.2 381.9L130.6 374.2L131.0 375.9L131.4 383.3L131.8 393.7L132.2 404.4L132.6 413.0L133.0 418.8L133.4 422.8L133.8 412.3L134.2 404.8L134.6 400.6L135.0 398.2L135.4 395.0L135.8 389.3L136.2 381.2L136.6 372.6L137.0 371.2L137.4 377.0L137.8 382.4L138.2 386.0L138.6 387.7L139.0 388.4L139.4 389.9L139.8 393.4L140.2 399.6L140.6 407.5L141.0 405.0L141.4 401.0L141.8 394.8L142.2 386.8L142.6 378.7L143.0 372.0L143.4 368.2L143.8 367.0L144.2 379.2L144.6 394.3L145.0 409.7L145.4 424.6L145.8 439.7L146.2 450.3L146.6 450.3L147.0 450.3L147.4 450.3L147.8 436.9L148.2 422.4L148.6 407.2L149.0 392.4L149.4 379.6L149.8 370.6L150.2 369.8L150.6 374.3L151.0 379.7L151.4 385.6L151.8 391.8L152.2 398.2L152.6 404.5L153.0 398.3L153.4 392.3L153.8 386.5L154.2 380.9L154.6 375.6L155.0 370.6L155.4 366.0L155.8 361.9L156.2 361.1L156.6 373.1L157.0 389.1L157.4 406.3L157.8 422.6L158.2 437.6L158.6 450.3L159.0 450.3L159.4 450.3L159.8 441.1L160.2 430.0L160.6 419.4L161.0 407.6L161.4 394.2L161.8 380.1L162.2 367.2L162.6 358.0L163.0 362.6L163.4 369.2L163.8 375.2L164.2 380.0L164.6 384.4L165.0 389.5L165.4 396.6L165.8 405.5L166.2 403.4L166.6 396.8L167.0 389.0L167.4 380.1L167.8 371.4L168.2 364.5L168.6 360.3L169.0 359.7L169.4 362.7L169.8 366.6L170.2 371.0L170.6 375.6L171.0 380.0L171.4 384.2L171.8 388.5L172.2 393.2L172.6 392.2L173.0 385.5L173.4 379.2L173.8 373.2L174.2 367.2L174.6 361.2L175.0 355.7L175.4 351.2L175.8 359.5L176.2 367.5L176.6 373.5L177.0 377.3L177.4 380.8L177.8 386.6L178.2 394.0L178.6 390.9L179.0 387.3L179.4 381.2L179.8 372.8L180.2 364.2L180.6 358.1L181.0 356.3L181.4 363.7L181.8 375.0L182.2 386.5L182.6 397.4L183.0 408.0L183.4 419.1L183.8 431.8L184.2 446.7L184.6 450.3L185.0 450.3L185.4 435.8L185.8 418.6L186.2 400.9L186.6 383.8L187.0 368.9L187.4 357.5L187.8 354.3L188.2 361.2L188.6 369.1L189.0 376.7L189.4 383.7L189.8 390.4L190.2 397.6L190.6 406.2L191.0 403.6L191.4 397.3L191.8 391.1L192.2 384.1L192.6 376.4L193.0 368.7L193.4 362.0L193.8 357.7L194.2 360.8L194.6 367.3L195.0 374.4L195.4 381.0L195.8 387.1L196.2 393.1L196.6 400.0L197.0 394.9L197.4 389.4L197.8 384.5L198.2 379.2L198.6 373.1L199.0 366.5L199.4 360.2L199.8 355.3L200.2 354.9" stroke="#0000ff" stroke-width="1.00"/>
<path d="M200.2 354.9L200.6 361.1L201.0 368.4L201.4 375.1L201.8 380.3L202.2 384.3L202.6 388.4L203.0 393.8L203.4 395.0L203.8 390.7L204.2 387.0L204.6 382.5L205.0 376.4L205.4 369.1L205.8 361.6L206.2 355.8L206.6 352.7L207.0 357.9L207.4 365.2L207.8 373.0L208.2 380.5L208.6 387.4L209.0 394.4L209.4 402.2L209.8 400.9L210.2 393.5L210.6 386.6L211.0 379.4L211.4 371.7L211.8 363.8L212.2 356.8L212.6 353.0L213.0 357.7L213.4 364.2L213.8 371.1L214.2 377.3L214.6 382.6L215.0 387.3L215.4 392.2L215.8 398.2L216.2 405.8L216.6 414.6L217.0 408.8L217.4 399.8L217.8 390.0L218.2 379.6L218.6 369.5L219.0 361.0L219.4 357.3L219.8 359.6L220.2 366.6L220.6 376.4L221.0 386.2L221.4 393.4L221.8 397.3L222.2 399.0L222.6 390.3L223.0 384.6L223.4 382.7L223.8 383.1L224.2 383.1L224.6 381.6L225.0 374.5L225.4 369.5L225.8 361.0L226.2 371.2L226.6 374.9L227.0 388.6L227.4 388.7L227.8 401.7L228.2 398.9L228.6 400.1L229.0 389.1L229.4 396.5L229.8 383.5L230.2 390.2L230.6 371.9L231.0 380.4L231.4 363.4L231.8 381.2L232.2 374.5L232.6 399.3L233.0 386.7L233.4 406.4L233.8 397.3L234.2 420.9L234.6 410.0L235.0 429.6L235.4 409.4L235.8 424.1L236.2 400.0L236.6 411.3L237.0 389.1L237.4 403.8L237.8 380.9L238.2 399.2L238.6 388.1L239.0 415.6L239.4 401.8L239.8 424.7L240.2 409.4L240.6 430.1L241.0 415.9L241.4 443.9L241.8 427.2L242.2 443.4L242.6 410.0L243.0 418.3L243.4 387.9L243.8 397.7L244.2 374.5L244.6 401.8L245.0 388.6L245.4 415.4L245.8 395.9L246.2 415.0L246.6 395.7L247.0 417.6L247.4 406.5L247.8 447.2L248.2 413.2L248.6 428.7L249.0 397.7L249.4 414.4L249.8 380.1L250.2 405.7L250.6 377.4L251.0 401.7L251.4 390.5L251.8 412.5L252.2 400.5L252.6 424.7L253.0 401.6L253.4 422.1L253.8 404.7L254.2 434.3L254.6 407.9L255.0 450.3L255.4 402.1L255.8 418.1L256.2 385.8L256.6 388.3L257.0 366.5L257.4 376.6L257.8 372.4L258.2 389.5L258.6 381.8L259.0 389.4L259.4 384.1L259.8 395.3L260.2 381.7L260.6 387.1L261.0 373.8L261.4 374.9L261.8 362.6L262.2 363.1L262.6 349.7L263.0 353.0L263.4 347.4L263.8 361.6L264.2 357.1L264.6 376.1L265.0 361.4L265.4 375.8L265.8 362.3L266.2 382.1L266.6 368.5L267.0 423.7L267.4 364.0L267.8 381.8L268.2 357.0L268.6 374.6L269.0 354.0L269.4 375.7L269.8 356.3L270.2 373.0L270.6 359.8L271.0 376.4L271.4 363.1L271.8 392.8L272.2 365.6L272.6 383.0L273.0 367.3L273.4 383.1L273.8 364.6L274.2 383.3L274.6 361.1L275.0 375.8L275.4 354.1L275.8 367.7L276.2 350.1L276.6 384.1L277.0 360.0L277.4 389.6L277.8 364.0L278.2 390.4L278.6 367.2L279.0 395.8L279.4 366.7L279.8 434.8L280.2 364.4L280.6 393.0L281.0 360.3L281.4 389.3L281.8 357.0L282.2 394.0L282.6 359.1L283.0 382.0L283.4 360.1L283.8 386.1L284.2 361.1L284.6 392.1L285.0 361.8L285.4 388.9L285.8 360.7L286.2 386.8L286.6 358.8L287.0 397.0L287.4 357.0L287.8 391.8L288.2 349.6L288.6 373.9L289.0 345.9L289.4 387.1L289.8 353.8L290.2 415.0L290.6 353.8L291.0 386.2L291.4 353.6L291.8 377.6L292.2 351.8L292.6 377.1L293.0 349.2L293.4 383.3L293.8 345.1L294.2 378.9L294.6 336.4L295.0 372.9L295.4 346.3L295.8 377.4L296.2 352.1L296.6 384.1L297.0 354.6L297.4 376.1L297.8 357.1L298.2 383.3L298.6 356.2L299.0 376.5L299.4 353.6L299.8 380.1L300.2 350.0L300.6 374.2L301.0 350.4L301.4 375.4L301.8 355.2L302.2 395.5L302.6 359.0L303.0 387.8L303.4 360.0L303.8 388.3L304.2 361.8L304.6 391.0L305.0 359.3L305.4 433.4L305.8 353.2L306.2 376.7L306.6 341.9L307.0 360.0L307.4 332.6L307.8 334.1L308.2 315.0L308.6 349.7L309.0 342.7L309.4 371.0L309.8 351.2L310.2 375.2L310.6 355.0L311.0 380.7L311.4 352.8L311.8 390.2L312.2 348.0L312.6 370.7L313.0 338.6L313.4 353.8L313.8 336.0L314.2 374.8L314.6 342.9L315.0 373.5L315.4 346.0L315.8 373.0L316.2 348.5L316.6 387.4L317.0 349.4L317.4 378.1L317.8 346.5L318.2 370.1L318.6 341.9L319.0 368.3L319.4 333.5L319.8 359.7L320.2 330.6L320.6 358.1L321.0 340.8L321.4 378.3L321.8 346.0L322.2 375.6L322.6 348.8L323.0 379.1L323.4 349.1L323.8 379.3L324.2 347.5L324.6 399.0L325.0 341.5L325.4 361.3L325.8 332.1L326.2 344.3L326.6 316.6L327.0 347.9L327.4 332.6L327.8 359.3L328.2 339.9L328.6 363.7L329.0 344.0L329.4 372.2L329.8 347.0L330.2 371.4L330.6 345.6L331.0 376.6L331.4 341.7L331.8 380.5L332.2 336.1L332.6 365.5L333.0 332.8L333.4 361.2L333.8 338.5L334.2 364.9L334.6 341.9L335.0 368.0L335.4 344.4L335.8 380.4L336.2 343.9L336.6 369.0L337.0 339.8L337.4 363.1L337.8 335.3L338.2 355.5L338.6 327.0L339.0 347.3L339.4 327.9L339.8 337.8L340.2 314.9L340.6 307.5L341.0 326.9L341.4 351.3L341.8 337.9L342.2 364.8L342.6 339.3L343.0 362.7L343.4 336.4L343.8 357.0L344.2 329.5L344.6 354.0L345.0 328.1L345.4 357.4L345.8 335.1L346.2 360.6L346.6 338.7L347.0 364.7L347.4 340.8L347.8 365.0L348.2 340.6L348.6 362.0L349.0 338.1L349.4 360.6L349.8 334.6L350.2 360.0L350.6 328.2L351.0 349.0L351.4 324.3L351.8 346.3L352.2 323.4L352.6 326.9L353.0 306.0L353.4 328.8L353.8 325.8L354.2 353.6L354.6 334.5L355.0 363.8L355.4 336.1L355.8 362.7L356.2 336.0L356.6 384.0L357.0 337.9L357.4 403.5L357.8 328.5L358.2 352.5L358.6 328.3L359.0 360.6L359.4 333.6L359.8 359.9L360.2 336.3L360.6 365.5L361.0 337.8L361.4 361.0L361.8 334.9L362.2 355.0L362.6 329.3L363.0 352.2L363.4 320.1L363.8 333.0L364.2 313.7L364.6 349.0L365.0 324.9L365.4 356.0L365.8 329.4L366.2 354.8L366.6 331.7L367.0 359.3L367.4 332.9L367.8 358.0L368.2 331.3L368.6 352.4L369.0 327.3L369.4 353.2L369.8 319.4L370.2 351.1L370.6 307.0L371.0 345.2L371.4 322.7L371.8 356.1L372.2 330.2L372.6 365.4L373.0 335.5L373.4 367.0L373.8 334.3L374.2 355.2L374.6 329.2L375.0 358.3L375.4 320.1L375.8 342.1L376.2 299.1L376.6 332.8L377.0 319.1L377.4 347.9L377.8 328.2L378.2 355.8L378.6 332.9L379.0 361.8L379.4 334.3L379.8 360.3L380.2 330.8L380.6 350.8L381.0 324.8L381.4 345.6L381.8 313.3L382.2 328.0L382.6 297.4L383.0 330.9L383.4 313.5L383.8 330.3L384.2 311.7L384.6 310.7L385.0 295.0L385.4 333.0L385.8 323.0L386.2 357.0L386.6 332.5L387.0 427.0L387.4 332.4L387.8 366.6L388.2 326.3L388.6 354.0L389.0 318.9L389.4 338.6L389.8 314.9L390.2 343.2L390.6 323.7L391.0 354.5L391.4 328.6L391.8 373.8L392.2 332.1L392.6 364.5L393.0 330.5L393.4 353.2L393.8 328.2L394.2 352.2L394.6 325.3L395.0 346.0L395.4 321.0L395.8 347.9L396.2 324.3L396.6 393.1L397.0 329.4L397.4 373.8L397.8 327.1L398.2 351.3L398.6 327.9L399.0 374.5L399.4 330.7L399.8 381.0L400.2 324.1L400.6 353.5L401.0 317.9L401.4 340.6L401.8 312.8L402.2 350.3L402.6 321.5L403.0 348.4L403.4 326.4L403.8 361.2L404.2 331.1L404.6 359.3L405.0 330.6L405.4 357.2L405.8 328.2L406.2 364.7L406.6 327.3L407.0 383.9L407.4 321.1L407.8 351.6L408.2 318.8L408.6 398.7L409.0 326.3L409.4 372.0L409.8 325.7L410.2 355.8L410.6 327.0L411.0 353.1L411.4 328.3L411.8 355.8L412.2 322.1L412.6 339.1L413.0 312.0L413.4 326.7L413.8 291.8L414.2 323.5L414.6 302.0L415.0 336.7L415.4 315.6L415.8 345.1L416.2 322.9L416.6 361.7L417.0 329.3L417.4 429.3L417.8 329.0L418.2 364.1L418.6 322.8L419.0 348.6L419.4 317.0L419.8 339.2L420.2 306.0L420.6 333.4L421.0 312.0L421.4 348.2L421.8 320.2L422.2 364.6L422.6 323.1L423.0 353.4L423.4 324.9L423.8 346.8L424.2 324.0L424.6 349.9L425.0 320.1L425.4 340.1L425.8 314.2L426.2 334.3L426.6 304.1L427.0 328.1L427.4 310.9L427.8 332.2L428.2 308.1L428.6 310.4L429.0 289.0L429.4 312.3L429.8 310.7L430.2 340.1L430.6 320.2L431.0 361.3L431.4 320.4L431.8 345.2L432.2 317.3L432.6 348.4L433.0 312.0L433.4 329.1L433.8 307.2L434.2 345.6L434.6 316.2L435.0 353.1L435.4 318.7L435.8 340.8L436.2 321.0L436.6 351.8L437.0 323.2L437.4 354.5L437.8 319.9L438.2 340.2L438.6 317.4L439.0 343.5L439.4 314.4L439.8 338.1L440.2 315.9L440.6 343.6L441.0 318.3L441.4 348.5L441.8 320.5L442.2 362.7L442.6 320.7L443.0 342.8L443.4 317.5L443.8 338.9L444.2 312.7L444.6 332.7L445.0 302.8L445.4 317.4L445.8 294.7L446.2 323.2L446.6 308.7L447.0 336.2L447.4 315.2L447.8 356.7L448.2 317.3L448.6 345.1L449.0 318.0L449.4 345.4L449.8 318.0L450.2 345.1L450.6 312.2L451.0 333.3L451.4 302.7L451.8 330.6L452.2 278.7L452.6 302.9L453.0 291.9L453.4 330.5L453.8 309.6L454.2 386.7L454.6 318.5L455.0 353.3L455.4 318.3L455.8 342.2L456.2 316.2L456.6 344.3L457.0 313.8L457.4 343.5L457.8 307.9L458.2 326.4L458.6 307.2L459.0 341.0L459.4 312.1L459.8 342.6L460.2 316.0L460.6 379.1L461.0 317.5L461.4 349.2L461.8 315.2L462.2 340.2L462.6 312.2L463.0 334.9L463.4 307.1L463.8 324.1L464.2 297.2L464.6 331.5L465.0 305.2L465.4 349.9L465.8 310.8L466.2 342.4L466.6 314.1L467.0 336.7L467.4 316.8L467.8 349.0L468.2 318.5L468.6 341.9L469.0 314.7L469.4 339.2L469.8 310.0L470.2 329.9L470.6 301.8L471.0 320.3L471.4 294.1L471.8 306.4L472.2 289.4L472.6 284.0L473.0 300.0L473.4 327.9L473.8 310.5L474.2 336.6L474.6 313.2L475.0 337.7L475.4 312.9L475.8 349.1L476.2 312.2L476.6 344.3L477.0 307.6L477.4 330.1L477.8 302.3L478.2 328.8L478.6 308.2L479.0 341.9L479.4 311.2L479.8 342.5L480.2 313.3L480.6 342.9L481.0 311.0L481.4 343.1L481.8 302.9L482.2 317.4L482.6 288.5L483.0 298.9L483.4 272.6L483.8 300.7L484.2 285.4L484.6 281.0L485.0 292.7L485.4 318.6L485.8 305.9L486.2 341.5L486.6 313.6L487.0 342.5L487.4 315.8L487.8 347.4L488.2 313.5L488.6 361.9L489.0 307.5L489.4 329.0L489.8 296.1L490.2 317.4L490.6 292.6L491.0 322.4L491.4 303.5L491.8 328.0L492.2 308.4L492.6 335.4L493.0 311.0L493.4 344.2L493.8 311.1L494.2 334.5L494.6 307.7L495.0 329.5L495.4 302.1L495.8 326.6L496.2 297.8L496.6 338.1L497.0 304.7L497.4 335.9L497.8 308.5L498.2 334.8L498.6 311.1L499.0 356.3L499.4 313.7L499.8 344.5L500.2 308.5L500.6 333.7L501.0 302.4L501.4 324.4L501.8 291.5L502.2 325.5L502.6 289.8L503.0 325.8L503.4 300.8L503.8 329.0L504.2 306.6L504.6 351.0L505.0 309.4L505.4 334.4L505.8 310.4L506.2 333.2L506.6 309.1L507.0 342.2L507.4 304.7L507.8 326.8L508.2 295.1L508.6 318.4L509.0 299.6L509.4 333.9L509.8 306.9L510.2 334.4L510.6 310.6L511.0 337.9L511.4 313.1L511.8 340.4L512.2 315.6L512.6 339.9L513.0 311.1L513.4 332.5L513.8 306.4L514.2 325.3L514.6 300.2L515.0 317.4L515.4 296.6L515.8 314.7L516.2 291.1L516.6 288.2L517.0 275.2L517.4 317.4L517.8 301.0L518.2 330.4L518.6 306.8L519.0 329.8L519.4 307.1L519.8 334.3L520.2 305.4L520.6 336.3L521.0 300.5L521.4 332.9L521.8 294.6L522.2 366.0L522.6 303.0L523.0 335.9L523.4 306.8L523.8 373.9L524.2 312.8L524.6 359.1L525.0 309.4L525.4 333.9L525.8 305.6L526.2 332.0L526.6 300.6L527.0 320.5L527.4 290.5L527.8 311.3L528.2 291.2L528.6 343.9L529.0 303.9L529.4 344.7L529.8 304.6L530.2 333.0L530.6 306.5L531.0 333.6L531.4 307.2L531.8 335.5L532.2 305.9L532.6 330.3L533.0 304.0L533.4 330.1L533.8 301.1L534.2 336.0L534.6 299.3L535.0 333.6L535.4 303.1L535.8 337.8L536.2 307.2L536.6 362.3L537.0 308.7L537.4 337.6L537.8 308.2L538.2 331.3L538.6 303.6L539.0 334.7L539.4 297.4L539.8 322.4L540.2 283.0L540.6 321.2L541.0 296.0L541.4 333.9L541.8 302.2L542.2 331.0L542.6 305.0L543.0 338.3L543.4 307.5L543.8 337.4L544.2 304.8L544.6 326.3L545.0 302.4L545.4 331.0L545.8 298.0L546.2 317.3L546.6 290.8L547.0 314.6L547.4 297.9L547.8 323.1L548.2 300.9L548.6 329.1L549.0 300.8L549.4 323.2L549.8 295.2L550.2 306.4L550.6 279.0L551.0 263.0L551.4 278.4L551.8 304.6L552.2 291.1L552.6 309.8L553.0 294.5L553.4 320.9L553.8 299.5L554.2 328.0L554.6 301.7L555.0 325.5L555.4 303.5L555.8 331.3L556.2 303.9L556.6 336.1L557.0 305.2L557.4 350.6L557.8 302.8L558.2 329.2L558.6 299.1L559.0 325.4L559.4 292.6L559.8 310.8L560.2 293.6L560.6 327.3L561.0 298.5L561.4 320.7L561.8 295.3L562.2 306.3L562.6 282.9L563.0 269.0L563.4 282.9L563.8 305.8L564.2 293.2L564.6 315.1L565.0 290.3L565.4 309.3L565.8 274.7L566.2 295.2L566.6 285.1L567.0 318.5L567.4 296.7L567.8 333.7L568.2 302.2L568.6 327.4L569.0 305.3L569.4 339.3L569.8 305.0L570.2 328.5L570.6 298.9L571.0 315.7L571.4 290.2L571.8 313.8L572.2 290.8L572.6 316.2L573.0 298.0L573.4 325.3L573.8 301.9L574.2 335.8L574.6 305.2L575.0 331.5L575.4 304.4L575.8 327.2L576.2 301.5L576.6 324.8L577.0 298.1L577.4 326.5L577.8 292.5L578.2 317.3L578.6 293.4L579.0 331.0L579.4 299.6L579.8 338.8L580.2 301.3L580.6 325.7L581.0 303.2L581.4 330.5L581.8 304.3L582.2 335.2L582.6 300.4L583.0 326.1L583.4 291.2L583.8 313.0L584.2 276.0L584.6 316.0L585.0 288.6L585.4 326.8L585.8 295.7L586.2 327.7L586.6 300.9L587.0 335.8L587.4 303.4L587.8 327.8L588.2 302.9L588.6 331.2L589.0 299.4L589.4 324.6L589.8 293.0L590.2 310.7L590.6 281.2L591.0 296.7L591.4 280.6L591.8 313.1L592.2 292.8L592.6 317.0L593.0 299.3L593.4 333.8L593.8 303.7L594.2 329.0L594.6 301.2L595.0 323.6L595.4 295.7L595.8 319.9L596.2 286.6L596.6 301.4L597.0 283.5L597.4 319.6L597.8 294.6L598.2 331.9L598.6 300.1L599.0 330.1L599.4 303.8L599.8 326.8L600.2 302.2L600.6 324.6L601.0 299.7L601.4 331.8L601.8 296.6L602.2 318.9L602.6 289.4L603.0 308.3L603.4 289.0L603.8 322.5L604.2 296.2L604.6 353.0L605.0 299.5L605.4 327.6L605.8 300.6L606.2 328.1L606.6 301.6L607.0 327.0L607.4 299.4L607.8 330.5L608.2 295.6L608.6 318.6L609.0 289.0L609.4 311.7L609.8 283.4L610.2 320.9L610.6 292.5L611.0 324.3L611.4 296.1L611.8 326.1L612.2 298.4L612.6 321.2L613.0 299.8L613.4 335.3L613.8 296.7L614.2 323.2L614.6 289.5L615.0 315.1L615.4 276.3L615.8 313.4L616.2 276.7L616.6 311.0L617.0 285.9L617.4 308.1L617.8 284.9L618.2 296.5L618.6 269.9L619.0 262.3L619.4 281.3L619.8 306.0L620.2 291.1L620.6 312.5L621.0 291.0L621.4 310.1L621.8 286.0L622.2 308.2L622.6 272.8L623.0 306.2L623.4 285.9L623.8 316.1L624.2 292.3L624.6 320.9L625.0 296.0L625.4 322.7L625.8 297.9L626.2 329.4L626.6 298.0L627.0 335.4L627.4 294.3L627.8 320.2L628.2 287.5L628.6 306.6L629.0 281.4L629.4 318.4L629.8 290.5L630.2 315.4L630.6 293.6L631.0 321.1L631.4 296.0L631.8 341.6L632.2 295.8L632.6 317.7L633.0 292.6L633.4 317.2L633.8 288.8L634.2 313.7L634.6 286.7L635.0 320.4L635.4 330.5L635.8 374.0L636.2 319.8L636.6 330.5L637.0 300.0L637.4 321.2L637.8 298.0L638.2 328.3L638.6 299.5L639.0 329.4L639.4 295.1L639.8 315.5L640.2 287.2L640.6 310.3L641.0 272.3L641.4 324.0L641.8 274.9L642.2 308.2L642.6 287.3L643.0 318.2L643.4 293.6L643.8 327.8L644.2 296.5L644.6 325.3L645.0 295.1L645.4 322.0L645.8 293.5L646.2 322.3L646.6 286.6L647.0 309.5L647.4 272.9L647.8 294.3L648.2 278.3L648.6 307.3L649.0 288.5L649.4 319.5L649.8 292.9L650.2 339.6L650.6 298.5L651.0 347.9L651.4 295.8L651.8 319.6L652.2 292.8L652.6 317.4L653.0 288.4L653.4 312.9L653.8 279.1L654.2 304.5L654.6 283.2L655.0 307.7L655.4 290.1L655.8 315.9L656.2 293.9L656.6 327.3L657.0 295.7L657.4 322.9L657.8 294.5L658.2 317.1L658.6 292.3L659.0 322.6L659.4 291.9L659.8 320.9L660.2 309.6L660.6 365.6L661.0 392.0L661.4 343.5L661.8 302.6L662.2 320.7L662.6 296.4L663.0 317.0L663.4 295.2L663.8 319.3L664.2 292.2L664.6 316.7L665.0 287.9L665.4 309.0L665.8 280.6L666.2 309.9L666.6 283.9L667.0 318.8L667.4 289.0L667.8 313.5L668.2 292.2L668.6 320.7L669.0 294.7L669.4 327.7L669.8 297.7L670.2 325.9L670.6 294.1L671.0 321.1L671.4 290.9L671.8 319.5L672.2 286.2L672.6 328.0L673.0 282.3L673.4 321.0L673.8 288.1L674.2 312.7L674.6 291.2L675.0 317.3L675.4 292.8L675.8 321.1L676.2 292.2L676.6 346.9L677.0 289.1L677.4 323.7L677.8 276.1L678.2 306.7" stroke="#0000ff" stroke-width="1.40"/>
<path d="M45.0 357.8L45.4 357.4L45.8 356.5L46.2 355.2L46.6 353.5L47.0 350.6L47.4 347.0L47.8 342.7L48.2 336.9L48.6 330.0L49.0 323.0L49.4 336.1L49.8 350.0L50.2 362.0L50.6 370.7L51.0 378.4L51.4 388.2L51.8 401.9L52.2 422.3L52.6 423.0L53.0 401.7L53.4 390.9L53.8 386.3L54.2 383.5L54.6 381.7L55.0 381.0L55.4 381.8L55.8 384.1L56.2 387.0L56.6 390.2L57.0 393.5L57.4 396.9L57.8 400.5L58.2 401.8L58.6 400.3L59.0 398.9L59.4 397.7L59.8 396.3L60.2 394.7L60.6 393.0L61.0 391.5L61.4 390.3L61.8 390.2L62.2 393.1L62.6 397.9L63.0 402.7L63.4 405.8L63.8 406.7L64.2 406.7L64.6 431.1L65.0 425.2L65.4 421.6L65.8 418.3L66.2 413.4L66.6 406.4L67.0 398.7L67.4 392.8L67.8 394.5L68.2 398.3L68.6 402.7L69.0 407.4L69.4 412.4L69.8 417.6L70.2 423.0L70.6 422.7L71.0 417.8L71.4 413.0L71.8 408.4L72.2 404.0L72.6 399.9L73.0 396.0L73.4 392.5L73.8 389.8L74.2 393.7L74.6 398.4L75.0 406.8L75.4 417.5L75.8 428.9L76.2 439.1L76.6 447.0L77.0 450.3L77.4 450.3L77.8 450.3L78.2 450.3L78.6 450.3L79.0 450.3L79.4 450.3L79.8 442.5L80.2 431.4L80.6 419.7L81.0 411.1L81.4 422.1L81.8 437.3L82.2 450.3L82.6 450.3L83.0 450.3L83.4 450.3L83.8 450.3L84.2 450.3L84.6 450.3L85.0 443.3L85.4 432.2L85.8 418.8L86.2 406.8L86.6 403.9L87.0 408.5L87.4 414.5L87.8 420.6L88.2 425.8L88.6 430.0L89.0 434.0L89.4 438.5L89.8 433.8L90.2 430.6L90.6 428.2L91.0 425.4L91.4 421.4L91.8 416.4L92.2 411.2L92.6 407.3L93.0 409.9L93.4 415.3L93.8 420.5L94.2 424.7L94.6 427.4L95.0 429.3L95.4 431.4L95.8 435.0L96.2 440.4L96.6 438.8L97.0 437.2L97.4 434.9L97.8 431.1L98.2 425.9L98.6 420.1L99.0 414.8L99.4 411.3L99.8 410.2L100.2 419.5L100.6 432.2L101.0 444.6L101.4 450.3L101.8 450.3L102.2 450.3L102.6 450.3L103.0 450.3L103.4 450.3L103.8 450.3L104.2 442.4L104.6 431.3L105.0 420.2L105.4 411.3L105.8 406.6L106.2 410.4L106.6 419.1L107.0 431.4L107.4 443.9L107.8 450.3L108.2 450.3L108.6 450.3L109.0 450.3L109.4 450.3L109.8 450.3L110.2 450.3L110.6 449.9L111.0 436.7L111.4 421.3L111.8 407.5L112.2 406.2L112.6 410.6L113.0 415.7L113.4 421.2L113.8 426.9L114.2 432.7L114.6 438.7L115.0 444.9L115.4 450.3L115.8 442.1L116.2 433.2L116.6 424.0L117.0 414.7L117.4 405.3L117.8 396.5L118.2 389.0L118.6 388.9L119.0 392.5L119.4 397.0L119.8 401.4L120.2 405.1L120.6 408.7L121.0 413.0L121.4 413.5L121.8 409.3L122.2 405.7L122.6 402.1L123.0 397.6L123.4 392.4L123.8 386.9L124.2 382.1L124.6 378.9L125.0 380.6L125.4 387.7L125.8 396.4L126.2 405.2L126.6 412.8L127.0 419.3L127.4 426.0L127.8 434.2L128.2 426.4L128.6 418.2L129.0 410.4L129.4 401.6L129.8 391.8L130.2 381.9L130.6 374.2L131.0 375.9L131.4 383.3L131.8 393.7L132.2 404.4L132.6 413.0L133.0 418.8L133.4 422.8L133.8 412.3L134.2 404.8L134.6 400.6L135.0 398.2L135.4 395.0L135.8 389.3L136.2 381.2L136.6 372.6L137.0 371.2L137.4 377.0L137.8 382.4L138.2 386.0L138.6 387.7L139.0 388.4L139.4 389.9L139.8 393.4L140.2 399.6L140.6 407.5L141.0 405.0L141.4 401.0L141.8 394.8L142.2 386.8L142.6 378.7L143.0 372.0L143.4 368.2L143.8 367.0L144.2 379.2L144.6 394.3L145.0 409.7L145.4 424.6L145.8 439.7L146.2 450.3L146.6 450.3L147.0 450.3L147.4 450.3L147.8 436.9L148.2 422.4L148.6 407.2L149.0 392.4L149.4 379.6L149.8 370.6L150.2 369.8L150.6 374.3L151.0 379.7L151.4 385.6L151.8 391.8L152.2 398.2L152.6 404.5L153.0 398.3L153.4 392.3L153.8 386.5L154.2 380.9L154.6 375.6L155.0 370.6L155.4 366.0L155.8 361.9L156.2 361.1L156.6 373.1L157.0 389.1L157.4 406.3L157.8 422.6L158.2 437.6L158.6 450.3L159.0 450.3L159.4 450.3L159.8 441.1L160.2 430.0L160.6 419.4L161.0 407.6L161.4 394.2L161.8 380.1L162.2 367.2L162.6 358.0L163.0 362.6L163.4 369.2L163.8 375.2L164.2 380.0L164.6 384.4L165.0 389.5L165.4 396.6L165.8 405.5L166.2 403.4L166.6 396.8L167.0 389.0L167.4 380.1L167.8 371.4L168.2 364.5L168.6 360.3L169.0 359.7L169.4 362.7L169.8 366.6L170.2 371.0L170.6 375.6L171.0 380.0L171.4 384.2L171.8 388.5L172.2 393.2L172.6 392.2L173.0 385.5L173.4 379.2L173.8 373.2L174.2 367.2L174.6 361.2L175.0 355.7L175.4 351.2L175.8 359.5L176.2 367.5L176.6 373.5L177.0 377.3L177.4 380.8L177.8 386.6L178.2 394.0L178.6 390.9L179.0 387.3L179.4 381.2L179.8 372.8L180.2 364.2L180.6 358.1L181.0 356.3L181.4 363.7L181.8 375.0L182.2 386.5L182.6 397.4L183.0 407.9L183.4 419.0L183.8 431.6L184.2 446.2L184.6 450.3L185.0 450.3L185.4 433.7L185.8 415.7L186.2 397.3L186.6 379.7L187.0 364.7L187.4 353.9L187.8 349.8L188.2 348.4L188.6 344.8L189.0 361.6L189.4 372.5L189.8 382.4L190.2 392.0L190.6 402.3L191.0 401.3L191.4 396.1L191.8 390.4L192.2 383.8L192.6 376.2L193.0 368.6L193.4 362.0L193.8 357.7L194.2 360.8L194.6 367.3L195.0 374.4L195.4 381.0L195.8 387.1L196.2 393.1L196.6 400.0L197.0 394.9L197.4 389.4L197.8 384.5L198.2 379.2L198.6 373.1L199.0 366.5L199.4 360.2L199.8 355.3L200.2 354.9L200.6 361.1L201.0 368.4L201.4 375.1L201.8 380.3L202.2 384.3L202.6 388.4L203.0 393.8L203.4 395.0L203.8 390.7L204.2 387.0L204.6 382.5L205.0 376.4L205.4 369.1L205.8 361.6L206.2 355.8L206.6 352.7L207.0 357.9L207.4 365.2L207.8 373.0L208.2 380.5L208.6 387.4L209.0 394.4L209.4 402.2L209.8 400.9L210.2 393.5L210.6 386.6L211.0 379.4L211.4 371.7L211.8 363.8L212.2 356.8L212.6 353.0L213.0 357.7L213.4 364.2L213.8 371.1L214.2 377.3L214.6 382.6L215.0 387.3L215.4 392.2L215.8 398.2L216.2 405.8L216.6 414.6L217.0 408.8L217.4 399.8L217.8 390.0L218.2 379.6L218.6 369.5L219.0 361.0L219.4 357.3L219.8 359.6L220.2 366.6L220.6 376.4L221.0 386.2L221.4 393.4L221.8 397.3L222.2 399.0L222.6 390.3L223.0 384.6L223.4 382.7L223.8 383.1L224.2 383.1L224.6 380.4L225.0 374.5L225.4 367.0L225.8 361.0L226.2 366.9L226.6 374.8L227.0 382.2L227.4 387.9L227.8 392.3L228.2 397.0L228.6 390.2L229.0 385.8L229.4 382.6L229.8 378.5L230.2 372.4L230.6 364.9L231.0 358.0L231.4 354.2L231.8 356.5L232.2 357.8L232.6 355.3L233.0 345.7L233.4 336.7L233.8 363.1L234.2 376.1L234.6 387.5L235.0 394.7L235.4 392.5L235.8 389.2L236.2 384.6L236.6 379.2L237.0 373.4L237.4 368.2L237.8 364.5L238.2 365.3L238.6 370.9L239.0 377.8L239.4 384.0L239.8 388.4L240.2 391.2L240.6 393.8L241.0 397.5L241.4 404.1L241.8 408.3L242.2 401.1L242.6 391.0L243.0 381.2L243.4 368.8L243.8 360.0L244.2 355.2L244.6 363.0L245.0 368.7L245.4 376.1L245.8 376.1L246.2 378.0L246.6 375.9L247.0 381.4L247.4 386.3L247.8 399.7L248.2 392.5L248.6 389.9L249.0 377.5L249.4 371.5L249.8 358.7L250.2 360.0L250.6 357.3L251.0 367.2L251.4 371.2L251.8 381.2L252.2 382.3L252.6 389.2L253.0 384.7L253.4 390.6L253.8 389.3L254.2 401.0L254.6 393.2L255.0 410.8L255.4 389.5L255.8 392.4L256.2 376.5L256.6 373.4L257.0 360.3L257.4 367.0L257.8 370.9L258.2 387.8L258.6 387.1L259.0 397.1L259.4 395.4L259.8 412.5L260.2 397.4L260.6 405.8L261.0 391.6L261.4 393.4L261.8 379.3L262.2 377.8L262.6 362.2L263.0 364.4L263.4 361.5L263.8 379.5L264.2 380.6L264.6 400.0L265.0 389.1L265.4 401.4L265.8 392.8L266.2 413.2L266.6 410.6L267.0 450.3L267.4 403.2L267.8 409.4L268.2 383.2L268.6 387.1L269.0 367.5L269.4 384.2L269.8 378.0L270.2 399.2L270.6 402.9L271.0 426.1L271.4 428.9L271.8 450.3L272.2 448.1L272.6 450.3L273.0 450.3L273.4 450.3L273.8 436.0L274.2 436.4L274.6 412.4L275.0 408.7L275.4 383.0L275.8 377.7L276.2 370.0L276.6 404.0L277.0 405.5L277.4 435.0L277.8 432.7L278.2 450.3L278.6 450.3L279.0 450.3L279.4 438.7L279.8 450.3L280.2 417.7L280.6 421.1L281.0 391.7L281.4 397.5L281.8 373.9L282.2 398.5L282.6 386.7L283.0 408.5L283.4 405.3L283.8 429.2L284.2 423.0L284.6 448.8L285.0 438.7L285.4 450.3L285.8 434.2L286.2 440.0L286.6 413.8L287.0 428.5L287.4 394.6L287.8 407.1L288.2 371.3L288.6 378.7L289.0 359.9L289.4 390.1L289.8 372.4L290.2 417.0L290.6 380.6L291.0 405.9L291.4 383.9L291.8 396.8L292.2 376.2L292.6 391.1L293.0 369.3L293.4 390.7L293.8 360.9L294.2 381.7L294.6 350.5L295.0 379.0L295.4 363.3L295.8 390.3L296.2 375.4L296.6 401.5L297.0 380.5L297.4 397.2L297.8 383.9L298.2 403.1L298.6 379.5L299.0 393.0L299.4 372.5L299.8 389.5L300.2 361.3L300.6 376.2L301.0 358.8L301.4 382.0L301.8 369.1L302.2 405.2L302.6 377.5L303.0 402.9L303.4 381.0L303.8 406.1L304.2 386.2L304.6 408.2L305.0 378.7L305.4 439.8L305.8 367.5L306.2 384.0L306.6 349.8L307.0 362.7L307.4 337.7L307.8 336.7L308.2 317.0L308.6 357.2L309.0 354.7L309.4 382.7L309.8 366.0L310.2 389.9L310.6 373.6L311.0 398.0L311.4 370.6L311.8 404.0L312.2 361.3L312.6 379.8L313.0 346.3L313.4 359.3L313.8 342.5L314.2 381.2L314.6 351.3L315.0 382.5L315.4 356.3L315.8 383.9L316.2 360.0L316.6 399.9L317.0 362.3L317.4 391.2L317.8 357.9L318.2 381.4L318.6 351.5L319.0 378.1L319.4 341.5L319.8 369.1L320.2 338.7L320.6 368.5L321.0 351.6L321.4 392.7L321.8 360.1L322.2 392.3L322.6 364.7L323.0 397.2L323.4 363.7L323.8 393.8L324.2 359.1L324.6 412.4L325.0 351.1L325.4 371.3L325.8 340.1L326.2 352.8L326.6 324.1L327.0 356.0L327.4 339.5L327.8 367.2L328.2 346.5L328.6 371.3L329.0 350.4L329.4 379.8L329.8 353.0L330.2 378.5L330.6 351.5L331.0 384.2L331.4 347.7L331.8 388.9L332.2 342.5L332.6 374.0L333.0 339.1L333.4 368.7L333.8 344.5L334.2 372.1L334.6 347.8L335.0 375.2L335.4 350.4L335.8 388.4L336.2 349.9L336.6 376.8L337.0 346.2L337.4 371.8L337.8 342.4L338.2 366.3L338.6 335.7L339.0 363.2L339.4 342.1L339.8 372.3L340.2 347.0L340.6 377.3L341.0 350.1L341.4 376.0L341.8 350.0L342.2 378.9L342.6 347.3L343.0 372.2L343.4 343.2L343.8 365.1L344.2 336.1L344.6 362.7L345.0 334.8L345.4 365.1L345.8 341.2L346.2 367.8L346.6 344.6L347.0 371.9L347.4 346.6L347.8 372.0L348.2 346.4L348.6 369.0L349.0 343.9L349.4 367.7L349.8 340.5L350.2 367.4L350.6 334.2L351.0 356.4L351.4 330.0L351.8 352.6L352.2 327.9L352.6 330.9L353.0 308.0L353.4 332.9L353.8 330.2L354.2 359.7L354.6 339.8L355.0 370.7L355.4 341.7L355.8 369.8L356.2 341.8L356.6 392.5L357.0 344.1L357.4 413.4L357.8 334.9L358.2 360.5L358.6 334.6L359.0 368.2L359.4 339.5L359.8 367.1L360.2 342.1L360.6 372.8L361.0 343.6L361.4 368.1L361.8 340.8L362.2 362.1L362.6 335.3L363.0 359.8L363.4 326.6L363.8 341.1L364.2 320.7L364.6 357.0L365.0 331.1L365.4 363.5L365.8 335.3L366.2 361.9L366.6 337.5L367.0 366.5L367.4 338.7L367.8 365.2L368.2 337.2L368.6 359.6L369.0 333.3L369.4 361.0L369.8 326.1L370.2 360.5L370.6 314.5L371.0 353.5L371.4 329.1L371.8 363.8L372.2 336.2L372.6 373.1L373.0 341.5L373.4 374.5L373.8 340.1L374.2 362.2L374.6 335.1L375.0 366.1L375.4 326.3L375.8 350.1L376.2 305.9L376.6 340.3L377.0 325.2L377.4 355.1L377.8 334.1L378.2 363.0L378.6 338.7L379.0 368.9L379.4 340.0L379.8 367.5L380.2 336.5L380.6 357.8L381.0 330.6L381.4 352.8L381.8 319.4L382.2 335.5L382.6 303.6L383.0 337.8L383.4 318.8L383.8 335.9L384.2 315.7L384.6 313.9L385.0 297.0L385.4 337.9L385.8 327.7L386.2 363.6L386.6 337.9L387.0 437.6L387.4 338.1L387.8 374.4L388.2 332.3L388.6 361.7L389.0 325.2L389.4 346.8L389.8 321.5L390.2 350.6L390.6 329.7L391.0 361.9L391.4 334.4L391.8 381.9L392.2 337.9L392.6 371.9L393.0 336.2L393.4 360.2L393.8 333.9L394.2 359.3L394.6 331.1L395.0 353.1L395.4 327.0L395.8 355.4L396.2 330.2L396.6 402.5L397.0 335.4L397.4 382.0L397.8 332.9L398.2 358.3L398.6 333.6L399.0 382.6L399.4 336.6L399.8 389.7L400.2 330.0L400.6 361.1L401.0 324.0L401.4 348.4L401.8 319.3L402.2 358.2L402.6 327.5L403.0 355.5L403.4 332.2L403.8 368.6L404.2 336.9L404.6 366.5L405.0 336.2L405.4 364.4L405.8 333.9L406.2 372.4L406.6 333.2L407.0 392.9L407.4 327.1L407.8 359.6L408.2 325.0L408.6 408.7L409.0 332.3L409.4 380.2L409.8 331.4L410.2 363.0L410.6 332.6L411.0 360.1L411.4 334.0L411.8 363.2L412.2 328.0L412.6 346.3L413.0 318.3L413.4 334.8L413.8 299.4L414.2 333.1L414.6 308.9L415.0 344.5L415.4 321.7L415.8 352.4L416.2 328.7L416.6 369.3L417.0 335.1L417.4 440.3L417.8 334.8L418.2 371.8L418.6 328.6L419.0 355.9L419.4 323.0L419.8 346.8L420.2 312.5L420.6 341.4L421.0 318.2L421.4 355.8L421.8 326.1L422.2 372.6L422.6 328.7L423.0 360.5L423.4 330.4L423.8 353.5L424.2 329.5L424.6 356.9L425.0 325.6L425.4 346.9L425.8 320.0L426.2 341.5L426.6 310.3L427.0 334.8L427.4 316.2L427.8 338.1L428.2 312.2L428.6 314.2L429.0 291.0L429.4 316.1L429.8 314.8L430.2 345.9L430.6 325.0L431.0 368.4L431.4 325.4L431.8 351.8L432.2 322.5L432.6 355.5L433.0 317.5L433.4 336.0L433.8 312.9L434.2 352.9L434.6 321.5L435.0 360.2L435.4 323.7L435.8 346.9L436.2 326.0L436.6 358.3L437.0 328.1L437.4 361.1L437.8 324.7L438.2 346.2L438.6 322.2L439.0 349.9L439.4 319.3L439.8 344.3L440.2 320.7L440.6 349.7L441.0 323.0L441.4 354.7L441.8 325.1L442.2 369.5L442.6 325.3L443.0 348.6L443.4 322.1L443.8 344.8L444.2 317.4L444.6 338.8L445.0 307.8L445.4 324.1L445.8 300.0L446.2 329.2L446.6 313.4L447.0 342.0L447.4 319.6L447.8 363.1L448.2 321.6L448.6 350.7L449.0 322.2L449.4 351.0L449.8 322.2L450.2 350.9L450.6 316.5L451.0 339.1L451.4 307.4L451.8 337.6L452.2 284.3L452.6 309.9L453.0 296.9L453.4 336.6L453.8 314.0L454.2 394.8L454.6 322.7L455.0 359.1L455.4 322.3L455.8 347.4L456.2 320.1L456.6 349.8L457.0 317.9L457.4 349.3L457.8 312.2L458.2 332.1L458.6 311.5L459.0 346.7L459.4 316.1L459.8 348.0L460.2 320.0L460.6 386.3L461.0 321.4L461.4 354.7L461.8 319.1L462.2 345.5L462.6 316.1L463.0 340.2L463.4 311.3L463.8 329.6L464.2 302.1L464.6 338.2L465.0 309.8L465.4 356.3L465.8 314.9L466.2 347.9L466.6 318.0L467.0 341.8L467.4 320.7L467.8 354.7L468.2 322.5L468.6 347.6L469.0 319.1L469.4 345.9L469.8 315.1L470.2 338.5L470.6 308.3L471.0 334.3L471.4 303.0L471.8 332.1L472.2 312.4L472.6 352.1L473.0 318.3L473.4 351.0L473.8 319.8L474.2 348.0L474.6 318.9L475.0 345.0L475.4 317.4L475.8 355.8L476.2 316.3L476.6 350.3L477.0 311.6L477.4 335.6L477.8 306.6L478.2 334.1L478.6 312.2L479.0 347.4L479.4 315.0L479.8 347.9L480.2 317.0L480.6 348.3L481.0 314.9L481.4 348.9L481.8 306.8L482.2 322.5L482.6 292.6L483.0 304.4L483.4 276.8L483.8 305.0L484.2 288.1L484.6 283.0L485.0 295.6L485.4 322.8L485.8 309.4L486.2 346.7L486.6 317.2L487.0 347.6L487.4 319.5L487.8 352.9L488.2 317.4L488.6 368.6L489.0 311.6L489.4 334.7L489.8 300.8L490.2 324.3L490.6 297.5L491.0 328.0L491.4 307.6L491.8 333.1L492.2 312.2L492.6 340.5L493.0 314.8L493.4 349.6L493.8 314.9L494.2 339.6L494.6 311.6L495.0 334.8L495.4 306.3L495.8 332.6L496.2 302.4L496.6 344.3L497.0 308.7L497.4 341.3L497.8 312.2L498.2 339.8L498.6 314.8L499.0 362.4L499.4 317.5L499.8 350.0L500.2 312.3L500.6 339.0L501.0 306.3L501.4 329.8L501.8 295.8L502.2 332.4L502.6 294.1L503.0 331.3L503.4 304.7L503.8 334.2L504.2 310.3L504.6 357.0L505.0 313.1L505.4 339.3L505.8 314.1L506.2 338.2L506.6 312.9L507.0 347.9L507.4 308.7L507.8 332.5L508.2 299.7L508.6 324.5L509.0 304.0L509.4 339.6L509.8 310.8L510.2 339.5L510.6 314.3L511.0 343.0L511.4 316.8L511.8 345.5L512.2 319.3L512.6 345.0L513.0 314.8L513.4 337.5L513.8 310.1L514.2 330.2L514.6 304.0L515.0 322.4L515.4 300.2L515.8 319.0L516.2 294.0L516.6 290.9L517.0 277.2L517.4 321.6L517.8 304.2L518.2 335.1L518.6 310.2L519.0 334.5L519.4 310.7L519.8 339.5L520.2 309.2L520.6 341.9L521.0 304.6L521.4 339.1L521.8 299.3L522.2 373.7L522.6 307.0L523.0 341.4L523.4 310.6L523.8 381.2L524.2 316.8L524.6 365.4L525.0 313.1L525.4 339.0L525.8 309.4L526.2 337.3L526.6 304.6L527.0 326.0L527.4 295.1L527.8 317.9L528.2 295.7L528.6 350.6L529.0 308.0L529.4 350.7L529.8 308.4L530.2 338.1L530.6 310.1L531.0 338.6L531.4 310.8L531.8 340.7L532.2 309.5L532.6 335.3L533.0 307.7L533.4 335.3L533.8 305.0L534.2 342.1L534.6 303.4L535.0 339.1L535.4 306.8L535.8 343.3L536.2 310.9L536.6 368.8L537.0 312.4L537.4 342.8L537.8 311.8L538.2 336.4L538.6 307.5L539.0 340.4L539.4 301.7L539.8 328.7L540.2 288.0L540.6 327.2L541.0 300.2L541.4 339.6L541.8 306.0L542.2 336.1L542.6 308.6L543.0 343.6L543.4 311.1L543.8 342.6L544.2 308.5L544.6 331.1L545.0 306.1L545.4 336.4L545.8 301.9L546.2 322.8L546.6 295.2L547.0 320.0L547.4 302.2L547.8 329.2L548.2 305.8L548.6 337.8L549.0 307.8L549.4 337.6L549.8 308.0L550.2 336.7L550.6 307.2L551.0 344.0L551.4 305.8L551.8 333.9L552.2 302.9L552.6 322.0L553.0 301.2L553.4 329.0L553.8 304.3L554.2 334.3L554.6 305.7L555.0 330.7L555.4 307.2L555.8 336.5L556.2 307.5L556.6 341.4L557.0 308.8L557.4 356.7L557.8 306.5L558.2 334.3L558.6 302.9L559.0 330.8L559.4 296.8L559.8 316.3L560.2 297.6L560.6 332.7L561.0 302.1L561.4 325.3L561.8 298.5L562.2 310.1L562.6 285.5L563.0 271.0L563.4 285.5L563.8 309.6L564.2 296.4L564.6 319.6L565.0 293.9L565.4 314.4L565.8 278.7L566.2 300.3L566.6 288.9L567.0 323.6L567.4 300.3L567.8 339.0L568.2 305.7L568.6 332.2L569.0 308.8L569.4 344.7L569.8 308.6L570.2 333.6L570.6 302.7L571.0 320.8L571.4 294.4L571.8 319.9L572.2 295.0L572.6 321.2L573.0 301.7L573.4 330.3L573.8 305.5L574.2 341.1L574.6 308.7L575.0 336.4L575.4 307.9L575.8 331.9L576.2 305.0L576.6 329.7L577.0 301.7L577.4 331.9L577.8 296.4L578.2 322.8L578.6 297.3L579.0 336.6L579.4 303.3L579.8 344.4L580.2 304.8L580.6 330.5L581.0 306.7L581.4 335.4L581.8 307.9L582.2 340.6L582.6 304.1L583.0 331.5L583.4 295.2L583.8 318.9L584.2 280.9L584.6 322.6L585.0 292.9L585.4 332.6L585.8 299.5L586.2 332.9L586.6 304.5L587.0 341.1L587.4 306.9L587.8 332.5L588.2 306.3L588.6 336.3L589.0 302.9L589.4 329.6L589.8 296.6L590.2 315.7L590.6 285.1L591.0 302.4L591.4 284.5L591.8 318.2L592.2 296.5L592.6 321.7L593.0 302.8L593.4 339.0L593.8 307.2L594.2 333.9L594.6 304.7L595.0 328.5L595.4 299.4L595.8 325.2L596.2 290.8L596.6 307.2L597.0 287.9L597.4 325.1L597.8 298.4L598.2 337.3L598.6 303.6L599.0 335.0L599.4 307.2L599.8 331.5L600.2 305.7L600.6 329.3L601.0 303.2L601.4 337.0L601.8 300.2L602.2 323.9L602.6 293.3L603.0 313.9L603.4 293.0L603.8 327.8L604.2 299.8L604.6 359.4L605.0 302.9L605.4 332.5L605.8 304.0L606.2 332.9L606.6 305.0L607.0 331.8L607.4 302.8L607.8 335.7L608.2 299.1L608.6 323.6L609.0 292.9L609.4 317.3L609.8 287.6L610.2 326.5L610.6 296.2L611.0 329.5L611.4 299.6L611.8 331.0L612.2 301.8L612.6 325.7L613.0 303.3L613.4 340.7L613.8 300.3L614.2 328.6L614.6 293.5L615.0 321.4L615.4 281.3L615.8 322.7L616.2 281.9L616.6 320.1L617.0 292.5L617.4 322.7L617.8 297.5L618.2 332.2L618.6 300.2L619.0 328.5L619.4 301.6L619.8 328.2L620.2 300.6L620.6 323.1L621.0 296.5L621.4 316.8L621.8 290.4L622.2 314.6L622.6 277.6L623.0 312.1L623.4 289.8L623.8 321.3L624.2 295.9L624.6 325.8L625.0 299.4L625.4 327.4L625.8 301.2L626.2 334.3L626.6 301.4L627.0 340.9L627.4 297.8L627.8 325.4L628.2 291.3L628.6 312.0L629.0 285.6L629.4 323.9L629.8 294.2L630.2 320.1L630.6 297.0L631.0 325.8L631.4 299.3L631.8 347.3L632.2 299.1L632.6 322.2L633.0 296.0L633.4 322.0L633.8 292.3L634.2 318.9L634.6 290.8L635.0 326.3L635.4 335.5L635.8 380.0L636.2 324.2L636.6 335.6L637.0 303.5L637.4 325.7L637.8 301.3L638.2 333.1L638.6 302.8L639.0 334.5L639.4 298.5L639.8 320.3L640.2 291.0L640.6 316.1L641.0 277.2L641.4 332.8L641.8 279.6L642.2 313.7L642.6 291.0L643.0 323.2L643.4 297.0L643.8 332.9L644.2 299.8L644.6 330.2L645.0 298.4L645.4 326.8L645.8 297.0L646.2 327.5L646.6 290.4L647.0 315.1L647.4 277.5L647.8 300.6L648.2 282.5L648.6 312.3L649.0 292.1L649.4 324.4L649.8 296.3L650.2 345.3L650.6 302.0L651.0 353.9L651.4 299.1L651.8 324.2L652.2 296.1L652.6 322.2L653.0 292.0L653.4 318.1L653.8 283.2L654.2 310.2L654.6 287.0L655.0 312.3L655.4 293.5L655.8 320.4L656.2 297.2L656.6 332.2L657.0 298.9L657.4 327.6L657.8 297.7L658.2 321.6L658.6 295.7L659.0 327.7L659.4 295.6L659.8 326.4L660.2 314.4L660.6 371.9L661.0 398.0L661.4 349.3L661.8 306.4L662.2 325.4L662.6 299.8L663.0 321.3L663.4 298.4L663.8 323.9L664.2 295.4L664.6 321.3L665.0 291.3L665.4 313.8L665.8 284.4L666.2 315.5L666.6 287.5L667.0 323.9L667.4 292.3L667.8 317.9L668.2 295.3L668.6 325.2L669.0 297.8L669.4 332.5L669.8 300.9L670.2 330.6L670.6 297.2L671.0 325.8L671.4 294.1L671.8 324.5L672.2 289.8L672.6 334.3L673.0 286.2L673.4 326.4L673.8 291.4L674.2 317.1L674.6 294.3L675.0 321.8L675.4 295.9L675.8 325.7L676.2 295.3L676.6 353.1L677.0 292.4L677.4 329.2L677.8 279.5L678.2 312.5" stroke="#ff0000" stroke-width="1.40"/>
</g>
<rect x="45.0" y="262.3" width="633.5" height="184.0" fill="none" stroke="#262626" stroke-width="0.75"/>
<path d="M124.2 446.3v-6.3M124.2 262.3v6.3M203.4 446.3v-6.3M203.4 262.3v6.3M282.6 446.3v-6.3M282.6 262.3v6.3M361.8 446.3v-6.3M361.8 262.3v6.3M440.9 446.3v-6.3M440.9 262.3v6.3M520.1 446.3v-6.3M520.1 262.3v6.3M599.3 446.3v-6.3M599.3 262.3v6.3M45.0 420.0h6.3M678.5 420.0h-6.3M45.0 393.7h6.3M678.5 393.7h-6.3M45.0 367.4h6.3M678.5 367.4h-6.3M45.0 341.2h6.3M678.5 341.2h-6.3M45.0 314.9h6.3M678.5 314.9h-6.3M45.0 288.6h6.3M678.5 288.6h-6.3" fill="none" stroke="#262626" stroke-width="0.75"/>
<text x="40.5" y="451.5" font-size="12.5" text-anchor="end" textLength="7.3" lengthAdjust="spacingAndGlyphs">0</text>
<text x="40.5" y="425.2" font-size="12.5" text-anchor="end" textLength="14.7" lengthAdjust="spacingAndGlyphs">20</text>
<text x="40.5" y="398.9" font-size="12.5" text-anchor="end" textLength="14.7" lengthAdjust="spacingAndGlyphs">40</text>
<text x="40.5" y="372.6" font-size="12.5" text-anchor="end" textLength="14.7" lengthAdjust="spacingAndGlyphs">60</text>
<text x="40.5" y="346.4" font-size="12.5" text-anchor="end" textLength="14.7" lengthAdjust="spacingAndGlyphs">80</text>
<text x="40.5" y="320.1" font-size="12.5" text-anchor="end" textLength="22.0" lengthAdjust="spacingAndGlyphs">100</text>
<text x="40.5" y="293.8" font-size="12.5" text-anchor="end" textLength="22.0" lengthAdjust="spacingAndGlyphs">120</text>
<text x="40.5" y="267.5" font-size="12.5" text-anchor="end" textLength="22.0" lengthAdjust="spacingAndGlyphs">140</text>
<text x="45.0" y="464" font-size="12.5" text-anchor="middle" textLength="7.3" lengthAdjust="spacingAndGlyphs">0</text>
<text x="124.2" y="464" font-size="12.5" text-anchor="middle" textLength="7.3" lengthAdjust="spacingAndGlyphs">5</text>
<text x="203.4" y="464" font-size="12.5" text-anchor="middle" textLength="14.7" lengthAdjust="spacingAndGlyphs">10</text>
<text x="282.6" y="464" font-size="12.5" text-anchor="middle" textLength="14.7" lengthAdjust="spacingAndGlyphs">15</text>
<text x="361.8" y="464" font-size="12.5" text-anchor="middle" textLength="14.7" lengthAdjust="spacingAndGlyphs">20</text>
<text x="440.9" y="464" font-size="12.5" text-anchor="middle" textLength="14.7" lengthAdjust="spacingAndGlyphs">25</text>
<text x="520.1" y="464" font-size="12.5" text-anchor="middle" textLength="14.7" lengthAdjust="spacingAndGlyphs">30</text>
<text x="599.3" y="464" font-size="12.5" text-anchor="middle" textLength="14.7" lengthAdjust="spacingAndGlyphs">35</text>
<text x="678.5" y="464" font-size="12.5" text-anchor="middle" textLength="14.7" lengthAdjust="spacingAndGlyphs">40</text>
<text transform="translate(11.8,376.8) rotate(-90)" font-size="14" textLength="45" lengthAdjust="spacingAndGlyphs">NR[dB]</text>
<text x="10.6" y="252.6" font-size="18" font-weight="bold" fill="#000" textLength="22.8" lengthAdjust="spacingAndGlyphs">(b)</text>
<text font-style="italic" font-size="15" y="480.8"><tspan x="344.6">k</tspan><tspan x="351.7" dy="2.6" font-size="10" font-style="normal">1</tspan><tspan x="358.2" dy="-2.6">R</tspan><tspan x="368.5" dy="2.6" font-size="10" font-style="normal">2</tspan><tspan x="374" font-size="10">o</tspan></text>
<rect x="145.5" y="269.2" width="70.2" height="46.4" fill="#fff" stroke="#262626" stroke-width="0.75"/><path d="M148.1 277.3H168.3" stroke="#000" stroke-width="1.00"/><text x="170.0" y="282.4" font-size="11.5" textLength="42.8" lengthAdjust="spacingAndGlyphs"><tspan font-style="italic" font-size="12" stroke="none">α</tspan> = 0.85</text><path d="M148.1 293.0H168.3" stroke="#0000ff" stroke-width="1.00"/><text x="170.0" y="297.6" font-size="11.5" textLength="42.8" lengthAdjust="spacingAndGlyphs"><tspan font-style="italic" font-size="12" stroke="none">α</tspan> = 0.45</text><path d="M148.1 307.8H168.3" stroke="#ff0000" stroke-width="1.00"/><text x="170.0" y="312.7" font-size="11.5" textLength="42.8" lengthAdjust="spacingAndGlyphs"><tspan font-style="italic" font-size="12" stroke="none">α</tspan> = 0.05</text>
</svg></body></html>
